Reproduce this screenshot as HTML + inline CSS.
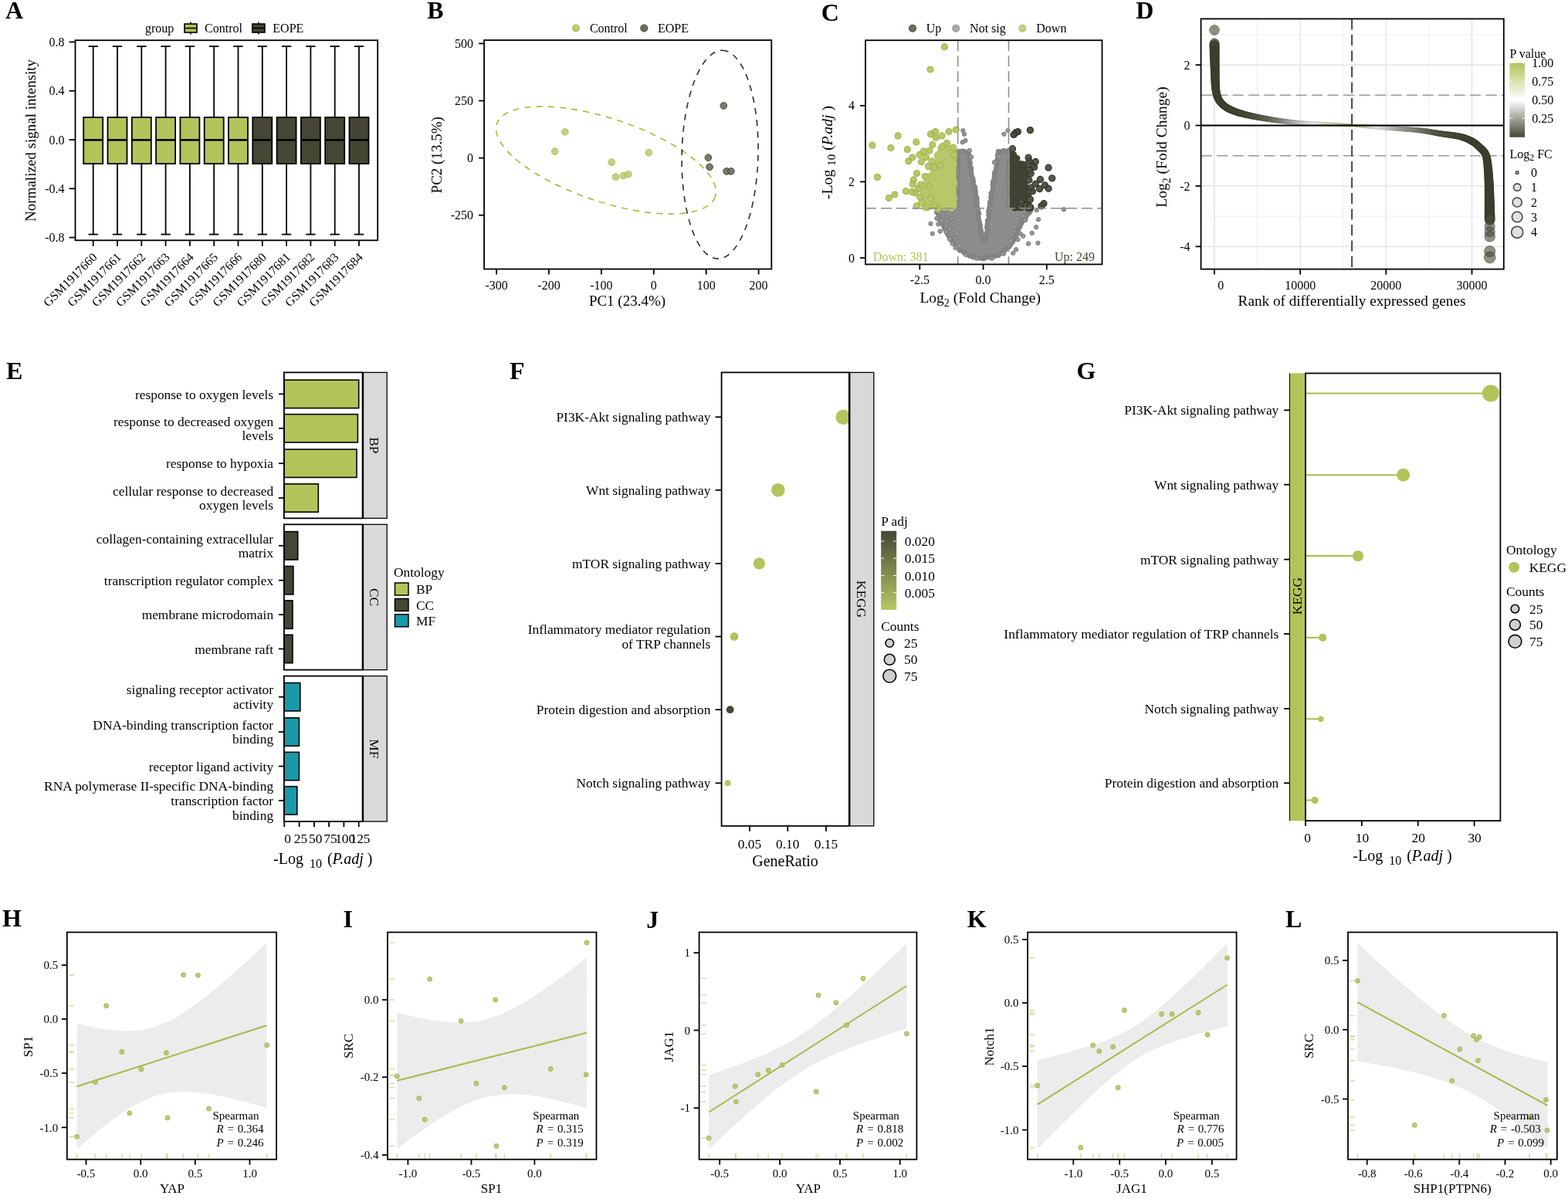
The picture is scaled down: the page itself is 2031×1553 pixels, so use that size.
<!DOCTYPE html><html><head><meta charset="utf-8"><title>Figure</title><style>html,body{margin:0;padding:0;background:#fff;width:2031px;height:1553px;overflow:hidden}svg{display:block}</style></head><body><svg width="2031" height="1553" viewBox="0 0 2031 1553" font-family="'Liberation Serif', serif" fill="#000"><text x="7" y="24.1" font-size="32" font-weight="bold">A</text>
<text x="188" y="41.9" font-size="16">group</text>
<line x1="247" y1="28.5" x2="247" y2="44.5" stroke="#000" stroke-width="1.6"/>
<rect x="239" y="31" width="16" height="11" fill="#b2c459" stroke="#000" stroke-width="1.6"/>
<line x1="239" y1="36.5" x2="255" y2="36.5" stroke="#000" stroke-width="1.6"/>
<text x="265.1" y="41.9" font-size="16">Control</text>
<line x1="334.9" y1="28.5" x2="334.9" y2="44.5" stroke="#000" stroke-width="1.6"/>
<rect x="326.9" y="31" width="16" height="11" fill="#454633" stroke="#000" stroke-width="1.6"/>
<line x1="326.9" y1="36.5" x2="342.9" y2="36.5" stroke="#000" stroke-width="1.6"/>
<text x="353.3" y="41.9" font-size="16">EOPE</text>
<line x1="120.7" y1="60" x2="120.7" y2="152" stroke="#000" stroke-width="1.8"/>
<line x1="120.7" y1="212" x2="120.7" y2="303.6" stroke="#000" stroke-width="1.8"/>
<line x1="114.5" y1="60" x2="126.9" y2="60" stroke="#000" stroke-width="1.8"/>
<line x1="114.5" y1="303.6" x2="126.9" y2="303.6" stroke="#000" stroke-width="1.8"/>
<rect x="108.2" y="152" width="25" height="60" fill="#b2c459" stroke="#000" stroke-width="1.8"/>
<line x1="108.2" y1="181.3" x2="133.2" y2="181.3" stroke="#000" stroke-width="2.6"/>
<line x1="152" y1="60" x2="152" y2="152" stroke="#000" stroke-width="1.8"/>
<line x1="152" y1="212" x2="152" y2="303.6" stroke="#000" stroke-width="1.8"/>
<line x1="145.8" y1="60" x2="158.2" y2="60" stroke="#000" stroke-width="1.8"/>
<line x1="145.8" y1="303.6" x2="158.2" y2="303.6" stroke="#000" stroke-width="1.8"/>
<rect x="139.5" y="152" width="25" height="60" fill="#b2c459" stroke="#000" stroke-width="1.8"/>
<line x1="139.5" y1="181.3" x2="164.5" y2="181.3" stroke="#000" stroke-width="2.6"/>
<line x1="183.3" y1="60" x2="183.3" y2="152" stroke="#000" stroke-width="1.8"/>
<line x1="183.3" y1="212" x2="183.3" y2="303.6" stroke="#000" stroke-width="1.8"/>
<line x1="177.1" y1="60" x2="189.5" y2="60" stroke="#000" stroke-width="1.8"/>
<line x1="177.1" y1="303.6" x2="189.5" y2="303.6" stroke="#000" stroke-width="1.8"/>
<rect x="170.8" y="152" width="25" height="60" fill="#b2c459" stroke="#000" stroke-width="1.8"/>
<line x1="170.8" y1="181.3" x2="195.8" y2="181.3" stroke="#000" stroke-width="2.6"/>
<line x1="214.6" y1="60" x2="214.6" y2="152" stroke="#000" stroke-width="1.8"/>
<line x1="214.6" y1="212" x2="214.6" y2="303.6" stroke="#000" stroke-width="1.8"/>
<line x1="208.4" y1="60" x2="220.8" y2="60" stroke="#000" stroke-width="1.8"/>
<line x1="208.4" y1="303.6" x2="220.8" y2="303.6" stroke="#000" stroke-width="1.8"/>
<rect x="202.1" y="152" width="25" height="60" fill="#b2c459" stroke="#000" stroke-width="1.8"/>
<line x1="202.1" y1="181.3" x2="227.1" y2="181.3" stroke="#000" stroke-width="2.6"/>
<line x1="245.9" y1="60" x2="245.9" y2="152" stroke="#000" stroke-width="1.8"/>
<line x1="245.9" y1="212" x2="245.9" y2="303.6" stroke="#000" stroke-width="1.8"/>
<line x1="239.7" y1="60" x2="252.1" y2="60" stroke="#000" stroke-width="1.8"/>
<line x1="239.7" y1="303.6" x2="252.1" y2="303.6" stroke="#000" stroke-width="1.8"/>
<rect x="233.4" y="152" width="25" height="60" fill="#b2c459" stroke="#000" stroke-width="1.8"/>
<line x1="233.4" y1="181.3" x2="258.4" y2="181.3" stroke="#000" stroke-width="2.6"/>
<line x1="277.2" y1="60" x2="277.2" y2="152" stroke="#000" stroke-width="1.8"/>
<line x1="277.2" y1="212" x2="277.2" y2="303.6" stroke="#000" stroke-width="1.8"/>
<line x1="271" y1="60" x2="283.4" y2="60" stroke="#000" stroke-width="1.8"/>
<line x1="271" y1="303.6" x2="283.4" y2="303.6" stroke="#000" stroke-width="1.8"/>
<rect x="264.7" y="152" width="25" height="60" fill="#b2c459" stroke="#000" stroke-width="1.8"/>
<line x1="264.7" y1="181.3" x2="289.7" y2="181.3" stroke="#000" stroke-width="2.6"/>
<line x1="308.5" y1="60" x2="308.5" y2="152" stroke="#000" stroke-width="1.8"/>
<line x1="308.5" y1="212" x2="308.5" y2="303.6" stroke="#000" stroke-width="1.8"/>
<line x1="302.3" y1="60" x2="314.7" y2="60" stroke="#000" stroke-width="1.8"/>
<line x1="302.3" y1="303.6" x2="314.7" y2="303.6" stroke="#000" stroke-width="1.8"/>
<rect x="296" y="152" width="25" height="60" fill="#b2c459" stroke="#000" stroke-width="1.8"/>
<line x1="296" y1="181.3" x2="321" y2="181.3" stroke="#000" stroke-width="2.6"/>
<line x1="339.8" y1="60" x2="339.8" y2="152" stroke="#000" stroke-width="1.8"/>
<line x1="339.8" y1="212" x2="339.8" y2="303.6" stroke="#000" stroke-width="1.8"/>
<line x1="333.6" y1="60" x2="346" y2="60" stroke="#000" stroke-width="1.8"/>
<line x1="333.6" y1="303.6" x2="346" y2="303.6" stroke="#000" stroke-width="1.8"/>
<rect x="327.3" y="152" width="25" height="60" fill="#454633" stroke="#000" stroke-width="1.8"/>
<line x1="327.3" y1="181.3" x2="352.3" y2="181.3" stroke="#000" stroke-width="2.6"/>
<line x1="371.1" y1="60" x2="371.1" y2="152" stroke="#000" stroke-width="1.8"/>
<line x1="371.1" y1="212" x2="371.1" y2="303.6" stroke="#000" stroke-width="1.8"/>
<line x1="364.9" y1="60" x2="377.3" y2="60" stroke="#000" stroke-width="1.8"/>
<line x1="364.9" y1="303.6" x2="377.3" y2="303.6" stroke="#000" stroke-width="1.8"/>
<rect x="358.6" y="152" width="25" height="60" fill="#454633" stroke="#000" stroke-width="1.8"/>
<line x1="358.6" y1="181.3" x2="383.6" y2="181.3" stroke="#000" stroke-width="2.6"/>
<line x1="402.4" y1="60" x2="402.4" y2="152" stroke="#000" stroke-width="1.8"/>
<line x1="402.4" y1="212" x2="402.4" y2="303.6" stroke="#000" stroke-width="1.8"/>
<line x1="396.2" y1="60" x2="408.6" y2="60" stroke="#000" stroke-width="1.8"/>
<line x1="396.2" y1="303.6" x2="408.6" y2="303.6" stroke="#000" stroke-width="1.8"/>
<rect x="389.9" y="152" width="25" height="60" fill="#454633" stroke="#000" stroke-width="1.8"/>
<line x1="389.9" y1="181.3" x2="414.9" y2="181.3" stroke="#000" stroke-width="2.6"/>
<line x1="433.7" y1="60" x2="433.7" y2="152" stroke="#000" stroke-width="1.8"/>
<line x1="433.7" y1="212" x2="433.7" y2="303.6" stroke="#000" stroke-width="1.8"/>
<line x1="427.5" y1="60" x2="439.9" y2="60" stroke="#000" stroke-width="1.8"/>
<line x1="427.5" y1="303.6" x2="439.9" y2="303.6" stroke="#000" stroke-width="1.8"/>
<rect x="421.2" y="152" width="25" height="60" fill="#454633" stroke="#000" stroke-width="1.8"/>
<line x1="421.2" y1="181.3" x2="446.2" y2="181.3" stroke="#000" stroke-width="2.6"/>
<line x1="465" y1="60" x2="465" y2="152" stroke="#000" stroke-width="1.8"/>
<line x1="465" y1="212" x2="465" y2="303.6" stroke="#000" stroke-width="1.8"/>
<line x1="458.8" y1="60" x2="471.2" y2="60" stroke="#000" stroke-width="1.8"/>
<line x1="458.8" y1="303.6" x2="471.2" y2="303.6" stroke="#000" stroke-width="1.8"/>
<rect x="452.5" y="152" width="25" height="60" fill="#454633" stroke="#000" stroke-width="1.8"/>
<line x1="452.5" y1="181.3" x2="477.5" y2="181.3" stroke="#000" stroke-width="2.6"/>
<rect x="97.5" y="52.2" width="391.7" height="259.1" fill="none" stroke="#000" stroke-width="1.8"/>
<line x1="89.5" y1="54.4" x2="97.5" y2="54.4" stroke="#000" stroke-width="1.8"/>
<text x="83.5" y="60" font-size="16" text-anchor="end">0.8</text>
<line x1="89.5" y1="117.7" x2="97.5" y2="117.7" stroke="#000" stroke-width="1.8"/>
<text x="83.5" y="123.3" font-size="16" text-anchor="end">0.4</text>
<line x1="89.5" y1="181" x2="97.5" y2="181" stroke="#000" stroke-width="1.8"/>
<text x="83.5" y="186.6" font-size="16" text-anchor="end">0.0</text>
<line x1="89.5" y1="244.3" x2="97.5" y2="244.3" stroke="#000" stroke-width="1.8"/>
<text x="83.5" y="249.9" font-size="16" text-anchor="end">-0.4</text>
<line x1="89.5" y1="307.6" x2="97.5" y2="307.6" stroke="#000" stroke-width="1.8"/>
<text x="83.5" y="313.2" font-size="16" text-anchor="end">-0.8</text>
<line x1="120.7" y1="311.3" x2="120.7" y2="318.8" stroke="#000" stroke-width="1.8"/>
<text x="126.7" y="334" font-size="16" text-anchor="end" transform="rotate(-45 126.7 334)">GSM1917660</text>
<line x1="152" y1="311.3" x2="152" y2="318.8" stroke="#000" stroke-width="1.8"/>
<text x="158" y="334" font-size="16" text-anchor="end" transform="rotate(-45 158 334)">GSM1917661</text>
<line x1="183.3" y1="311.3" x2="183.3" y2="318.8" stroke="#000" stroke-width="1.8"/>
<text x="189.3" y="334" font-size="16" text-anchor="end" transform="rotate(-45 189.3 334)">GSM1917662</text>
<line x1="214.6" y1="311.3" x2="214.6" y2="318.8" stroke="#000" stroke-width="1.8"/>
<text x="220.6" y="334" font-size="16" text-anchor="end" transform="rotate(-45 220.6 334)">GSM1917663</text>
<line x1="245.9" y1="311.3" x2="245.9" y2="318.8" stroke="#000" stroke-width="1.8"/>
<text x="251.9" y="334" font-size="16" text-anchor="end" transform="rotate(-45 251.9 334)">GSM1917664</text>
<line x1="277.2" y1="311.3" x2="277.2" y2="318.8" stroke="#000" stroke-width="1.8"/>
<text x="283.2" y="334" font-size="16" text-anchor="end" transform="rotate(-45 283.2 334)">GSM1917665</text>
<line x1="308.5" y1="311.3" x2="308.5" y2="318.8" stroke="#000" stroke-width="1.8"/>
<text x="314.5" y="334" font-size="16" text-anchor="end" transform="rotate(-45 314.5 334)">GSM1917666</text>
<line x1="339.8" y1="311.3" x2="339.8" y2="318.8" stroke="#000" stroke-width="1.8"/>
<text x="345.8" y="334" font-size="16" text-anchor="end" transform="rotate(-45 345.8 334)">GSM1917680</text>
<line x1="371.1" y1="311.3" x2="371.1" y2="318.8" stroke="#000" stroke-width="1.8"/>
<text x="377.1" y="334" font-size="16" text-anchor="end" transform="rotate(-45 377.1 334)">GSM1917681</text>
<line x1="402.4" y1="311.3" x2="402.4" y2="318.8" stroke="#000" stroke-width="1.8"/>
<text x="408.4" y="334" font-size="16" text-anchor="end" transform="rotate(-45 408.4 334)">GSM1917682</text>
<line x1="433.7" y1="311.3" x2="433.7" y2="318.8" stroke="#000" stroke-width="1.8"/>
<text x="439.7" y="334" font-size="16" text-anchor="end" transform="rotate(-45 439.7 334)">GSM1917683</text>
<line x1="465" y1="311.3" x2="465" y2="318.8" stroke="#000" stroke-width="1.8"/>
<text x="471" y="334" font-size="16" text-anchor="end" transform="rotate(-45 471 334)">GSM1917684</text>
<text x="45.9" y="181.9" font-size="19" text-anchor="middle" transform="rotate(-90 45.9 181.9)">Normalized signal intensity</text>
<text x="553.2" y="23.9" font-size="32" font-weight="bold">B</text>
<circle cx="746" cy="36.5" r="4.6" fill="#bccb78" stroke="#a9bb55" stroke-width="1"/>
<text x="763.9" y="42.2" font-size="16">Control</text>
<circle cx="834.3" cy="36.5" r="4.6" fill="#6b6d5c" stroke="#45473a" stroke-width="1"/>
<text x="852" y="42.2" font-size="16">EOPE</text>
<ellipse cx="785" cy="207.5" rx="149.1" ry="53.8" transform="rotate(18.47 785 207.5)" fill="none" stroke="#a6bc42" stroke-width="1.7" stroke-dasharray="8 7.2"/>
<ellipse cx="932.6" cy="200.2" rx="135" ry="49.4" transform="rotate(-88.7 932.6 200.2)" fill="none" stroke="#2e3023" stroke-width="1.6" stroke-dasharray="8 7.2"/>
<circle cx="731.9" cy="170.8" r="4.3" fill="#bccb78" stroke="#adbf5c" stroke-width="1" fill-opacity="0.9"/>
<circle cx="718.7" cy="196.1" r="4.3" fill="#bccb78" stroke="#adbf5c" stroke-width="1" fill-opacity="0.9"/>
<circle cx="792.1" cy="210.1" r="4.3" fill="#bccb78" stroke="#adbf5c" stroke-width="1" fill-opacity="0.9"/>
<circle cx="797.4" cy="229.1" r="4.3" fill="#bccb78" stroke="#adbf5c" stroke-width="1" fill-opacity="0.9"/>
<circle cx="807.4" cy="227.6" r="4.3" fill="#bccb78" stroke="#adbf5c" stroke-width="1" fill-opacity="0.9"/>
<circle cx="813.8" cy="225.7" r="4.3" fill="#bccb78" stroke="#adbf5c" stroke-width="1" fill-opacity="0.9"/>
<circle cx="840.4" cy="197.7" r="4.3" fill="#bccb78" stroke="#adbf5c" stroke-width="1" fill-opacity="0.9"/>
<circle cx="937.3" cy="136.9" r="4.3" fill="#6b6d5c" stroke="#45473a" stroke-width="1" fill-opacity="0.9"/>
<circle cx="917.4" cy="204.1" r="4.3" fill="#6b6d5c" stroke="#45473a" stroke-width="1" fill-opacity="0.9"/>
<circle cx="919.1" cy="216.3" r="4.3" fill="#6b6d5c" stroke="#45473a" stroke-width="1" fill-opacity="0.9"/>
<circle cx="941.1" cy="221.9" r="4.3" fill="#6b6d5c" stroke="#45473a" stroke-width="1" fill-opacity="0.9"/>
<circle cx="946.9" cy="221.9" r="4.3" fill="#6b6d5c" stroke="#45473a" stroke-width="1" fill-opacity="0.9"/>
<rect x="627.1" y="52" width="372.2" height="296.5" fill="none" stroke="#000" stroke-width="1.8"/>
<line x1="620.1" y1="56.4" x2="627.1" y2="56.4" stroke="#000" stroke-width="1.8"/>
<text x="613.1" y="62" font-size="16" text-anchor="end">500</text>
<line x1="620.1" y1="130.5" x2="627.1" y2="130.5" stroke="#000" stroke-width="1.8"/>
<text x="613.1" y="136.1" font-size="16" text-anchor="end">250</text>
<line x1="620.1" y1="204.6" x2="627.1" y2="204.6" stroke="#000" stroke-width="1.8"/>
<text x="613.1" y="210.2" font-size="16" text-anchor="end">0</text>
<line x1="620.1" y1="278.7" x2="627.1" y2="278.7" stroke="#000" stroke-width="1.8"/>
<text x="613.1" y="284.3" font-size="16" text-anchor="end">-250</text>
<line x1="643.1" y1="348.5" x2="643.1" y2="355.5" stroke="#000" stroke-width="1.8"/>
<text x="643.1" y="374.5" font-size="16" text-anchor="middle">-300</text>
<line x1="711" y1="348.5" x2="711" y2="355.5" stroke="#000" stroke-width="1.8"/>
<text x="711" y="374.5" font-size="16" text-anchor="middle">-200</text>
<line x1="778.9" y1="348.5" x2="778.9" y2="355.5" stroke="#000" stroke-width="1.8"/>
<text x="778.9" y="374.5" font-size="16" text-anchor="middle">-100</text>
<line x1="846.8" y1="348.5" x2="846.8" y2="355.5" stroke="#000" stroke-width="1.8"/>
<text x="846.8" y="374.5" font-size="16" text-anchor="middle">0</text>
<line x1="914.7" y1="348.5" x2="914.7" y2="355.5" stroke="#000" stroke-width="1.8"/>
<text x="914.7" y="374.5" font-size="16" text-anchor="middle">100</text>
<line x1="982.6" y1="348.5" x2="982.6" y2="355.5" stroke="#000" stroke-width="1.8"/>
<text x="982.6" y="374.5" font-size="16" text-anchor="middle">200</text>
<text x="812.5" y="396" font-size="19" text-anchor="middle">PC1 (23.4%)</text>
<text x="572" y="200.8" font-size="19" text-anchor="middle" transform="rotate(-90 572 200.8)">PC2 (13.5%)</text>
<text x="1063.8" y="26.9" font-size="32" font-weight="bold">C</text>
<circle cx="1182" cy="36.8" r="4.4" fill="#6e705f" stroke="#4a4c3c" stroke-width="1.2"/>
<text x="1199.7" y="42.3" font-size="16">Up</text>
<circle cx="1238.2" cy="36.8" r="4.4" fill="#a9a9a9" stroke="#969696" stroke-width="1.2"/>
<text x="1256.1" y="42.3" font-size="16">Not sig</text>
<circle cx="1324.3" cy="36.8" r="4.4" fill="#c3d085" stroke="#b0c162" stroke-width="1.2"/>
<text x="1342.3" y="42.3" font-size="16">Down</text>
<path d="M1274.2 337 L1257.4 333.9 L1242.1 325.5 L1233.7 316.4 L1226.8 305.7 L1220.7 295 L1215.4 284.3 L1211.6 274.4 L1213.1 269.8 L1238.3 269.8 L1238.3 194.3 L1240.6 193.8 L1243.6 193.5 L1249.7 194 L1255.8 195.8 L1258.1 211.1 L1261.2 226.3 L1264.2 241.6 L1266.8 256.8 L1269.1 272.1 L1271.4 291.9 L1273.1 307.2 L1274.2 311.8 L1275.4 307.2 L1276.9 291.9 L1279.2 272.1 L1281.5 256.8 L1283.6 241.6 L1286.4 223.3 L1289.4 208 L1292.5 194.3 L1300.1 192.7 L1307 193.5 L1309.3 194.3 L1309.3 269.8 L1332.1 270.6 L1336.7 275.2 L1330.6 281.3 L1325.3 290.4 L1319.9 301.1 L1313.8 313.3 L1307.7 322.5 L1295.5 331.6Z" fill="#8c8c8c"/>
<path d="M1274.4 335.3m-2.6 0a2.6 2.6 0 1 0 5.2 0a2.6 2.6 0 1 0 -5.2 0 M1272 335.2m-2.6 0a2.6 2.6 0 1 0 5.2 0a2.6 2.6 0 1 0 -5.2 0 M1269.8 333.8m-2.6 0a2.6 2.6 0 1 0 5.2 0a2.6 2.6 0 1 0 -5.2 0 M1267.2 334.5m-2.6 0a2.6 2.6 0 1 0 5.2 0a2.6 2.6 0 1 0 -5.2 0 M1264.9 333.2m-2.6 0a2.6 2.6 0 1 0 5.2 0a2.6 2.6 0 1 0 -5.2 0 M1262.5 333.1m-2.6 0a2.6 2.6 0 1 0 5.2 0a2.6 2.6 0 1 0 -5.2 0 M1260 333.3m-2.6 0a2.6 2.6 0 1 0 5.2 0a2.6 2.6 0 1 0 -5.2 0 M1258.3 332.1m-2.6 0a2.6 2.6 0 1 0 5.2 0a2.6 2.6 0 1 0 -5.2 0 M1255.7 331.8m-2.6 0a2.6 2.6 0 1 0 5.2 0a2.6 2.6 0 1 0 -5.2 0 M1253.9 329.9m-2.6 0a2.6 2.6 0 1 0 5.2 0a2.6 2.6 0 1 0 -5.2 0 M1251.4 329.3m-2.6 0a2.6 2.6 0 1 0 5.2 0a2.6 2.6 0 1 0 -5.2 0 M1249.2 328.1m-2.6 0a2.6 2.6 0 1 0 5.2 0a2.6 2.6 0 1 0 -5.2 0 M1247.4 326.3m-2.6 0a2.6 2.6 0 1 0 5.2 0a2.6 2.6 0 1 0 -5.2 0 M1245.6 324.4m-2.6 0a2.6 2.6 0 1 0 5.2 0a2.6 2.6 0 1 0 -5.2 0 M1243 324.7m-2.6 0a2.6 2.6 0 1 0 5.2 0a2.6 2.6 0 1 0 -5.2 0 M1241.5 322.7m-2.6 0a2.6 2.6 0 1 0 5.2 0a2.6 2.6 0 1 0 -5.2 0 M1240.4 320.3m-2.6 0a2.6 2.6 0 1 0 5.2 0a2.6 2.6 0 1 0 -5.2 0 M1239.2 318.1m-2.6 0a2.6 2.6 0 1 0 5.2 0a2.6 2.6 0 1 0 -5.2 0 M1237 316.7m-2.6 0a2.6 2.6 0 1 0 5.2 0a2.6 2.6 0 1 0 -5.2 0 M1235.2 315.4m-2.6 0a2.6 2.6 0 1 0 5.2 0a2.6 2.6 0 1 0 -5.2 0 M1234.8 312.6m-2.6 0a2.6 2.6 0 1 0 5.2 0a2.6 2.6 0 1 0 -5.2 0 M1231.9 311.5m-2.6 0a2.6 2.6 0 1 0 5.2 0a2.6 2.6 0 1 0 -5.2 0 M1231.9 308.5m-2.6 0a2.6 2.6 0 1 0 5.2 0a2.6 2.6 0 1 0 -5.2 0 M1229.5 307m-2.6 0a2.6 2.6 0 1 0 5.2 0a2.6 2.6 0 1 0 -5.2 0 M1228 305m-2.6 0a2.6 2.6 0 1 0 5.2 0a2.6 2.6 0 1 0 -5.2 0 M1226.7 302.9m-2.6 0a2.6 2.6 0 1 0 5.2 0a2.6 2.6 0 1 0 -5.2 0 M1225.8 300.6m-2.6 0a2.6 2.6 0 1 0 5.2 0a2.6 2.6 0 1 0 -5.2 0 M1225.5 298m-2.6 0a2.6 2.6 0 1 0 5.2 0a2.6 2.6 0 1 0 -5.2 0 M1223.1 296.5m-2.6 0a2.6 2.6 0 1 0 5.2 0a2.6 2.6 0 1 0 -5.2 0 M1222.7 294m-2.6 0a2.6 2.6 0 1 0 5.2 0a2.6 2.6 0 1 0 -5.2 0 M1221.7 291.8m-2.6 0a2.6 2.6 0 1 0 5.2 0a2.6 2.6 0 1 0 -5.2 0 M1220.2 289.9m-2.6 0a2.6 2.6 0 1 0 5.2 0a2.6 2.6 0 1 0 -5.2 0 M1219.4 287.6m-2.6 0a2.6 2.6 0 1 0 5.2 0a2.6 2.6 0 1 0 -5.2 0 M1217.5 285.9m-2.6 0a2.6 2.6 0 1 0 5.2 0a2.6 2.6 0 1 0 -5.2 0 M1216.4 283.9m-2.6 0a2.6 2.6 0 1 0 5.2 0a2.6 2.6 0 1 0 -5.2 0 M1215.8 281.3m-2.6 0a2.6 2.6 0 1 0 5.2 0a2.6 2.6 0 1 0 -5.2 0 M1215.7 278.5m-2.6 0a2.6 2.6 0 1 0 5.2 0a2.6 2.6 0 1 0 -5.2 0 M1214.3 276.2m-2.6 0a2.6 2.6 0 1 0 5.2 0a2.6 2.6 0 1 0 -5.2 0 M1213.1 274.9m-2.6 0a2.6 2.6 0 1 0 5.2 0a2.6 2.6 0 1 0 -5.2 0 M1214.4 272.8m-2.6 0a2.6 2.6 0 1 0 5.2 0a2.6 2.6 0 1 0 -5.2 0 M1240.2 267.6m-2.6 0a2.6 2.6 0 1 0 5.2 0a2.6 2.6 0 1 0 -5.2 0 M1239.9 265.4m-2.6 0a2.6 2.6 0 1 0 5.2 0a2.6 2.6 0 1 0 -5.2 0 M1240.9 263.1m-2.6 0a2.6 2.6 0 1 0 5.2 0a2.6 2.6 0 1 0 -5.2 0 M1240.7 260.9m-2.6 0a2.6 2.6 0 1 0 5.2 0a2.6 2.6 0 1 0 -5.2 0 M1239.8 258.7m-2.6 0a2.6 2.6 0 1 0 5.2 0a2.6 2.6 0 1 0 -5.2 0 M1240.4 256.5m-2.6 0a2.6 2.6 0 1 0 5.2 0a2.6 2.6 0 1 0 -5.2 0 M1240.3 254.3m-2.6 0a2.6 2.6 0 1 0 5.2 0a2.6 2.6 0 1 0 -5.2 0 M1241 252m-2.6 0a2.6 2.6 0 1 0 5.2 0a2.6 2.6 0 1 0 -5.2 0 M1240.7 249.8m-2.6 0a2.6 2.6 0 1 0 5.2 0a2.6 2.6 0 1 0 -5.2 0 M1239.9 247.6m-2.6 0a2.6 2.6 0 1 0 5.2 0a2.6 2.6 0 1 0 -5.2 0 M1241.2 245.4m-2.6 0a2.6 2.6 0 1 0 5.2 0a2.6 2.6 0 1 0 -5.2 0 M1239.5 243.1m-2.6 0a2.6 2.6 0 1 0 5.2 0a2.6 2.6 0 1 0 -5.2 0 M1240.1 240.9m-2.6 0a2.6 2.6 0 1 0 5.2 0a2.6 2.6 0 1 0 -5.2 0 M1240.8 238.7m-2.6 0a2.6 2.6 0 1 0 5.2 0a2.6 2.6 0 1 0 -5.2 0 M1239.6 236.5m-2.6 0a2.6 2.6 0 1 0 5.2 0a2.6 2.6 0 1 0 -5.2 0 M1240.3 234.3m-2.6 0a2.6 2.6 0 1 0 5.2 0a2.6 2.6 0 1 0 -5.2 0 M1239.4 232m-2.6 0a2.6 2.6 0 1 0 5.2 0a2.6 2.6 0 1 0 -5.2 0 M1240.6 229.8m-2.6 0a2.6 2.6 0 1 0 5.2 0a2.6 2.6 0 1 0 -5.2 0 M1240.8 227.6m-2.6 0a2.6 2.6 0 1 0 5.2 0a2.6 2.6 0 1 0 -5.2 0 M1240.4 225.4m-2.6 0a2.6 2.6 0 1 0 5.2 0a2.6 2.6 0 1 0 -5.2 0 M1241 223.1m-2.6 0a2.6 2.6 0 1 0 5.2 0a2.6 2.6 0 1 0 -5.2 0 M1239.9 220.9m-2.6 0a2.6 2.6 0 1 0 5.2 0a2.6 2.6 0 1 0 -5.2 0 M1240.7 218.7m-2.6 0a2.6 2.6 0 1 0 5.2 0a2.6 2.6 0 1 0 -5.2 0 M1240.5 216.5m-2.6 0a2.6 2.6 0 1 0 5.2 0a2.6 2.6 0 1 0 -5.2 0 M1240.4 214.3m-2.6 0a2.6 2.6 0 1 0 5.2 0a2.6 2.6 0 1 0 -5.2 0 M1240.2 212m-2.6 0a2.6 2.6 0 1 0 5.2 0a2.6 2.6 0 1 0 -5.2 0 M1241 209.8m-2.6 0a2.6 2.6 0 1 0 5.2 0a2.6 2.6 0 1 0 -5.2 0 M1241.2 207.6m-2.6 0a2.6 2.6 0 1 0 5.2 0a2.6 2.6 0 1 0 -5.2 0 M1240.2 205.4m-2.6 0a2.6 2.6 0 1 0 5.2 0a2.6 2.6 0 1 0 -5.2 0 M1240.6 203.1m-2.6 0a2.6 2.6 0 1 0 5.2 0a2.6 2.6 0 1 0 -5.2 0 M1239.4 200.9m-2.6 0a2.6 2.6 0 1 0 5.2 0a2.6 2.6 0 1 0 -5.2 0 M1240.7 198.7m-2.6 0a2.6 2.6 0 1 0 5.2 0a2.6 2.6 0 1 0 -5.2 0 M1240.6 196.5m-2.6 0a2.6 2.6 0 1 0 5.2 0a2.6 2.6 0 1 0 -5.2 0 M1238.9 197.2m-2.6 0a2.6 2.6 0 1 0 5.2 0a2.6 2.6 0 1 0 -5.2 0 M1243.4 196.1m-2.6 0a2.6 2.6 0 1 0 5.2 0a2.6 2.6 0 1 0 -5.2 0 M1246.6 195.3m-2.6 0a2.6 2.6 0 1 0 5.2 0a2.6 2.6 0 1 0 -5.2 0 M1249.2 195.7m-2.6 0a2.6 2.6 0 1 0 5.2 0a2.6 2.6 0 1 0 -5.2 0 M1252.1 197.1m-2.6 0a2.6 2.6 0 1 0 5.2 0a2.6 2.6 0 1 0 -5.2 0 M1254.8 195.9m-2.6 0a2.6 2.6 0 1 0 5.2 0a2.6 2.6 0 1 0 -5.2 0 M1254.3 198.3m-2.6 0a2.6 2.6 0 1 0 5.2 0a2.6 2.6 0 1 0 -5.2 0 M1255.2 200.3m-2.6 0a2.6 2.6 0 1 0 5.2 0a2.6 2.6 0 1 0 -5.2 0 M1255.6 202.5m-2.6 0a2.6 2.6 0 1 0 5.2 0a2.6 2.6 0 1 0 -5.2 0 M1256 204.7m-2.6 0a2.6 2.6 0 1 0 5.2 0a2.6 2.6 0 1 0 -5.2 0 M1255 207.1m-2.6 0a2.6 2.6 0 1 0 5.2 0a2.6 2.6 0 1 0 -5.2 0 M1256.6 209.1m-2.6 0a2.6 2.6 0 1 0 5.2 0a2.6 2.6 0 1 0 -5.2 0 M1256.7 211.3m-2.6 0a2.6 2.6 0 1 0 5.2 0a2.6 2.6 0 1 0 -5.2 0 M1256.8 213.6m-2.6 0a2.6 2.6 0 1 0 5.2 0a2.6 2.6 0 1 0 -5.2 0 M1256.3 215.9m-2.6 0a2.6 2.6 0 1 0 5.2 0a2.6 2.6 0 1 0 -5.2 0 M1258.3 217.8m-2.6 0a2.6 2.6 0 1 0 5.2 0a2.6 2.6 0 1 0 -5.2 0 M1258 220.1m-2.6 0a2.6 2.6 0 1 0 5.2 0a2.6 2.6 0 1 0 -5.2 0 M1258.2 222.4m-2.6 0a2.6 2.6 0 1 0 5.2 0a2.6 2.6 0 1 0 -5.2 0 M1258 224.7m-2.6 0a2.6 2.6 0 1 0 5.2 0a2.6 2.6 0 1 0 -5.2 0 M1258.6 226.8m-2.6 0a2.6 2.6 0 1 0 5.2 0a2.6 2.6 0 1 0 -5.2 0 M1258.9 229m-2.6 0a2.6 2.6 0 1 0 5.2 0a2.6 2.6 0 1 0 -5.2 0 M1260.5 231m-2.6 0a2.6 2.6 0 1 0 5.2 0a2.6 2.6 0 1 0 -5.2 0 M1260.7 233.2m-2.6 0a2.6 2.6 0 1 0 5.2 0a2.6 2.6 0 1 0 -5.2 0 M1261.2 235.4m-2.6 0a2.6 2.6 0 1 0 5.2 0a2.6 2.6 0 1 0 -5.2 0 M1260.6 237.8m-2.6 0a2.6 2.6 0 1 0 5.2 0a2.6 2.6 0 1 0 -5.2 0 M1260.9 240m-2.6 0a2.6 2.6 0 1 0 5.2 0a2.6 2.6 0 1 0 -5.2 0 M1262.9 241.8m-2.6 0a2.6 2.6 0 1 0 5.2 0a2.6 2.6 0 1 0 -5.2 0 M1263.3 244m-2.6 0a2.6 2.6 0 1 0 5.2 0a2.6 2.6 0 1 0 -5.2 0 M1263.5 246.2m-2.6 0a2.6 2.6 0 1 0 5.2 0a2.6 2.6 0 1 0 -5.2 0 M1263.9 248.4m-2.6 0a2.6 2.6 0 1 0 5.2 0a2.6 2.6 0 1 0 -5.2 0 M1263.8 250.6m-2.6 0a2.6 2.6 0 1 0 5.2 0a2.6 2.6 0 1 0 -5.2 0 M1263.9 252.8m-2.6 0a2.6 2.6 0 1 0 5.2 0a2.6 2.6 0 1 0 -5.2 0 M1265 254.9m-2.6 0a2.6 2.6 0 1 0 5.2 0a2.6 2.6 0 1 0 -5.2 0 M1265.8 257m-2.6 0a2.6 2.6 0 1 0 5.2 0a2.6 2.6 0 1 0 -5.2 0 M1265.3 259.3m-2.6 0a2.6 2.6 0 1 0 5.2 0a2.6 2.6 0 1 0 -5.2 0 M1265.8 261.5m-2.6 0a2.6 2.6 0 1 0 5.2 0a2.6 2.6 0 1 0 -5.2 0 M1265.7 263.7m-2.6 0a2.6 2.6 0 1 0 5.2 0a2.6 2.6 0 1 0 -5.2 0 M1265.3 266m-2.6 0a2.6 2.6 0 1 0 5.2 0a2.6 2.6 0 1 0 -5.2 0 M1266.1 268.1m-2.6 0a2.6 2.6 0 1 0 5.2 0a2.6 2.6 0 1 0 -5.2 0 M1266.8 270.2m-2.6 0a2.6 2.6 0 1 0 5.2 0a2.6 2.6 0 1 0 -5.2 0 M1266.9 272.4m-2.6 0a2.6 2.6 0 1 0 5.2 0a2.6 2.6 0 1 0 -5.2 0 M1267 274.6m-2.6 0a2.6 2.6 0 1 0 5.2 0a2.6 2.6 0 1 0 -5.2 0 M1268.5 276.6m-2.6 0a2.6 2.6 0 1 0 5.2 0a2.6 2.6 0 1 0 -5.2 0 M1267.1 279m-2.6 0a2.6 2.6 0 1 0 5.2 0a2.6 2.6 0 1 0 -5.2 0 M1267.6 281.2m-2.6 0a2.6 2.6 0 1 0 5.2 0a2.6 2.6 0 1 0 -5.2 0 M1267.7 283.4m-2.6 0a2.6 2.6 0 1 0 5.2 0a2.6 2.6 0 1 0 -5.2 0 M1268.1 285.6m-2.6 0a2.6 2.6 0 1 0 5.2 0a2.6 2.6 0 1 0 -5.2 0 M1269.1 287.7m-2.6 0a2.6 2.6 0 1 0 5.2 0a2.6 2.6 0 1 0 -5.2 0 M1269.4 289.9m-2.6 0a2.6 2.6 0 1 0 5.2 0a2.6 2.6 0 1 0 -5.2 0 M1270.2 292.1m-2.6 0a2.6 2.6 0 1 0 5.2 0a2.6 2.6 0 1 0 -5.2 0 M1269.4 294.7m-2.6 0a2.6 2.6 0 1 0 5.2 0a2.6 2.6 0 1 0 -5.2 0 M1270.8 297.2m-2.6 0a2.6 2.6 0 1 0 5.2 0a2.6 2.6 0 1 0 -5.2 0 M1271.1 299.7m-2.6 0a2.6 2.6 0 1 0 5.2 0a2.6 2.6 0 1 0 -5.2 0 M1271.1 302.3m-2.6 0a2.6 2.6 0 1 0 5.2 0a2.6 2.6 0 1 0 -5.2 0 M1271.5 304.8m-2.6 0a2.6 2.6 0 1 0 5.2 0a2.6 2.6 0 1 0 -5.2 0 M1271.4 307.6m-2.6 0a2.6 2.6 0 1 0 5.2 0a2.6 2.6 0 1 0 -5.2 0 M1272.5 309.7m-2.6 0a2.6 2.6 0 1 0 5.2 0a2.6 2.6 0 1 0 -5.2 0 M1275.1 312m-2.6 0a2.6 2.6 0 1 0 5.2 0a2.6 2.6 0 1 0 -5.2 0 M1276 309.8m-2.6 0a2.6 2.6 0 1 0 5.2 0a2.6 2.6 0 1 0 -5.2 0 M1276.6 307.3m-2.6 0a2.6 2.6 0 1 0 5.2 0a2.6 2.6 0 1 0 -5.2 0 M1277.3 304.8m-2.6 0a2.6 2.6 0 1 0 5.2 0a2.6 2.6 0 1 0 -5.2 0 M1276.9 302.2m-2.6 0a2.6 2.6 0 1 0 5.2 0a2.6 2.6 0 1 0 -5.2 0 M1278.9 299.8m-2.6 0a2.6 2.6 0 1 0 5.2 0a2.6 2.6 0 1 0 -5.2 0 M1278.6 297.3m-2.6 0a2.6 2.6 0 1 0 5.2 0a2.6 2.6 0 1 0 -5.2 0 M1277.9 294.6m-2.6 0a2.6 2.6 0 1 0 5.2 0a2.6 2.6 0 1 0 -5.2 0 M1278.4 292.1m-2.6 0a2.6 2.6 0 1 0 5.2 0a2.6 2.6 0 1 0 -5.2 0 M1278.8 289.9m-2.6 0a2.6 2.6 0 1 0 5.2 0a2.6 2.6 0 1 0 -5.2 0 M1279.1 287.7m-2.6 0a2.6 2.6 0 1 0 5.2 0a2.6 2.6 0 1 0 -5.2 0 M1278.9 285.5m-2.6 0a2.6 2.6 0 1 0 5.2 0a2.6 2.6 0 1 0 -5.2 0 M1280.6 283.4m-2.6 0a2.6 2.6 0 1 0 5.2 0a2.6 2.6 0 1 0 -5.2 0 M1281.1 281.3m-2.6 0a2.6 2.6 0 1 0 5.2 0a2.6 2.6 0 1 0 -5.2 0 M1280.3 278.9m-2.6 0a2.6 2.6 0 1 0 5.2 0a2.6 2.6 0 1 0 -5.2 0 M1280.6 276.7m-2.6 0a2.6 2.6 0 1 0 5.2 0a2.6 2.6 0 1 0 -5.2 0 M1280.1 274.4m-2.6 0a2.6 2.6 0 1 0 5.2 0a2.6 2.6 0 1 0 -5.2 0 M1280.4 272.3m-2.6 0a2.6 2.6 0 1 0 5.2 0a2.6 2.6 0 1 0 -5.2 0 M1281.2 270.2m-2.6 0a2.6 2.6 0 1 0 5.2 0a2.6 2.6 0 1 0 -5.2 0 M1281.4 268m-2.6 0a2.6 2.6 0 1 0 5.2 0a2.6 2.6 0 1 0 -5.2 0 M1282.8 266m-2.6 0a2.6 2.6 0 1 0 5.2 0a2.6 2.6 0 1 0 -5.2 0 M1281.8 263.6m-2.6 0a2.6 2.6 0 1 0 5.2 0a2.6 2.6 0 1 0 -5.2 0 M1281.9 261.4m-2.6 0a2.6 2.6 0 1 0 5.2 0a2.6 2.6 0 1 0 -5.2 0 M1284 259.4m-2.6 0a2.6 2.6 0 1 0 5.2 0a2.6 2.6 0 1 0 -5.2 0 M1283.5 257.1m-2.6 0a2.6 2.6 0 1 0 5.2 0a2.6 2.6 0 1 0 -5.2 0 M1283.1 254.8m-2.6 0a2.6 2.6 0 1 0 5.2 0a2.6 2.6 0 1 0 -5.2 0 M1284.2 252.8m-2.6 0a2.6 2.6 0 1 0 5.2 0a2.6 2.6 0 1 0 -5.2 0 M1283.4 250.4m-2.6 0a2.6 2.6 0 1 0 5.2 0a2.6 2.6 0 1 0 -5.2 0 M1284.7 248.4m-2.6 0a2.6 2.6 0 1 0 5.2 0a2.6 2.6 0 1 0 -5.2 0 M1285.9 246.3m-2.6 0a2.6 2.6 0 1 0 5.2 0a2.6 2.6 0 1 0 -5.2 0 M1286 244.1m-2.6 0a2.6 2.6 0 1 0 5.2 0a2.6 2.6 0 1 0 -5.2 0 M1286 241.9m-2.6 0a2.6 2.6 0 1 0 5.2 0a2.6 2.6 0 1 0 -5.2 0 M1285.5 239.5m-2.6 0a2.6 2.6 0 1 0 5.2 0a2.6 2.6 0 1 0 -5.2 0 M1286 237.3m-2.6 0a2.6 2.6 0 1 0 5.2 0a2.6 2.6 0 1 0 -5.2 0 M1286 234.9m-2.6 0a2.6 2.6 0 1 0 5.2 0a2.6 2.6 0 1 0 -5.2 0 M1287.5 232.8m-2.6 0a2.6 2.6 0 1 0 5.2 0a2.6 2.6 0 1 0 -5.2 0 M1287.4 230.4m-2.6 0a2.6 2.6 0 1 0 5.2 0a2.6 2.6 0 1 0 -5.2 0 M1288.2 228.2m-2.6 0a2.6 2.6 0 1 0 5.2 0a2.6 2.6 0 1 0 -5.2 0 M1287.7 225.8m-2.6 0a2.6 2.6 0 1 0 5.2 0a2.6 2.6 0 1 0 -5.2 0 M1287.8 223.5m-2.6 0a2.6 2.6 0 1 0 5.2 0a2.6 2.6 0 1 0 -5.2 0 M1289.4 221.6m-2.6 0a2.6 2.6 0 1 0 5.2 0a2.6 2.6 0 1 0 -5.2 0 M1290.1 219.5m-2.6 0a2.6 2.6 0 1 0 5.2 0a2.6 2.6 0 1 0 -5.2 0 M1290.3 217.2m-2.6 0a2.6 2.6 0 1 0 5.2 0a2.6 2.6 0 1 0 -5.2 0 M1290.7 215.1m-2.6 0a2.6 2.6 0 1 0 5.2 0a2.6 2.6 0 1 0 -5.2 0 M1291.1 212.9m-2.6 0a2.6 2.6 0 1 0 5.2 0a2.6 2.6 0 1 0 -5.2 0 M1291.4 210.7m-2.6 0a2.6 2.6 0 1 0 5.2 0a2.6 2.6 0 1 0 -5.2 0 M1290.8 208.3m-2.6 0a2.6 2.6 0 1 0 5.2 0a2.6 2.6 0 1 0 -5.2 0 M1291.9 206.1m-2.6 0a2.6 2.6 0 1 0 5.2 0a2.6 2.6 0 1 0 -5.2 0 M1292.1 203.8m-2.6 0a2.6 2.6 0 1 0 5.2 0a2.6 2.6 0 1 0 -5.2 0 M1292 201.4m-2.6 0a2.6 2.6 0 1 0 5.2 0a2.6 2.6 0 1 0 -5.2 0 M1292.5 199.1m-2.6 0a2.6 2.6 0 1 0 5.2 0a2.6 2.6 0 1 0 -5.2 0 M1293.5 196.9m-2.6 0a2.6 2.6 0 1 0 5.2 0a2.6 2.6 0 1 0 -5.2 0 M1292.8 195.8m-2.6 0a2.6 2.6 0 1 0 5.2 0a2.6 2.6 0 1 0 -5.2 0 M1295.5 196.1m-2.6 0a2.6 2.6 0 1 0 5.2 0a2.6 2.6 0 1 0 -5.2 0 M1298.1 196.1m-2.6 0a2.6 2.6 0 1 0 5.2 0a2.6 2.6 0 1 0 -5.2 0 M1299.9 194.6m-2.6 0a2.6 2.6 0 1 0 5.2 0a2.6 2.6 0 1 0 -5.2 0 M1302.1 195.8m-2.6 0a2.6 2.6 0 1 0 5.2 0a2.6 2.6 0 1 0 -5.2 0 M1304.3 196.2m-2.6 0a2.6 2.6 0 1 0 5.2 0a2.6 2.6 0 1 0 -5.2 0 M1306.3 194.3m-2.6 0a2.6 2.6 0 1 0 5.2 0a2.6 2.6 0 1 0 -5.2 0 M1307.5 196.5m-2.6 0a2.6 2.6 0 1 0 5.2 0a2.6 2.6 0 1 0 -5.2 0 M1307.8 198.7m-2.6 0a2.6 2.6 0 1 0 5.2 0a2.6 2.6 0 1 0 -5.2 0 M1307.8 200.9m-2.6 0a2.6 2.6 0 1 0 5.2 0a2.6 2.6 0 1 0 -5.2 0 M1307.9 203.1m-2.6 0a2.6 2.6 0 1 0 5.2 0a2.6 2.6 0 1 0 -5.2 0 M1307.8 205.4m-2.6 0a2.6 2.6 0 1 0 5.2 0a2.6 2.6 0 1 0 -5.2 0 M1307 207.6m-2.6 0a2.6 2.6 0 1 0 5.2 0a2.6 2.6 0 1 0 -5.2 0 M1306.5 209.8m-2.6 0a2.6 2.6 0 1 0 5.2 0a2.6 2.6 0 1 0 -5.2 0 M1306.6 212m-2.6 0a2.6 2.6 0 1 0 5.2 0a2.6 2.6 0 1 0 -5.2 0 M1307.3 214.3m-2.6 0a2.6 2.6 0 1 0 5.2 0a2.6 2.6 0 1 0 -5.2 0 M1306.9 216.5m-2.6 0a2.6 2.6 0 1 0 5.2 0a2.6 2.6 0 1 0 -5.2 0 M1306.7 218.7m-2.6 0a2.6 2.6 0 1 0 5.2 0a2.6 2.6 0 1 0 -5.2 0 M1308.1 220.9m-2.6 0a2.6 2.6 0 1 0 5.2 0a2.6 2.6 0 1 0 -5.2 0 M1306.9 223.1m-2.6 0a2.6 2.6 0 1 0 5.2 0a2.6 2.6 0 1 0 -5.2 0 M1306.4 225.4m-2.6 0a2.6 2.6 0 1 0 5.2 0a2.6 2.6 0 1 0 -5.2 0 M1306.7 227.6m-2.6 0a2.6 2.6 0 1 0 5.2 0a2.6 2.6 0 1 0 -5.2 0 M1306.8 229.8m-2.6 0a2.6 2.6 0 1 0 5.2 0a2.6 2.6 0 1 0 -5.2 0 M1307.3 232m-2.6 0a2.6 2.6 0 1 0 5.2 0a2.6 2.6 0 1 0 -5.2 0 M1307.9 234.3m-2.6 0a2.6 2.6 0 1 0 5.2 0a2.6 2.6 0 1 0 -5.2 0 M1306.7 236.5m-2.6 0a2.6 2.6 0 1 0 5.2 0a2.6 2.6 0 1 0 -5.2 0 M1307.6 238.7m-2.6 0a2.6 2.6 0 1 0 5.2 0a2.6 2.6 0 1 0 -5.2 0 M1306.7 240.9m-2.6 0a2.6 2.6 0 1 0 5.2 0a2.6 2.6 0 1 0 -5.2 0 M1306.3 243.1m-2.6 0a2.6 2.6 0 1 0 5.2 0a2.6 2.6 0 1 0 -5.2 0 M1307.5 245.4m-2.6 0a2.6 2.6 0 1 0 5.2 0a2.6 2.6 0 1 0 -5.2 0 M1307.5 247.6m-2.6 0a2.6 2.6 0 1 0 5.2 0a2.6 2.6 0 1 0 -5.2 0 M1306.4 249.8m-2.6 0a2.6 2.6 0 1 0 5.2 0a2.6 2.6 0 1 0 -5.2 0 M1306.8 252m-2.6 0a2.6 2.6 0 1 0 5.2 0a2.6 2.6 0 1 0 -5.2 0 M1307.9 254.3m-2.6 0a2.6 2.6 0 1 0 5.2 0a2.6 2.6 0 1 0 -5.2 0 M1308 256.5m-2.6 0a2.6 2.6 0 1 0 5.2 0a2.6 2.6 0 1 0 -5.2 0 M1308 258.7m-2.6 0a2.6 2.6 0 1 0 5.2 0a2.6 2.6 0 1 0 -5.2 0 M1306.4 260.9m-2.6 0a2.6 2.6 0 1 0 5.2 0a2.6 2.6 0 1 0 -5.2 0 M1306.6 263.1m-2.6 0a2.6 2.6 0 1 0 5.2 0a2.6 2.6 0 1 0 -5.2 0 M1308 265.4m-2.6 0a2.6 2.6 0 1 0 5.2 0a2.6 2.6 0 1 0 -5.2 0 M1306.6 267.6m-2.6 0a2.6 2.6 0 1 0 5.2 0a2.6 2.6 0 1 0 -5.2 0 M1332.3 275m-2.6 0a2.6 2.6 0 1 0 5.2 0a2.6 2.6 0 1 0 -5.2 0 M1335.1 273.5m-2.6 0a2.6 2.6 0 1 0 5.2 0a2.6 2.6 0 1 0 -5.2 0 M1333.5 276m-2.6 0a2.6 2.6 0 1 0 5.2 0a2.6 2.6 0 1 0 -5.2 0 M1331.2 277.7m-2.6 0a2.6 2.6 0 1 0 5.2 0a2.6 2.6 0 1 0 -5.2 0 M1329.5 280.6m-2.6 0a2.6 2.6 0 1 0 5.2 0a2.6 2.6 0 1 0 -5.2 0 M1328.4 283m-2.6 0a2.6 2.6 0 1 0 5.2 0a2.6 2.6 0 1 0 -5.2 0 M1325.4 284.4m-2.6 0a2.6 2.6 0 1 0 5.2 0a2.6 2.6 0 1 0 -5.2 0 M1324.6 287m-2.6 0a2.6 2.6 0 1 0 5.2 0a2.6 2.6 0 1 0 -5.2 0 M1323.4 289.5m-2.6 0a2.6 2.6 0 1 0 5.2 0a2.6 2.6 0 1 0 -5.2 0 M1321.6 291.3m-2.6 0a2.6 2.6 0 1 0 5.2 0a2.6 2.6 0 1 0 -5.2 0 M1321.5 293.9m-2.6 0a2.6 2.6 0 1 0 5.2 0a2.6 2.6 0 1 0 -5.2 0 M1319.6 295.6m-2.6 0a2.6 2.6 0 1 0 5.2 0a2.6 2.6 0 1 0 -5.2 0 M1318.6 297.8m-2.6 0a2.6 2.6 0 1 0 5.2 0a2.6 2.6 0 1 0 -5.2 0 M1318.7 300.5m-2.6 0a2.6 2.6 0 1 0 5.2 0a2.6 2.6 0 1 0 -5.2 0 M1317.6 302.5m-2.6 0a2.6 2.6 0 1 0 5.2 0a2.6 2.6 0 1 0 -5.2 0 M1316.5 304.5m-2.6 0a2.6 2.6 0 1 0 5.2 0a2.6 2.6 0 1 0 -5.2 0 M1315.6 306.5m-2.6 0a2.6 2.6 0 1 0 5.2 0a2.6 2.6 0 1 0 -5.2 0 M1313.9 308.3m-2.6 0a2.6 2.6 0 1 0 5.2 0a2.6 2.6 0 1 0 -5.2 0 M1313.5 310.6m-2.6 0a2.6 2.6 0 1 0 5.2 0a2.6 2.6 0 1 0 -5.2 0 M1312.3 312.3m-2.6 0a2.6 2.6 0 1 0 5.2 0a2.6 2.6 0 1 0 -5.2 0 M1311.6 314.4m-2.6 0a2.6 2.6 0 1 0 5.2 0a2.6 2.6 0 1 0 -5.2 0 M1309 315.4m-2.6 0a2.6 2.6 0 1 0 5.2 0a2.6 2.6 0 1 0 -5.2 0 M1308.8 317.9m-2.6 0a2.6 2.6 0 1 0 5.2 0a2.6 2.6 0 1 0 -5.2 0 M1307.4 319.6m-2.6 0a2.6 2.6 0 1 0 5.2 0a2.6 2.6 0 1 0 -5.2 0 M1306.4 320.7m-2.6 0a2.6 2.6 0 1 0 5.2 0a2.6 2.6 0 1 0 -5.2 0 M1304 321.7m-2.6 0a2.6 2.6 0 1 0 5.2 0a2.6 2.6 0 1 0 -5.2 0 M1302.6 324m-2.6 0a2.6 2.6 0 1 0 5.2 0a2.6 2.6 0 1 0 -5.2 0 M1299.9 324.8m-2.6 0a2.6 2.6 0 1 0 5.2 0a2.6 2.6 0 1 0 -5.2 0 M1298.4 327m-2.6 0a2.6 2.6 0 1 0 5.2 0a2.6 2.6 0 1 0 -5.2 0 M1296.3 328.4m-2.6 0a2.6 2.6 0 1 0 5.2 0a2.6 2.6 0 1 0 -5.2 0 M1295 329.6m-2.6 0a2.6 2.6 0 1 0 5.2 0a2.6 2.6 0 1 0 -5.2 0 M1293.1 331.2m-2.6 0a2.6 2.6 0 1 0 5.2 0a2.6 2.6 0 1 0 -5.2 0 M1290.8 330.9m-2.6 0a2.6 2.6 0 1 0 5.2 0a2.6 2.6 0 1 0 -5.2 0 M1288.8 331.9m-2.6 0a2.6 2.6 0 1 0 5.2 0a2.6 2.6 0 1 0 -5.2 0 M1286.7 332.8m-2.6 0a2.6 2.6 0 1 0 5.2 0a2.6 2.6 0 1 0 -5.2 0 M1284.2 331.8m-2.6 0a2.6 2.6 0 1 0 5.2 0a2.6 2.6 0 1 0 -5.2 0 M1282.4 333.5m-2.6 0a2.6 2.6 0 1 0 5.2 0a2.6 2.6 0 1 0 -5.2 0 M1280.1 333.5m-2.6 0a2.6 2.6 0 1 0 5.2 0a2.6 2.6 0 1 0 -5.2 0 M1277.8 333.5m-2.6 0a2.6 2.6 0 1 0 5.2 0a2.6 2.6 0 1 0 -5.2 0 M1275.8 334.4m-2.6 0a2.6 2.6 0 1 0 5.2 0a2.6 2.6 0 1 0 -5.2 0" fill="#8c8c8c" stroke="#7d7d7d" stroke-width="0.8"/>
<path d="M1205.5 289.7m-2.7 0a2.7 2.7 0 1 0 5.4 0a2.7 2.7 0 1 0 -5.4 0 M1207.8 302.6m-2.7 0a2.7 2.7 0 1 0 5.4 0a2.7 2.7 0 1 0 -5.4 0 M1217.7 299.6m-2.7 0a2.7 2.7 0 1 0 5.4 0a2.7 2.7 0 1 0 -5.4 0 M1215.4 290.4m-2.7 0a2.7 2.7 0 1 0 5.4 0a2.7 2.7 0 1 0 -5.4 0 M1225.3 300.3m-2.7 0a2.7 2.7 0 1 0 5.4 0a2.7 2.7 0 1 0 -5.4 0 M1213.4 282.8m-2.7 0a2.7 2.7 0 1 0 5.4 0a2.7 2.7 0 1 0 -5.4 0 M1216.9 275.2m-2.7 0a2.7 2.7 0 1 0 5.4 0a2.7 2.7 0 1 0 -5.4 0 M1219.2 285.1m-2.7 0a2.7 2.7 0 1 0 5.4 0a2.7 2.7 0 1 0 -5.4 0 M1229.9 309.5m-2.7 0a2.7 2.7 0 1 0 5.4 0a2.7 2.7 0 1 0 -5.4 0 M1233.7 315.6m-2.7 0a2.7 2.7 0 1 0 5.4 0a2.7 2.7 0 1 0 -5.4 0 M1225.3 292.7m-2.7 0a2.7 2.7 0 1 0 5.4 0a2.7 2.7 0 1 0 -5.4 0 M1345.1 284.3m-2.7 0a2.7 2.7 0 1 0 5.4 0a2.7 2.7 0 1 0 -5.4 0 M1342.1 294.2m-2.7 0a2.7 2.7 0 1 0 5.4 0a2.7 2.7 0 1 0 -5.4 0 M1336.7 301.9m-2.7 0a2.7 2.7 0 1 0 5.4 0a2.7 2.7 0 1 0 -5.4 0 M1332.1 315.6m-2.7 0a2.7 2.7 0 1 0 5.4 0a2.7 2.7 0 1 0 -5.4 0 M1344.4 314.8m-2.7 0a2.7 2.7 0 1 0 5.4 0a2.7 2.7 0 1 0 -5.4 0 M1316.1 323.2m-2.7 0a2.7 2.7 0 1 0 5.4 0a2.7 2.7 0 1 0 -5.4 0 M1312.3 327.8m-2.7 0a2.7 2.7 0 1 0 5.4 0a2.7 2.7 0 1 0 -5.4 0 M1325.3 305.7m-2.7 0a2.7 2.7 0 1 0 5.4 0a2.7 2.7 0 1 0 -5.4 0 M1328.3 285.1m-2.7 0a2.7 2.7 0 1 0 5.4 0a2.7 2.7 0 1 0 -5.4 0 M1325.3 279.7m-2.7 0a2.7 2.7 0 1 0 5.4 0a2.7 2.7 0 1 0 -5.4 0 M1377.9 271.3m-2.7 0a2.7 2.7 0 1 0 5.4 0a2.7 2.7 0 1 0 -5.4 0 M1247.4 169.1m-2.7 0a2.7 2.7 0 1 0 5.4 0a2.7 2.7 0 1 0 -5.4 0 M1249 173.7m-2.7 0a2.7 2.7 0 1 0 5.4 0a2.7 2.7 0 1 0 -5.4 0 M1246.7 184.3m-2.7 0a2.7 2.7 0 1 0 5.4 0a2.7 2.7 0 1 0 -5.4 0 M1250.5 182.1m-2.7 0a2.7 2.7 0 1 0 5.4 0a2.7 2.7 0 1 0 -5.4 0 M1305.4 169.1m-2.7 0a2.7 2.7 0 1 0 5.4 0a2.7 2.7 0 1 0 -5.4 0 M1300.4 173.7m-2.7 0a2.7 2.7 0 1 0 5.4 0a2.7 2.7 0 1 0 -5.4 0 M1258.1 203.4m-2.7 0a2.7 2.7 0 1 0 5.4 0a2.7 2.7 0 1 0 -5.4 0 M1255.8 195m-2.7 0a2.7 2.7 0 1 0 5.4 0a2.7 2.7 0 1 0 -5.4 0 M1287.9 210.3m-2.7 0a2.7 2.7 0 1 0 5.4 0a2.7 2.7 0 1 0 -5.4 0 M1294 202.7m-2.7 0a2.7 2.7 0 1 0 5.4 0a2.7 2.7 0 1 0 -5.4 0 M1342.8 272.1m-2.7 0a2.7 2.7 0 1 0 5.4 0a2.7 2.7 0 1 0 -5.4 0 M1333.7 272.9m-2.7 0a2.7 2.7 0 1 0 5.4 0a2.7 2.7 0 1 0 -5.4 0 M1220.7 272.1m-2.7 0a2.7 2.7 0 1 0 5.4 0a2.7 2.7 0 1 0 -5.4 0 M1226.8 276.7m-2.7 0a2.7 2.7 0 1 0 5.4 0a2.7 2.7 0 1 0 -5.4 0 M1232.9 282.8m-2.7 0a2.7 2.7 0 1 0 5.4 0a2.7 2.7 0 1 0 -5.4 0 M1236 291.9m-2.7 0a2.7 2.7 0 1 0 5.4 0a2.7 2.7 0 1 0 -5.4 0 M1239 302.6m-2.7 0a2.7 2.7 0 1 0 5.4 0a2.7 2.7 0 1 0 -5.4 0 M1323 275.2m-2.7 0a2.7 2.7 0 1 0 5.4 0a2.7 2.7 0 1 0 -5.4 0 M1318.4 282.8m-2.7 0a2.7 2.7 0 1 0 5.4 0a2.7 2.7 0 1 0 -5.4 0 M1313.8 293.5m-2.7 0a2.7 2.7 0 1 0 5.4 0a2.7 2.7 0 1 0 -5.4 0 M1310.8 304.2m-2.7 0a2.7 2.7 0 1 0 5.4 0a2.7 2.7 0 1 0 -5.4 0 M1318.4 310.3m-2.7 0a2.7 2.7 0 1 0 5.4 0a2.7 2.7 0 1 0 -5.4 0 M1321.5 302.6m-2.7 0a2.7 2.7 0 1 0 5.4 0a2.7 2.7 0 1 0 -5.4 0 M1309.3 311.8m-2.7 0a2.7 2.7 0 1 0 5.4 0a2.7 2.7 0 1 0 -5.4 0 M1226.8 285.8m-2.7 0a2.7 2.7 0 1 0 5.4 0a2.7 2.7 0 1 0 -5.4 0 M1229.9 296.5m-2.7 0a2.7 2.7 0 1 0 5.4 0a2.7 2.7 0 1 0 -5.4 0 M1237.5 308.7m-2.7 0a2.7 2.7 0 1 0 5.4 0a2.7 2.7 0 1 0 -5.4 0 M1242.1 317.9m-2.7 0a2.7 2.7 0 1 0 5.4 0a2.7 2.7 0 1 0 -5.4 0 M1237.5 320.9m-2.7 0a2.7 2.7 0 1 0 5.4 0a2.7 2.7 0 1 0 -5.4 0 M1251.3 330.1m-2.7 0a2.7 2.7 0 1 0 5.4 0a2.7 2.7 0 1 0 -5.4 0 M1265 334.7m-2.7 0a2.7 2.7 0 1 0 5.4 0a2.7 2.7 0 1 0 -5.4 0 M1284.8 334.7m-2.7 0a2.7 2.7 0 1 0 5.4 0a2.7 2.7 0 1 0 -5.4 0 M1300.1 328.6m-2.7 0a2.7 2.7 0 1 0 5.4 0a2.7 2.7 0 1 0 -5.4 0" fill="#969696" stroke="#7d7d7d" stroke-width="1"/>
<path d="M1196.3 269.8 L1195.5 249.2 L1198.6 235.5 L1204.7 223.3 L1210 215.6 L1211.6 200.4 L1216.2 191.5 L1226.8 190.9 L1238.7 193.5 L1238.7 269.8Z" fill="#b8c76a"/>
<path d="M1208.8 231.8m-4 0a4 4 0 1 0 8 0a4 4 0 1 0 -8 0 M1218.2 252.8m-4 0a4 4 0 1 0 8 0a4 4 0 1 0 -8 0 M1199.9 235.1m-4 0a4 4 0 1 0 8 0a4 4 0 1 0 -8 0 M1227 231m-4 0a4 4 0 1 0 8 0a4 4 0 1 0 -8 0 M1218.4 250.9m-4 0a4 4 0 1 0 8 0a4 4 0 1 0 -8 0 M1232.7 225.9m-4 0a4 4 0 1 0 8 0a4 4 0 1 0 -8 0 M1220.5 230.8m-4 0a4 4 0 1 0 8 0a4 4 0 1 0 -8 0 M1216.4 245.6m-4 0a4 4 0 1 0 8 0a4 4 0 1 0 -8 0 M1214 233m-4 0a4 4 0 1 0 8 0a4 4 0 1 0 -8 0 M1215 265.2m-4 0a4 4 0 1 0 8 0a4 4 0 1 0 -8 0 M1224 260.1m-4 0a4 4 0 1 0 8 0a4 4 0 1 0 -8 0 M1233.9 211.4m-4 0a4 4 0 1 0 8 0a4 4 0 1 0 -8 0 M1218.4 265.3m-4 0a4 4 0 1 0 8 0a4 4 0 1 0 -8 0 M1229.8 201.7m-4 0a4 4 0 1 0 8 0a4 4 0 1 0 -8 0 M1198.5 243.7m-4 0a4 4 0 1 0 8 0a4 4 0 1 0 -8 0 M1227.5 261.7m-4 0a4 4 0 1 0 8 0a4 4 0 1 0 -8 0 M1201.8 247.4m-4 0a4 4 0 1 0 8 0a4 4 0 1 0 -8 0 M1222.5 202.2m-4 0a4 4 0 1 0 8 0a4 4 0 1 0 -8 0 M1231.5 267.2m-4 0a4 4 0 1 0 8 0a4 4 0 1 0 -8 0 M1204.5 266.1m-4 0a4 4 0 1 0 8 0a4 4 0 1 0 -8 0 M1211.8 229.4m-4 0a4 4 0 1 0 8 0a4 4 0 1 0 -8 0 M1235.9 256.6m-4 0a4 4 0 1 0 8 0a4 4 0 1 0 -8 0 M1216.6 217.7m-4 0a4 4 0 1 0 8 0a4 4 0 1 0 -8 0 M1225 192.4m-4 0a4 4 0 1 0 8 0a4 4 0 1 0 -8 0 M1218.1 225.7m-4 0a4 4 0 1 0 8 0a4 4 0 1 0 -8 0 M1221 231.3m-4 0a4 4 0 1 0 8 0a4 4 0 1 0 -8 0 M1198.2 268.6m-4 0a4 4 0 1 0 8 0a4 4 0 1 0 -8 0 M1227.7 267.6m-4 0a4 4 0 1 0 8 0a4 4 0 1 0 -8 0 M1197.2 252.4m-4 0a4 4 0 1 0 8 0a4 4 0 1 0 -8 0 M1212.8 262.8m-4 0a4 4 0 1 0 8 0a4 4 0 1 0 -8 0 M1228.9 211.3m-4 0a4 4 0 1 0 8 0a4 4 0 1 0 -8 0 M1201.6 263.4m-4 0a4 4 0 1 0 8 0a4 4 0 1 0 -8 0 M1218.8 246.2m-4 0a4 4 0 1 0 8 0a4 4 0 1 0 -8 0 M1223.6 224.5m-4 0a4 4 0 1 0 8 0a4 4 0 1 0 -8 0 M1198.5 264.9m-4 0a4 4 0 1 0 8 0a4 4 0 1 0 -8 0 M1221.4 254.2m-4 0a4 4 0 1 0 8 0a4 4 0 1 0 -8 0 M1199 258.5m-4 0a4 4 0 1 0 8 0a4 4 0 1 0 -8 0 M1198.3 259m-4 0a4 4 0 1 0 8 0a4 4 0 1 0 -8 0 M1214 217.7m-4 0a4 4 0 1 0 8 0a4 4 0 1 0 -8 0 M1218.1 264m-4 0a4 4 0 1 0 8 0a4 4 0 1 0 -8 0 M1217 209.7m-4 0a4 4 0 1 0 8 0a4 4 0 1 0 -8 0 M1226.5 213.8m-4 0a4 4 0 1 0 8 0a4 4 0 1 0 -8 0 M1215.9 204.9m-4 0a4 4 0 1 0 8 0a4 4 0 1 0 -8 0 M1225.4 234.4m-4 0a4 4 0 1 0 8 0a4 4 0 1 0 -8 0 M1203.3 228.4m-4 0a4 4 0 1 0 8 0a4 4 0 1 0 -8 0 M1233.6 199.3m-4 0a4 4 0 1 0 8 0a4 4 0 1 0 -8 0 M1228.9 225m-4 0a4 4 0 1 0 8 0a4 4 0 1 0 -8 0 M1215.7 256.8m-4 0a4 4 0 1 0 8 0a4 4 0 1 0 -8 0 M1211.6 230.9m-4 0a4 4 0 1 0 8 0a4 4 0 1 0 -8 0 M1223.6 268.4m-4 0a4 4 0 1 0 8 0a4 4 0 1 0 -8 0 M1209.5 256.6m-4 0a4 4 0 1 0 8 0a4 4 0 1 0 -8 0 M1224.3 241.1m-4 0a4 4 0 1 0 8 0a4 4 0 1 0 -8 0 M1212 218.3m-4 0a4 4 0 1 0 8 0a4 4 0 1 0 -8 0 M1198.4 249.4m-4 0a4 4 0 1 0 8 0a4 4 0 1 0 -8 0 M1199 257.3m-4 0a4 4 0 1 0 8 0a4 4 0 1 0 -8 0 M1231 243.8m-4 0a4 4 0 1 0 8 0a4 4 0 1 0 -8 0 M1207.5 227.2m-4 0a4 4 0 1 0 8 0a4 4 0 1 0 -8 0 M1206.3 266.8m-4 0a4 4 0 1 0 8 0a4 4 0 1 0 -8 0 M1235.2 234.1m-4 0a4 4 0 1 0 8 0a4 4 0 1 0 -8 0 M1205.5 267.1m-4 0a4 4 0 1 0 8 0a4 4 0 1 0 -8 0 M1208.2 219m-4 0a4 4 0 1 0 8 0a4 4 0 1 0 -8 0 M1214.9 230.6m-4 0a4 4 0 1 0 8 0a4 4 0 1 0 -8 0 M1203.7 230.7m-4 0a4 4 0 1 0 8 0a4 4 0 1 0 -8 0 M1219.4 232.7m-4 0a4 4 0 1 0 8 0a4 4 0 1 0 -8 0 M1226.1 242.8m-4 0a4 4 0 1 0 8 0a4 4 0 1 0 -8 0 M1224.7 260.3m-4 0a4 4 0 1 0 8 0a4 4 0 1 0 -8 0 M1211.4 216.6m-4 0a4 4 0 1 0 8 0a4 4 0 1 0 -8 0 M1235.7 202.7m-4 0a4 4 0 1 0 8 0a4 4 0 1 0 -8 0 M1225.1 241.7m-4 0a4 4 0 1 0 8 0a4 4 0 1 0 -8 0 M1197.3 256.8m-4 0a4 4 0 1 0 8 0a4 4 0 1 0 -8 0 M1231.9 240.4m-4 0a4 4 0 1 0 8 0a4 4 0 1 0 -8 0 M1225.5 255m-4 0a4 4 0 1 0 8 0a4 4 0 1 0 -8 0 M1201.2 232.2m-4 0a4 4 0 1 0 8 0a4 4 0 1 0 -8 0 M1216.1 256.8m-4 0a4 4 0 1 0 8 0a4 4 0 1 0 -8 0 M1228.3 256.1m-4 0a4 4 0 1 0 8 0a4 4 0 1 0 -8 0 M1219.4 261.4m-4 0a4 4 0 1 0 8 0a4 4 0 1 0 -8 0 M1223.4 245.6m-4 0a4 4 0 1 0 8 0a4 4 0 1 0 -8 0 M1199.8 256.9m-4 0a4 4 0 1 0 8 0a4 4 0 1 0 -8 0 M1218.3 240.4m-4 0a4 4 0 1 0 8 0a4 4 0 1 0 -8 0 M1221.1 244.6m-4 0a4 4 0 1 0 8 0a4 4 0 1 0 -8 0 M1228.1 249.9m-4 0a4 4 0 1 0 8 0a4 4 0 1 0 -8 0 M1216 233.1m-4 0a4 4 0 1 0 8 0a4 4 0 1 0 -8 0 M1222.4 196.1m-4 0a4 4 0 1 0 8 0a4 4 0 1 0 -8 0 M1225.6 210.8m-4 0a4 4 0 1 0 8 0a4 4 0 1 0 -8 0 M1225.3 207.1m-4 0a4 4 0 1 0 8 0a4 4 0 1 0 -8 0 M1225.7 267.9m-4 0a4 4 0 1 0 8 0a4 4 0 1 0 -8 0 M1215.7 221.1m-4 0a4 4 0 1 0 8 0a4 4 0 1 0 -8 0 M1215.1 244.9m-4 0a4 4 0 1 0 8 0a4 4 0 1 0 -8 0 M1226.8 239.6m-4 0a4 4 0 1 0 8 0a4 4 0 1 0 -8 0 M1221.7 197m-4 0a4 4 0 1 0 8 0a4 4 0 1 0 -8 0 M1225.8 214.9m-4 0a4 4 0 1 0 8 0a4 4 0 1 0 -8 0 M1218.7 191.9m-4 0a4 4 0 1 0 8 0a4 4 0 1 0 -8 0 M1222.9 245.5m-4 0a4 4 0 1 0 8 0a4 4 0 1 0 -8 0 M1223.1 213.9m-4 0a4 4 0 1 0 8 0a4 4 0 1 0 -8 0 M1216.6 227.6m-4 0a4 4 0 1 0 8 0a4 4 0 1 0 -8 0 M1214.6 200.3m-4 0a4 4 0 1 0 8 0a4 4 0 1 0 -8 0 M1232 206.6m-4 0a4 4 0 1 0 8 0a4 4 0 1 0 -8 0 M1235.4 264.8m-4 0a4 4 0 1 0 8 0a4 4 0 1 0 -8 0 M1229 267.3m-4 0a4 4 0 1 0 8 0a4 4 0 1 0 -8 0 M1213.9 212.1m-4 0a4 4 0 1 0 8 0a4 4 0 1 0 -8 0 M1204.1 265.5m-4 0a4 4 0 1 0 8 0a4 4 0 1 0 -8 0 M1204.1 236.8m-4 0a4 4 0 1 0 8 0a4 4 0 1 0 -8 0 M1201.3 232.3m-4 0a4 4 0 1 0 8 0a4 4 0 1 0 -8 0 M1234.4 201.4m-4 0a4 4 0 1 0 8 0a4 4 0 1 0 -8 0 M1229 231m-4 0a4 4 0 1 0 8 0a4 4 0 1 0 -8 0 M1231.7 246.4m-4 0a4 4 0 1 0 8 0a4 4 0 1 0 -8 0 M1205 261.7m-4 0a4 4 0 1 0 8 0a4 4 0 1 0 -8 0 M1213.9 214.7m-4 0a4 4 0 1 0 8 0a4 4 0 1 0 -8 0 M1208.4 257.2m-4 0a4 4 0 1 0 8 0a4 4 0 1 0 -8 0 M1195.6 250.1m-4 0a4 4 0 1 0 8 0a4 4 0 1 0 -8 0 M1229.7 200.4m-4 0a4 4 0 1 0 8 0a4 4 0 1 0 -8 0 M1233.3 247.2m-4 0a4 4 0 1 0 8 0a4 4 0 1 0 -8 0 M1232.3 213.8m-4 0a4 4 0 1 0 8 0a4 4 0 1 0 -8 0 M1210.7 221.9m-4 0a4 4 0 1 0 8 0a4 4 0 1 0 -8 0 M1236.3 237.4m-4 0a4 4 0 1 0 8 0a4 4 0 1 0 -8 0 M1210.2 224.7m-4 0a4 4 0 1 0 8 0a4 4 0 1 0 -8 0 M1199.7 256.8m-4 0a4 4 0 1 0 8 0a4 4 0 1 0 -8 0 M1207.2 264.7m-4 0a4 4 0 1 0 8 0a4 4 0 1 0 -8 0 M1216.4 205.9m-4 0a4 4 0 1 0 8 0a4 4 0 1 0 -8 0 M1210.8 266.4m-4 0a4 4 0 1 0 8 0a4 4 0 1 0 -8 0 M1231.6 255m-4 0a4 4 0 1 0 8 0a4 4 0 1 0 -8 0 M1221.3 263m-4 0a4 4 0 1 0 8 0a4 4 0 1 0 -8 0 M1233.9 234.2m-4 0a4 4 0 1 0 8 0a4 4 0 1 0 -8 0 M1224.9 194.8m-4 0a4 4 0 1 0 8 0a4 4 0 1 0 -8 0 M1225.4 226.5m-4 0a4 4 0 1 0 8 0a4 4 0 1 0 -8 0 M1226.2 241.8m-4 0a4 4 0 1 0 8 0a4 4 0 1 0 -8 0 M1233.3 200.9m-4 0a4 4 0 1 0 8 0a4 4 0 1 0 -8 0 M1214.8 218m-4 0a4 4 0 1 0 8 0a4 4 0 1 0 -8 0 M1207.7 249.2m-4 0a4 4 0 1 0 8 0a4 4 0 1 0 -8 0 M1235.3 211.4m-4 0a4 4 0 1 0 8 0a4 4 0 1 0 -8 0 M1222.3 214.6m-4 0a4 4 0 1 0 8 0a4 4 0 1 0 -8 0 M1218.3 222m-4 0a4 4 0 1 0 8 0a4 4 0 1 0 -8 0 M1204 262.4m-4 0a4 4 0 1 0 8 0a4 4 0 1 0 -8 0 M1215.8 208.3m-4 0a4 4 0 1 0 8 0a4 4 0 1 0 -8 0 M1232.5 269.5m-4 0a4 4 0 1 0 8 0a4 4 0 1 0 -8 0 M1213.9 201.9m-4 0a4 4 0 1 0 8 0a4 4 0 1 0 -8 0 M1218.8 260.9m-4 0a4 4 0 1 0 8 0a4 4 0 1 0 -8 0 M1226.1 223.5m-4 0a4 4 0 1 0 8 0a4 4 0 1 0 -8 0 M1212.4 232.3m-4 0a4 4 0 1 0 8 0a4 4 0 1 0 -8 0 M1210.9 217.6m-4 0a4 4 0 1 0 8 0a4 4 0 1 0 -8 0 M1235 200.8m-4 0a4 4 0 1 0 8 0a4 4 0 1 0 -8 0 M1216.1 240.6m-4 0a4 4 0 1 0 8 0a4 4 0 1 0 -8 0 M1230.7 207.9m-4 0a4 4 0 1 0 8 0a4 4 0 1 0 -8 0 M1211.8 226.1m-4 0a4 4 0 1 0 8 0a4 4 0 1 0 -8 0 M1234.4 257.9m-4 0a4 4 0 1 0 8 0a4 4 0 1 0 -8 0 M1231.1 192.6m-4 0a4 4 0 1 0 8 0a4 4 0 1 0 -8 0 M1196.9 246.9m-4 0a4 4 0 1 0 8 0a4 4 0 1 0 -8 0 M1232 228.2m-4 0a4 4 0 1 0 8 0a4 4 0 1 0 -8 0 M1211.5 264m-4 0a4 4 0 1 0 8 0a4 4 0 1 0 -8 0 M1229.2 258.4m-4 0a4 4 0 1 0 8 0a4 4 0 1 0 -8 0 M1235.2 210.5m-4 0a4 4 0 1 0 8 0a4 4 0 1 0 -8 0 M1216.8 244.7m-4 0a4 4 0 1 0 8 0a4 4 0 1 0 -8 0 M1233.9 247.9m-4 0a4 4 0 1 0 8 0a4 4 0 1 0 -8 0 M1221.9 251.3m-4 0a4 4 0 1 0 8 0a4 4 0 1 0 -8 0 M1214.2 234.4m-4 0a4 4 0 1 0 8 0a4 4 0 1 0 -8 0 M1197.2 252.6m-4 0a4 4 0 1 0 8 0a4 4 0 1 0 -8 0 M1205 263.5m-4 0a4 4 0 1 0 8 0a4 4 0 1 0 -8 0 M1221.9 214.9m-4 0a4 4 0 1 0 8 0a4 4 0 1 0 -8 0 M1221.5 246m-4 0a4 4 0 1 0 8 0a4 4 0 1 0 -8 0 M1216.9 236.9m-4 0a4 4 0 1 0 8 0a4 4 0 1 0 -8 0" fill="#b8c76a" stroke="#b8c76a" stroke-width="0.8"/>
<path d="M1129.9 188.2m-4 0a4 4 0 1 0 8 0a4 4 0 1 0 -8 0 M1136.5 229.4m-4 0a4 4 0 1 0 8 0a4 4 0 1 0 -8 0 M1151.3 256.4m-4 0a4 4 0 1 0 8 0a4 4 0 1 0 -8 0 M1158.9 252m-4 0a4 4 0 1 0 8 0a4 4 0 1 0 -8 0 M1153.9 191.5m-4 0a4 4 0 1 0 8 0a4 4 0 1 0 -8 0 M1163 175.9m-4 0a4 4 0 1 0 8 0a4 4 0 1 0 -8 0 M1175.3 193.5m-4 0a4 4 0 1 0 8 0a4 4 0 1 0 -8 0 M1173.4 247.7m-4 0a4 4 0 1 0 8 0a4 4 0 1 0 -8 0 M1176.8 208.8m-4 0a4 4 0 1 0 8 0a4 4 0 1 0 -8 0 M1181.8 203.9m-4 0a4 4 0 1 0 8 0a4 4 0 1 0 -8 0 M1186.8 183.9m-4 0a4 4 0 1 0 8 0a4 4 0 1 0 -8 0 M1187.5 224.5m-4 0a4 4 0 1 0 8 0a4 4 0 1 0 -8 0 M1183.3 232.9m-4 0a4 4 0 1 0 8 0a4 4 0 1 0 -8 0 M1182.3 238.5m-4 0a4 4 0 1 0 8 0a4 4 0 1 0 -8 0 M1181.1 248.4m-4 0a4 4 0 1 0 8 0a4 4 0 1 0 -8 0 M1185.6 250m-4 0a4 4 0 1 0 8 0a4 4 0 1 0 -8 0 M1192.5 239m-4 0a4 4 0 1 0 8 0a4 4 0 1 0 -8 0 M1198.1 228.6m-4 0a4 4 0 1 0 8 0a4 4 0 1 0 -8 0 M1193.3 209.5m-4 0a4 4 0 1 0 8 0a4 4 0 1 0 -8 0 M1191 200.4m-4 0a4 4 0 1 0 8 0a4 4 0 1 0 -8 0 M1196.3 195.8m-4 0a4 4 0 1 0 8 0a4 4 0 1 0 -8 0 M1203.9 195.3m-4 0a4 4 0 1 0 8 0a4 4 0 1 0 -8 0 M1207.8 187.4m-4 0a4 4 0 1 0 8 0a4 4 0 1 0 -8 0 M1205.5 173.7m-4 0a4 4 0 1 0 8 0a4 4 0 1 0 -8 0 M1211.6 170.6m-4 0a4 4 0 1 0 8 0a4 4 0 1 0 -8 0 M1212.3 178.2m-4 0a4 4 0 1 0 8 0a4 4 0 1 0 -8 0 M1220 175.9m-4 0a4 4 0 1 0 8 0a4 4 0 1 0 -8 0 M1229.1 170.6m-4 0a4 4 0 1 0 8 0a4 4 0 1 0 -8 0 M1238.3 168m-4 0a4 4 0 1 0 8 0a4 4 0 1 0 -8 0 M1226.5 185.4m-4 0a4 4 0 1 0 8 0a4 4 0 1 0 -8 0 M1187.2 266.8m-4 0a4 4 0 1 0 8 0a4 4 0 1 0 -8 0 M1193.3 262.9m-4 0a4 4 0 1 0 8 0a4 4 0 1 0 -8 0 M1200.9 268.7m-4 0a4 4 0 1 0 8 0a4 4 0 1 0 -8 0 M1210 217.2m-4 0a4 4 0 1 0 8 0a4 4 0 1 0 -8 0 M1207 208.8m-4 0a4 4 0 1 0 8 0a4 4 0 1 0 -8 0 M1199.4 203.4m-4 0a4 4 0 1 0 8 0a4 4 0 1 0 -8 0 M1191.7 255.3m-4 0a4 4 0 1 0 8 0a4 4 0 1 0 -8 0 M1189.4 244.6m-4 0a4 4 0 1 0 8 0a4 4 0 1 0 -8 0 M1203.2 241.6m-4 0a4 4 0 1 0 8 0a4 4 0 1 0 -8 0 M1205.5 256.8m-4 0a4 4 0 1 0 8 0a4 4 0 1 0 -8 0 M1211.6 266m-4 0a4 4 0 1 0 8 0a4 4 0 1 0 -8 0 M1214.6 270.6m-4 0a4 4 0 1 0 8 0a4 4 0 1 0 -8 0 M1220.7 189.7m-4 0a4 4 0 1 0 8 0a4 4 0 1 0 -8 0 M1234.5 191.2m-4 0a4 4 0 1 0 8 0a4 4 0 1 0 -8 0 M1236 200.4m-4 0a4 4 0 1 0 8 0a4 4 0 1 0 -8 0 M1217.7 214.1m-4 0a4 4 0 1 0 8 0a4 4 0 1 0 -8 0 M1202.4 215.6m-4 0a4 4 0 1 0 8 0a4 4 0 1 0 -8 0" fill="#b8c76a" stroke="#a4b64c" stroke-width="1.2"/>
<path d="M1223.5 60.7m-4 0a4 4 0 1 0 8 0a4 4 0 1 0 -8 0 M1205 90m-4 0a4 4 0 1 0 8 0a4 4 0 1 0 -8 0" fill="#b8c76a" stroke="#a4b64c" stroke-width="1.2"/>
<path d="M1308 269.8 L1308 194.3 L1313.1 197.3 L1316.9 203.4 L1319.9 211.1 L1331.4 212.6 L1332.9 226.3 L1330.6 235.5 L1332.9 249.2 L1330.6 262.9 L1338.3 269.8Z" fill="#414332"/>
<path d="M1322.2 212.3m-4 0a4 4 0 1 0 8 0a4 4 0 1 0 -8 0 M1319.9 229.9m-4 0a4 4 0 1 0 8 0a4 4 0 1 0 -8 0 M1318.2 214.1m-4 0a4 4 0 1 0 8 0a4 4 0 1 0 -8 0 M1325.1 245.7m-4 0a4 4 0 1 0 8 0a4 4 0 1 0 -8 0 M1323 214.8m-4 0a4 4 0 1 0 8 0a4 4 0 1 0 -8 0 M1329.5 264.3m-4 0a4 4 0 1 0 8 0a4 4 0 1 0 -8 0 M1320.9 226.9m-4 0a4 4 0 1 0 8 0a4 4 0 1 0 -8 0 M1317.8 252.1m-4 0a4 4 0 1 0 8 0a4 4 0 1 0 -8 0 M1319.7 266.3m-4 0a4 4 0 1 0 8 0a4 4 0 1 0 -8 0 M1317.9 226.7m-4 0a4 4 0 1 0 8 0a4 4 0 1 0 -8 0 M1329.5 266m-4 0a4 4 0 1 0 8 0a4 4 0 1 0 -8 0 M1315.8 224.9m-4 0a4 4 0 1 0 8 0a4 4 0 1 0 -8 0 M1317.6 267.9m-4 0a4 4 0 1 0 8 0a4 4 0 1 0 -8 0 M1313.6 224.9m-4 0a4 4 0 1 0 8 0a4 4 0 1 0 -8 0 M1331.2 269.6m-4 0a4 4 0 1 0 8 0a4 4 0 1 0 -8 0 M1316.9 265.1m-4 0a4 4 0 1 0 8 0a4 4 0 1 0 -8 0 M1329.4 223.8m-4 0a4 4 0 1 0 8 0a4 4 0 1 0 -8 0 M1321.8 220.3m-4 0a4 4 0 1 0 8 0a4 4 0 1 0 -8 0 M1319.3 221.8m-4 0a4 4 0 1 0 8 0a4 4 0 1 0 -8 0 M1321.4 256.6m-4 0a4 4 0 1 0 8 0a4 4 0 1 0 -8 0 M1313.3 230.8m-4 0a4 4 0 1 0 8 0a4 4 0 1 0 -8 0 M1321.8 263.9m-4 0a4 4 0 1 0 8 0a4 4 0 1 0 -8 0 M1317.1 222.8m-4 0a4 4 0 1 0 8 0a4 4 0 1 0 -8 0 M1322.8 255.9m-4 0a4 4 0 1 0 8 0a4 4 0 1 0 -8 0 M1312.9 200.4m-4 0a4 4 0 1 0 8 0a4 4 0 1 0 -8 0 M1320.9 215.9m-4 0a4 4 0 1 0 8 0a4 4 0 1 0 -8 0 M1318.9 248.8m-4 0a4 4 0 1 0 8 0a4 4 0 1 0 -8 0 M1320.3 216.2m-4 0a4 4 0 1 0 8 0a4 4 0 1 0 -8 0 M1312.1 251.7m-4 0a4 4 0 1 0 8 0a4 4 0 1 0 -8 0 M1318.1 231m-4 0a4 4 0 1 0 8 0a4 4 0 1 0 -8 0 M1322.1 214.4m-4 0a4 4 0 1 0 8 0a4 4 0 1 0 -8 0 M1323.3 232.3m-4 0a4 4 0 1 0 8 0a4 4 0 1 0 -8 0 M1327.9 220.1m-4 0a4 4 0 1 0 8 0a4 4 0 1 0 -8 0 M1320.4 222.6m-4 0a4 4 0 1 0 8 0a4 4 0 1 0 -8 0 M1317.2 251.5m-4 0a4 4 0 1 0 8 0a4 4 0 1 0 -8 0 M1312.9 236.7m-4 0a4 4 0 1 0 8 0a4 4 0 1 0 -8 0 M1320.6 268.3m-4 0a4 4 0 1 0 8 0a4 4 0 1 0 -8 0 M1335.2 268.9m-4 0a4 4 0 1 0 8 0a4 4 0 1 0 -8 0 M1314.5 232.7m-4 0a4 4 0 1 0 8 0a4 4 0 1 0 -8 0 M1330.6 228.9m-4 0a4 4 0 1 0 8 0a4 4 0 1 0 -8 0 M1318.2 226.6m-4 0a4 4 0 1 0 8 0a4 4 0 1 0 -8 0 M1328.3 245.7m-4 0a4 4 0 1 0 8 0a4 4 0 1 0 -8 0 M1326.9 223.4m-4 0a4 4 0 1 0 8 0a4 4 0 1 0 -8 0 M1318.5 213.9m-4 0a4 4 0 1 0 8 0a4 4 0 1 0 -8 0 M1316 261.2m-4 0a4 4 0 1 0 8 0a4 4 0 1 0 -8 0 M1327.2 219.9m-4 0a4 4 0 1 0 8 0a4 4 0 1 0 -8 0 M1322.4 269.3m-4 0a4 4 0 1 0 8 0a4 4 0 1 0 -8 0 M1325.3 212.9m-4 0a4 4 0 1 0 8 0a4 4 0 1 0 -8 0 M1324.5 256.4m-4 0a4 4 0 1 0 8 0a4 4 0 1 0 -8 0 M1313.1 217.5m-4 0a4 4 0 1 0 8 0a4 4 0 1 0 -8 0 M1315.1 209.8m-4 0a4 4 0 1 0 8 0a4 4 0 1 0 -8 0 M1318.8 253.4m-4 0a4 4 0 1 0 8 0a4 4 0 1 0 -8 0 M1327.7 241.7m-4 0a4 4 0 1 0 8 0a4 4 0 1 0 -8 0 M1317.7 223.1m-4 0a4 4 0 1 0 8 0a4 4 0 1 0 -8 0 M1315.7 210.9m-4 0a4 4 0 1 0 8 0a4 4 0 1 0 -8 0 M1318.7 240.2m-4 0a4 4 0 1 0 8 0a4 4 0 1 0 -8 0 M1312.3 220m-4 0a4 4 0 1 0 8 0a4 4 0 1 0 -8 0 M1313.7 203.3m-4 0a4 4 0 1 0 8 0a4 4 0 1 0 -8 0 M1322.4 236.5m-4 0a4 4 0 1 0 8 0a4 4 0 1 0 -8 0 M1316.3 247.3m-4 0a4 4 0 1 0 8 0a4 4 0 1 0 -8 0 M1322.8 216.8m-4 0a4 4 0 1 0 8 0a4 4 0 1 0 -8 0 M1320.1 266.3m-4 0a4 4 0 1 0 8 0a4 4 0 1 0 -8 0 M1320.2 237.7m-4 0a4 4 0 1 0 8 0a4 4 0 1 0 -8 0 M1321.4 226.6m-4 0a4 4 0 1 0 8 0a4 4 0 1 0 -8 0 M1334.7 269.6m-4 0a4 4 0 1 0 8 0a4 4 0 1 0 -8 0 M1312.2 262.5m-4 0a4 4 0 1 0 8 0a4 4 0 1 0 -8 0 M1323.1 256.5m-4 0a4 4 0 1 0 8 0a4 4 0 1 0 -8 0 M1322.7 261.1m-4 0a4 4 0 1 0 8 0a4 4 0 1 0 -8 0 M1312.4 236.6m-4 0a4 4 0 1 0 8 0a4 4 0 1 0 -8 0 M1328.8 263.1m-4 0a4 4 0 1 0 8 0a4 4 0 1 0 -8 0 M1314.3 241.8m-4 0a4 4 0 1 0 8 0a4 4 0 1 0 -8 0 M1321.7 233.1m-4 0a4 4 0 1 0 8 0a4 4 0 1 0 -8 0 M1315.8 216.8m-4 0a4 4 0 1 0 8 0a4 4 0 1 0 -8 0 M1325.7 264.3m-4 0a4 4 0 1 0 8 0a4 4 0 1 0 -8 0 M1314.9 232.1m-4 0a4 4 0 1 0 8 0a4 4 0 1 0 -8 0 M1333.1 267.4m-4 0a4 4 0 1 0 8 0a4 4 0 1 0 -8 0 M1317.2 205.2m-4 0a4 4 0 1 0 8 0a4 4 0 1 0 -8 0 M1322.6 258.4m-4 0a4 4 0 1 0 8 0a4 4 0 1 0 -8 0 M1317.7 225.4m-4 0a4 4 0 1 0 8 0a4 4 0 1 0 -8 0 M1325.6 224.2m-4 0a4 4 0 1 0 8 0a4 4 0 1 0 -8 0 M1315.2 214.1m-4 0a4 4 0 1 0 8 0a4 4 0 1 0 -8 0 M1313.1 237.4m-4 0a4 4 0 1 0 8 0a4 4 0 1 0 -8 0 M1327.7 236.5m-4 0a4 4 0 1 0 8 0a4 4 0 1 0 -8 0 M1328.5 218.5m-4 0a4 4 0 1 0 8 0a4 4 0 1 0 -8 0 M1323 238.9m-4 0a4 4 0 1 0 8 0a4 4 0 1 0 -8 0 M1323.2 244.6m-4 0a4 4 0 1 0 8 0a4 4 0 1 0 -8 0 M1323.7 228.2m-4 0a4 4 0 1 0 8 0a4 4 0 1 0 -8 0 M1312.6 241.6m-4 0a4 4 0 1 0 8 0a4 4 0 1 0 -8 0 M1324.9 213.2m-4 0a4 4 0 1 0 8 0a4 4 0 1 0 -8 0 M1332 253.5m-4 0a4 4 0 1 0 8 0a4 4 0 1 0 -8 0 M1315.4 227.7m-4 0a4 4 0 1 0 8 0a4 4 0 1 0 -8 0 M1314.4 228.5m-4 0a4 4 0 1 0 8 0a4 4 0 1 0 -8 0 M1331.3 253.4m-4 0a4 4 0 1 0 8 0a4 4 0 1 0 -8 0 M1325.2 223.8m-4 0a4 4 0 1 0 8 0a4 4 0 1 0 -8 0 M1334.5 269.5m-4 0a4 4 0 1 0 8 0a4 4 0 1 0 -8 0 M1331.2 256.1m-4 0a4 4 0 1 0 8 0a4 4 0 1 0 -8 0 M1317.1 268.5m-4 0a4 4 0 1 0 8 0a4 4 0 1 0 -8 0 M1324.9 266.6m-4 0a4 4 0 1 0 8 0a4 4 0 1 0 -8 0 M1313.7 221.8m-4 0a4 4 0 1 0 8 0a4 4 0 1 0 -8 0 M1325.2 263.9m-4 0a4 4 0 1 0 8 0a4 4 0 1 0 -8 0 M1317.5 215.2m-4 0a4 4 0 1 0 8 0a4 4 0 1 0 -8 0 M1325.3 219.4m-4 0a4 4 0 1 0 8 0a4 4 0 1 0 -8 0 M1313 209.3m-4 0a4 4 0 1 0 8 0a4 4 0 1 0 -8 0 M1316.2 265.1m-4 0a4 4 0 1 0 8 0a4 4 0 1 0 -8 0 M1329.8 262.1m-4 0a4 4 0 1 0 8 0a4 4 0 1 0 -8 0 M1316.4 253.9m-4 0a4 4 0 1 0 8 0a4 4 0 1 0 -8 0 M1315 235.1m-4 0a4 4 0 1 0 8 0a4 4 0 1 0 -8 0 M1328.7 222.4m-4 0a4 4 0 1 0 8 0a4 4 0 1 0 -8 0 M1327.2 261.1m-4 0a4 4 0 1 0 8 0a4 4 0 1 0 -8 0 M1314.7 269.3m-4 0a4 4 0 1 0 8 0a4 4 0 1 0 -8 0" fill="#414332" stroke="#414332" stroke-width="0.8"/>
<path d="M1313.8 173.7m-4 0a4 4 0 1 0 8 0a4 4 0 1 0 -8 0 M1318.4 170.6m-4 0a4 4 0 1 0 8 0a4 4 0 1 0 -8 0 M1313.1 174.4m-4 0a4 4 0 1 0 8 0a4 4 0 1 0 -8 0 M1316.1 171.4m-4 0a4 4 0 1 0 8 0a4 4 0 1 0 -8 0 M1334.4 168.6m-4 0a4 4 0 1 0 8 0a4 4 0 1 0 -8 0 M1311.5 192.7m-4 0a4 4 0 1 0 8 0a4 4 0 1 0 -8 0 M1332.1 204.2m-4 0a4 4 0 1 0 8 0a4 4 0 1 0 -8 0 M1332.9 208.8m-4 0a4 4 0 1 0 8 0a4 4 0 1 0 -8 0 M1341.3 209.5m-4 0a4 4 0 1 0 8 0a4 4 0 1 0 -8 0 M1339.8 216.4m-4 0a4 4 0 1 0 8 0a4 4 0 1 0 -8 0 M1358.1 217.2m-4 0a4 4 0 1 0 8 0a4 4 0 1 0 -8 0 M1362.7 230.9m-4 0a4 4 0 1 0 8 0a4 4 0 1 0 -8 0 M1347.4 232.4m-4 0a4 4 0 1 0 8 0a4 4 0 1 0 -8 0 M1341.3 238.2m-4 0a4 4 0 1 0 8 0a4 4 0 1 0 -8 0 M1353.5 240m-4 0a4 4 0 1 0 8 0a4 4 0 1 0 -8 0 M1358.1 244.3m-4 0a4 4 0 1 0 8 0a4 4 0 1 0 -8 0 M1346.6 244.6m-4 0a4 4 0 1 0 8 0a4 4 0 1 0 -8 0 M1335.2 243.1m-4 0a4 4 0 1 0 8 0a4 4 0 1 0 -8 0 M1337.5 247.7m-4 0a4 4 0 1 0 8 0a4 4 0 1 0 -8 0 M1334.4 258.4m-4 0a4 4 0 1 0 8 0a4 4 0 1 0 -8 0 M1352 263.7m-4 0a4 4 0 1 0 8 0a4 4 0 1 0 -8 0 M1348.9 266.8m-4 0a4 4 0 1 0 8 0a4 4 0 1 0 -8 0 M1332.9 233.2m-4 0a4 4 0 1 0 8 0a4 4 0 1 0 -8 0 M1335.2 224.8m-4 0a4 4 0 1 0 8 0a4 4 0 1 0 -8 0 M1336.7 214.1m-4 0a4 4 0 1 0 8 0a4 4 0 1 0 -8 0 M1333.7 220.2m-4 0a4 4 0 1 0 8 0a4 4 0 1 0 -8 0 M1323 262.9m-4 0a4 4 0 1 0 8 0a4 4 0 1 0 -8 0 M1321.5 267.5m-4 0a4 4 0 1 0 8 0a4 4 0 1 0 -8 0 M1327.6 266m-4 0a4 4 0 1 0 8 0a4 4 0 1 0 -8 0 M1333.7 267.5m-4 0a4 4 0 1 0 8 0a4 4 0 1 0 -8 0" fill="#55574a" stroke="#35372a" stroke-width="1.3"/>
<line x1="1240.7" y1="52.2" x2="1240.7" y2="342.4" stroke="#8e8e8e" stroke-width="1.6" stroke-dasharray="14 6"/>
<line x1="1306.5" y1="52.2" x2="1306.5" y2="342.4" stroke="#8e8e8e" stroke-width="1.6" stroke-dasharray="14 6"/>
<line x1="1121" y1="269.8" x2="1427.5" y2="269.8" stroke="#8e8e8e" stroke-width="1.6" stroke-dasharray="14 6"/>
<text x="1131" y="338.4" font-size="16" fill="#b2c459">Down: 381</text>
<text x="1418" y="338.4" font-size="16" text-anchor="end" fill="#454633">Up: 249</text>
<rect x="1121" y="52.2" width="306.5" height="290.2" fill="none" stroke="#000" stroke-width="1.8"/>
<line x1="1114" y1="334" x2="1121" y2="334" stroke="#000" stroke-width="1.8"/>
<text x="1107" y="339.6" font-size="16" text-anchor="end">0</text>
<line x1="1114" y1="235.4" x2="1121" y2="235.4" stroke="#000" stroke-width="1.8"/>
<text x="1107" y="241" font-size="16" text-anchor="end">2</text>
<line x1="1114" y1="136.8" x2="1121" y2="136.8" stroke="#000" stroke-width="1.8"/>
<text x="1107" y="142.4" font-size="16" text-anchor="end">4</text>
<line x1="1191.3" y1="342.4" x2="1191.3" y2="349.4" stroke="#000" stroke-width="1.8"/>
<text x="1191.3" y="368.3" font-size="16" text-anchor="middle">-2.5</text>
<line x1="1273.6" y1="342.4" x2="1273.6" y2="349.4" stroke="#000" stroke-width="1.8"/>
<text x="1273.6" y="368.3" font-size="16" text-anchor="middle">0.0</text>
<line x1="1355.8" y1="342.4" x2="1355.8" y2="349.4" stroke="#000" stroke-width="1.8"/>
<text x="1355.8" y="368.3" font-size="16" text-anchor="middle">2.5</text>
<text x="1269.7" y="392" font-size="19.5" text-anchor="middle">Log<tspan font-size="14" dy="5">2</tspan><tspan dy="-5"> (Fold Change)</tspan></text>
<text x="1078" y="197.5" font-size="19.8" text-anchor="middle" transform="rotate(-90 1078 197.5)">-Log <tspan font-size="15" dy="4">10</tspan><tspan dy="-4"> (</tspan><tspan font-style="italic">P.adj</tspan> )</text>
<text x="1471.2" y="24.4" font-size="32" font-weight="bold">D</text>
<line x1="1628.6" y1="24.4" x2="1628.6" y2="348.6" stroke="#ececec" stroke-width="0.9"/>
<line x1="1739.7" y1="24.4" x2="1739.7" y2="348.6" stroke="#ececec" stroke-width="0.9"/>
<line x1="1850.9" y1="24.4" x2="1850.9" y2="348.6" stroke="#ececec" stroke-width="0.9"/>
<line x1="1555.6" y1="44.9" x2="1947.8" y2="44.9" stroke="#ececec" stroke-width="0.9"/>
<line x1="1555.6" y1="123.3" x2="1947.8" y2="123.3" stroke="#ececec" stroke-width="0.9"/>
<line x1="1555.6" y1="201.7" x2="1947.8" y2="201.7" stroke="#ececec" stroke-width="0.9"/>
<line x1="1555.6" y1="280.1" x2="1947.8" y2="280.1" stroke="#ececec" stroke-width="0.9"/>
<line x1="1573" y1="24.4" x2="1573" y2="348.6" stroke="#e8e8e8" stroke-width="1.8"/>
<line x1="1684.2" y1="24.4" x2="1684.2" y2="348.6" stroke="#e8e8e8" stroke-width="1.8"/>
<line x1="1795.3" y1="24.4" x2="1795.3" y2="348.6" stroke="#e8e8e8" stroke-width="1.8"/>
<line x1="1906.5" y1="24.4" x2="1906.5" y2="348.6" stroke="#e8e8e8" stroke-width="1.8"/>
<line x1="1555.6" y1="84.1" x2="1947.8" y2="84.1" stroke="#e8e8e8" stroke-width="1.8"/>
<line x1="1555.6" y1="162.5" x2="1947.8" y2="162.5" stroke="#e8e8e8" stroke-width="1.8"/>
<line x1="1555.6" y1="240.9" x2="1947.8" y2="240.9" stroke="#e8e8e8" stroke-width="1.8"/>
<line x1="1555.6" y1="319.3" x2="1947.8" y2="319.3" stroke="#e8e8e8" stroke-width="1.8"/>
<line x1="1555.6" y1="123.3" x2="1947.8" y2="123.3" stroke="#999999" stroke-width="1.6" stroke-dasharray="14 6.5"/>
<line x1="1555.6" y1="201.7" x2="1947.8" y2="201.7" stroke="#999999" stroke-width="1.6" stroke-dasharray="14 6.5"/>
<g><circle cx="1573" cy="57.4" r="6.1" fill="#454734" stroke="#343527" stroke-width="0.8" fill-opacity="0.6" stroke-opacity="0.6"/><circle cx="1573" cy="58.4" r="6.1" fill="#454734" stroke="#343527" stroke-width="0.8" fill-opacity="0.6" stroke-opacity="0.6"/><circle cx="1573" cy="59.3" r="6.1" fill="#454734" stroke="#343527" stroke-width="0.8" fill-opacity="0.6" stroke-opacity="0.6"/><circle cx="1573.1" cy="60.2" r="6" fill="#454734" stroke="#343527" stroke-width="0.8" fill-opacity="0.6" stroke-opacity="0.6"/><circle cx="1573.1" cy="61.1" r="6" fill="#454734" stroke="#343527" stroke-width="0.8" fill-opacity="0.6" stroke-opacity="0.6"/><circle cx="1573.1" cy="62" r="6" fill="#454734" stroke="#343527" stroke-width="0.8" fill-opacity="0.6" stroke-opacity="0.6"/><circle cx="1573.1" cy="62.9" r="6" fill="#454734" stroke="#343527" stroke-width="0.8" fill-opacity="0.6" stroke-opacity="0.6"/><circle cx="1573.1" cy="63.8" r="6" fill="#454734" stroke="#343527" stroke-width="0.8" fill-opacity="0.6" stroke-opacity="0.6"/><circle cx="1573.1" cy="64.7" r="6" fill="#454734" stroke="#343527" stroke-width="0.8" fill-opacity="0.6" stroke-opacity="0.6"/><circle cx="1573.2" cy="65.6" r="5.9" fill="#454734" stroke="#343527" stroke-width="0.8" fill-opacity="0.6" stroke-opacity="0.6"/><circle cx="1573.2" cy="66.5" r="5.9" fill="#454734" stroke="#343527" stroke-width="0.8" fill-opacity="0.6" stroke-opacity="0.6"/><circle cx="1573.2" cy="67.4" r="5.9" fill="#454734" stroke="#343527" stroke-width="0.8" fill-opacity="0.6" stroke-opacity="0.6"/><circle cx="1573.2" cy="68.3" r="5.9" fill="#454734" stroke="#343527" stroke-width="0.8" fill-opacity="0.6" stroke-opacity="0.6"/><circle cx="1573.2" cy="69.2" r="5.9" fill="#454734" stroke="#343527" stroke-width="0.8" fill-opacity="0.6" stroke-opacity="0.6"/><circle cx="1573.3" cy="70.1" r="5.9" fill="#454734" stroke="#343527" stroke-width="0.8" fill-opacity="0.6" stroke-opacity="0.6"/><circle cx="1573.3" cy="71" r="5.8" fill="#454734" stroke="#343527" stroke-width="0.8" fill-opacity="0.6" stroke-opacity="0.6"/><circle cx="1573.3" cy="71.9" r="5.8" fill="#454734" stroke="#343527" stroke-width="0.8" fill-opacity="0.6" stroke-opacity="0.6"/><circle cx="1573.3" cy="72.8" r="5.8" fill="#454734" stroke="#343527" stroke-width="0.8" fill-opacity="0.6" stroke-opacity="0.6"/><circle cx="1573.3" cy="73.7" r="5.8" fill="#454734" stroke="#343527" stroke-width="0.8" fill-opacity="0.6" stroke-opacity="0.6"/><circle cx="1573.4" cy="74.6" r="5.8" fill="#454734" stroke="#343527" stroke-width="0.8" fill-opacity="0.6" stroke-opacity="0.6"/><circle cx="1573.4" cy="75.6" r="5.7" fill="#454734" stroke="#343527" stroke-width="0.8" fill-opacity="0.6" stroke-opacity="0.6"/><circle cx="1573.4" cy="76.4" r="5.7" fill="#454734" stroke="#343527" stroke-width="0.8" fill-opacity="0.6" stroke-opacity="0.6"/><circle cx="1573.4" cy="77.3" r="5.7" fill="#454734" stroke="#343527" stroke-width="0.8" fill-opacity="0.6" stroke-opacity="0.6"/><circle cx="1573.4" cy="78.2" r="5.7" fill="#454734" stroke="#343527" stroke-width="0.8" fill-opacity="0.6" stroke-opacity="0.6"/><circle cx="1573.5" cy="79.1" r="5.7" fill="#454734" stroke="#343527" stroke-width="0.8" fill-opacity="0.6" stroke-opacity="0.6"/><circle cx="1573.5" cy="80" r="5.7" fill="#454734" stroke="#343527" stroke-width="0.8" fill-opacity="0.6" stroke-opacity="0.6"/><circle cx="1573.5" cy="81" r="5.6" fill="#454734" stroke="#343527" stroke-width="0.8" fill-opacity="0.6" stroke-opacity="0.6"/><circle cx="1573.5" cy="81.8" r="5.6" fill="#454734" stroke="#343527" stroke-width="0.8" fill-opacity="0.6" stroke-opacity="0.6"/><circle cx="1573.5" cy="82.7" r="5.6" fill="#454734" stroke="#343527" stroke-width="0.8" fill-opacity="0.6" stroke-opacity="0.6"/><circle cx="1573.6" cy="83.7" r="5.6" fill="#454734" stroke="#343527" stroke-width="0.8" fill-opacity="0.6" stroke-opacity="0.6"/><circle cx="1573.6" cy="84.6" r="5.6" fill="#454734" stroke="#343527" stroke-width="0.8" fill-opacity="0.6" stroke-opacity="0.6"/><circle cx="1573.6" cy="85.5" r="5.6" fill="#454734" stroke="#343527" stroke-width="0.8" fill-opacity="0.6" stroke-opacity="0.6"/><circle cx="1573.6" cy="86.4" r="5.5" fill="#454734" stroke="#343527" stroke-width="0.8" fill-opacity="0.6" stroke-opacity="0.6"/><circle cx="1573.6" cy="87.3" r="5.5" fill="#454734" stroke="#343527" stroke-width="0.8" fill-opacity="0.6" stroke-opacity="0.6"/><circle cx="1573.7" cy="88.2" r="5.5" fill="#454734" stroke="#343527" stroke-width="0.8" fill-opacity="0.6" stroke-opacity="0.6"/><circle cx="1573.7" cy="89.1" r="5.5" fill="#454734" stroke="#343527" stroke-width="0.8" fill-opacity="0.6" stroke-opacity="0.6"/><circle cx="1573.7" cy="89.9" r="5.5" fill="#454734" stroke="#343527" stroke-width="0.8" fill-opacity="0.6" stroke-opacity="0.6"/><circle cx="1573.7" cy="90.9" r="5.5" fill="#454734" stroke="#343527" stroke-width="0.8" fill-opacity="0.6" stroke-opacity="0.6"/><circle cx="1573.8" cy="91.8" r="5.4" fill="#454734" stroke="#343527" stroke-width="0.8" fill-opacity="0.6" stroke-opacity="0.6"/><circle cx="1573.8" cy="92.7" r="5.4" fill="#454734" stroke="#343527" stroke-width="0.8" fill-opacity="0.6" stroke-opacity="0.6"/><circle cx="1573.8" cy="93.6" r="5.4" fill="#454734" stroke="#343527" stroke-width="0.8" fill-opacity="0.6" stroke-opacity="0.6"/><circle cx="1573.8" cy="94.5" r="5.4" fill="#454734" stroke="#343527" stroke-width="0.8" fill-opacity="0.6" stroke-opacity="0.6"/><circle cx="1573.8" cy="95.4" r="5.4" fill="#454734" stroke="#343527" stroke-width="0.8" fill-opacity="0.6" stroke-opacity="0.6"/><circle cx="1573.9" cy="96.3" r="5.3" fill="#454734" stroke="#343527" stroke-width="0.8" fill-opacity="0.6" stroke-opacity="0.6"/><circle cx="1573.9" cy="97.2" r="5.3" fill="#454734" stroke="#343527" stroke-width="0.8" fill-opacity="0.6" stroke-opacity="0.6"/><circle cx="1573.9" cy="98.1" r="5.3" fill="#454734" stroke="#343527" stroke-width="0.8" fill-opacity="0.6" stroke-opacity="0.6"/><circle cx="1573.9" cy="99" r="5.3" fill="#454734" stroke="#343527" stroke-width="0.8" fill-opacity="0.6" stroke-opacity="0.6"/><circle cx="1573.9" cy="99.9" r="5.3" fill="#454734" stroke="#343527" stroke-width="0.8" fill-opacity="0.6" stroke-opacity="0.6"/><circle cx="1574" cy="100.8" r="5.3" fill="#454734" stroke="#343527" stroke-width="0.8" fill-opacity="0.6" stroke-opacity="0.6"/><circle cx="1574" cy="101.7" r="5.2" fill="#454734" stroke="#343527" stroke-width="0.8" fill-opacity="0.6" stroke-opacity="0.6"/><circle cx="1574" cy="102.6" r="5.2" fill="#454734" stroke="#343527" stroke-width="0.8" fill-opacity="0.6" stroke-opacity="0.6"/><circle cx="1574" cy="103.5" r="5.2" fill="#454734" stroke="#343527" stroke-width="0.8" fill-opacity="0.6" stroke-opacity="0.6"/><circle cx="1574.1" cy="104.4" r="5.2" fill="#454734" stroke="#343527" stroke-width="0.8" fill-opacity="0.6" stroke-opacity="0.6"/><circle cx="1574.1" cy="105.3" r="5.2" fill="#454734" stroke="#343527" stroke-width="0.8" fill-opacity="0.6" stroke-opacity="0.6"/><circle cx="1574.1" cy="106.2" r="5.2" fill="#454734" stroke="#343527" stroke-width="0.8" fill-opacity="0.6" stroke-opacity="0.6"/><circle cx="1574.2" cy="107.1" r="5.1" fill="#454734" stroke="#343527" stroke-width="0.8" fill-opacity="0.6" stroke-opacity="0.6"/><circle cx="1574.2" cy="108" r="5.1" fill="#454734" stroke="#343527" stroke-width="0.8" fill-opacity="0.6" stroke-opacity="0.6"/><circle cx="1574.3" cy="108.9" r="5.1" fill="#454734" stroke="#343527" stroke-width="0.8" fill-opacity="0.6" stroke-opacity="0.6"/><circle cx="1574.3" cy="109.8" r="5.1" fill="#454734" stroke="#343527" stroke-width="0.8" fill-opacity="0.6" stroke-opacity="0.6"/><circle cx="1574.4" cy="110.7" r="5.1" fill="#454734" stroke="#343527" stroke-width="0.8" fill-opacity="0.6" stroke-opacity="0.6"/><circle cx="1574.4" cy="111.6" r="5.1" fill="#454734" stroke="#343527" stroke-width="0.8" fill-opacity="0.6" stroke-opacity="0.6"/><circle cx="1574.5" cy="112.5" r="5" fill="#454734" stroke="#343527" stroke-width="0.8" fill-opacity="0.6" stroke-opacity="0.6"/><circle cx="1574.6" cy="113.4" r="5" fill="#454734" stroke="#343527" stroke-width="0.8" fill-opacity="0.6" stroke-opacity="0.6"/><circle cx="1574.7" cy="114.3" r="5" fill="#454734" stroke="#343527" stroke-width="0.8" fill-opacity="0.6" stroke-opacity="0.6"/><circle cx="1574.7" cy="115.2" r="5" fill="#454734" stroke="#343527" stroke-width="0.8" fill-opacity="0.6" stroke-opacity="0.6"/><circle cx="1574.8" cy="116.1" r="5" fill="#454734" stroke="#343527" stroke-width="0.8" fill-opacity="0.6" stroke-opacity="0.6"/><circle cx="1574.9" cy="117" r="5" fill="#454734" stroke="#343527" stroke-width="0.8" fill-opacity="0.6" stroke-opacity="0.6"/><circle cx="1575.1" cy="117.9" r="4.9" fill="#454734" stroke="#343527" stroke-width="0.8" fill-opacity="0.6" stroke-opacity="0.6"/><circle cx="1575.2" cy="118.8" r="4.9" fill="#454734" stroke="#343527" stroke-width="0.8" fill-opacity="0.6" stroke-opacity="0.6"/><circle cx="1575.4" cy="119.7" r="4.9" fill="#454734" stroke="#343527" stroke-width="0.8" fill-opacity="0.6" stroke-opacity="0.6"/><circle cx="1575.5" cy="120.5" r="4.9" fill="#454734" stroke="#343527" stroke-width="0.8" fill-opacity="0.6" stroke-opacity="0.6"/><circle cx="1575.7" cy="121.4" r="4.9" fill="#454734" stroke="#343527" stroke-width="0.8" fill-opacity="0.6" stroke-opacity="0.6"/><circle cx="1575.9" cy="122.3" r="4.9" fill="#454734" stroke="#343527" stroke-width="0.8" fill-opacity="0.6" stroke-opacity="0.6"/><circle cx="1576.1" cy="123.2" r="4.8" fill="#454734" stroke="#343527" stroke-width="0.8" fill-opacity="0.6" stroke-opacity="0.6"/><circle cx="1576.4" cy="124" r="4.8" fill="#454734" stroke="#343527" stroke-width="0.8" fill-opacity="0.6" stroke-opacity="0.6"/><circle cx="1576.7" cy="124.9" r="4.8" fill="#454734" stroke="#343527" stroke-width="0.8" fill-opacity="0.6" stroke-opacity="0.6"/><circle cx="1577.1" cy="125.7" r="4.8" fill="#454734" stroke="#343527" stroke-width="0.8" fill-opacity="0.6" stroke-opacity="0.6"/><circle cx="1577.4" cy="126.5" r="4.8" fill="#454734" stroke="#343527" stroke-width="0.8" fill-opacity="0.6" stroke-opacity="0.6"/><circle cx="1577.8" cy="127.4" r="4.8" fill="#454734" stroke="#343527" stroke-width="0.8" fill-opacity="0.6" stroke-opacity="0.6"/><circle cx="1578.2" cy="128.2" r="4.7" fill="#454734" stroke="#343527" stroke-width="0.8" fill-opacity="0.6" stroke-opacity="0.6"/><circle cx="1578.6" cy="129" r="4.7" fill="#454734" stroke="#343527" stroke-width="0.8" fill-opacity="0.6" stroke-opacity="0.6"/><circle cx="1579" cy="129.8" r="4.7" fill="#454734" stroke="#343527" stroke-width="0.8" fill-opacity="0.6" stroke-opacity="0.6"/><circle cx="1579.5" cy="130.5" r="4.7" fill="#454734" stroke="#343527" stroke-width="0.8" fill-opacity="0.6" stroke-opacity="0.6"/><circle cx="1580" cy="131.3" r="4.7" fill="#454734" stroke="#343527" stroke-width="0.8" fill-opacity="0.6" stroke-opacity="0.6"/><circle cx="1580.5" cy="132" r="4.7" fill="#454734" stroke="#343527" stroke-width="0.8" fill-opacity="0.6" stroke-opacity="0.6"/><circle cx="1581.1" cy="132.7" r="4.7" fill="#454734" stroke="#343527" stroke-width="0.8" fill-opacity="0.6" stroke-opacity="0.6"/><circle cx="1581.7" cy="133.4" r="4.6" fill="#454734" stroke="#343527" stroke-width="0.8" fill-opacity="0.6" stroke-opacity="0.6"/><circle cx="1582.3" cy="134.1" r="4.6" fill="#454734" stroke="#343527" stroke-width="0.8" fill-opacity="0.6" stroke-opacity="0.6"/><circle cx="1583" cy="134.7" r="4.6" fill="#454734" stroke="#343527" stroke-width="0.8" fill-opacity="0.6" stroke-opacity="0.6"/><circle cx="1583.6" cy="135.3" r="4.6" fill="#454734" stroke="#343527" stroke-width="0.8" fill-opacity="0.6" stroke-opacity="0.6"/><circle cx="1584.3" cy="135.9" r="4.6" fill="#454734" stroke="#343527" stroke-width="0.8" fill-opacity="0.6" stroke-opacity="0.6"/><circle cx="1585" cy="136.5" r="4.6" fill="#454734" stroke="#343527" stroke-width="0.8" fill-opacity="0.6" stroke-opacity="0.6"/><circle cx="1585.6" cy="137.1" r="4.6" fill="#454734" stroke="#343627" stroke-width="0.8" fill-opacity="0.6" stroke-opacity="0.6"/><circle cx="1586.4" cy="137.6" r="4.6" fill="#454734" stroke="#343627" stroke-width="0.8" fill-opacity="0.6" stroke-opacity="0.6"/><circle cx="1587.1" cy="138.2" r="4.5" fill="#454735" stroke="#343627" stroke-width="0.8" fill-opacity="0.6" stroke-opacity="0.6"/><circle cx="1587.8" cy="138.7" r="4.5" fill="#464835" stroke="#343627" stroke-width="0.8" fill-opacity="0.6" stroke-opacity="0.6"/><circle cx="1588.6" cy="139.2" r="4.5" fill="#464835" stroke="#343628" stroke-width="0.8" fill-opacity="0.6" stroke-opacity="0.6"/><circle cx="1589.4" cy="139.7" r="4.5" fill="#464835" stroke="#343628" stroke-width="0.8" fill-opacity="0.6" stroke-opacity="0.6"/><circle cx="1590.1" cy="140.1" r="4.5" fill="#464835" stroke="#343628" stroke-width="0.8" fill-opacity="0.6" stroke-opacity="0.6"/><circle cx="1590.9" cy="140.6" r="4.5" fill="#464835" stroke="#343628" stroke-width="0.8" fill-opacity="0.6" stroke-opacity="0.6"/><circle cx="1591.7" cy="141" r="4.5" fill="#464835" stroke="#353628" stroke-width="0.8" fill-opacity="0.6" stroke-opacity="0.6"/><circle cx="1592.5" cy="141.4" r="4.5" fill="#464835" stroke="#353628" stroke-width="0.8" fill-opacity="0.6" stroke-opacity="0.6"/><circle cx="1593.3" cy="141.8" r="4.5" fill="#464835" stroke="#353628" stroke-width="0.8" fill-opacity="0.6" stroke-opacity="0.6"/><circle cx="1594.2" cy="142.2" r="4.4" fill="#464836" stroke="#353628" stroke-width="0.8" fill-opacity="0.6" stroke-opacity="0.6"/><circle cx="1595" cy="142.5" r="4.4" fill="#474936" stroke="#353628" stroke-width="0.8" fill-opacity="0.6" stroke-opacity="0.6"/><circle cx="1595.8" cy="142.9" r="4.4" fill="#474936" stroke="#353728" stroke-width="0.8" fill-opacity="0.6" stroke-opacity="0.6"/><circle cx="1596.6" cy="143.2" r="4.4" fill="#474936" stroke="#353729" stroke-width="0.8" fill-opacity="0.6" stroke-opacity="0.6"/><circle cx="1597.5" cy="143.6" r="4.3" fill="#474936" stroke="#353729" stroke-width="0.8" fill-opacity="0.6" stroke-opacity="0.6"/><circle cx="1598.3" cy="143.9" r="4.3" fill="#474937" stroke="#353729" stroke-width="0.8" fill-opacity="0.6" stroke-opacity="0.6"/><circle cx="1599.2" cy="144.2" r="4.3" fill="#484a37" stroke="#363729" stroke-width="0.8" fill-opacity="0.6" stroke-opacity="0.6"/><circle cx="1600" cy="144.5" r="4.3" fill="#484a37" stroke="#363729" stroke-width="0.8" fill-opacity="0.6" stroke-opacity="0.6"/><circle cx="1600.9" cy="144.8" r="4.2" fill="#484a37" stroke="#363729" stroke-width="0.8" fill-opacity="0.6" stroke-opacity="0.6"/><circle cx="1601.7" cy="145.1" r="4.2" fill="#484a38" stroke="#36382a" stroke-width="0.8" fill-opacity="0.6" stroke-opacity="0.6"/><circle cx="1602.6" cy="145.4" r="4.2" fill="#494a38" stroke="#36382a" stroke-width="0.8" fill-opacity="0.6" stroke-opacity="0.6"/><circle cx="1603.4" cy="145.7" r="4.2" fill="#494b38" stroke="#37382a" stroke-width="0.8" fill-opacity="0.6" stroke-opacity="0.6"/><circle cx="1604.3" cy="146" r="4.2" fill="#494b38" stroke="#37382a" stroke-width="0.8" fill-opacity="0.6" stroke-opacity="0.6"/><circle cx="1605.2" cy="146.2" r="4.1" fill="#494b39" stroke="#37392b" stroke-width="0.8" fill-opacity="0.6" stroke-opacity="0.6"/><circle cx="1606" cy="146.5" r="4.1" fill="#4a4c39" stroke="#37392b" stroke-width="0.8" fill-opacity="0.6" stroke-opacity="0.6"/><circle cx="1606.9" cy="146.7" r="4.1" fill="#4a4c3a" stroke="#38392b" stroke-width="0.8" fill-opacity="0.6" stroke-opacity="0.6"/><circle cx="1607.8" cy="147" r="4.1" fill="#4a4c3a" stroke="#38392b" stroke-width="0.8" fill-opacity="0.6" stroke-opacity="0.6"/><circle cx="1608.6" cy="147.2" r="4" fill="#4b4d3a" stroke="#383a2c" stroke-width="0.8" fill-opacity="0.6" stroke-opacity="0.6"/><circle cx="1609.5" cy="147.5" r="4" fill="#4b4d3b" stroke="#383a2c" stroke-width="0.8" fill-opacity="0.6" stroke-opacity="0.6"/><circle cx="1610.4" cy="147.7" r="4" fill="#4c4d3b" stroke="#393a2c" stroke-width="0.8" fill-opacity="0.6" stroke-opacity="0.6"/><circle cx="1611.2" cy="147.9" r="4" fill="#4c4e3c" stroke="#393a2d" stroke-width="0.8" fill-opacity="0.6" stroke-opacity="0.6"/><circle cx="1612.1" cy="148.2" r="4" fill="#4c4e3c" stroke="#393b2d" stroke-width="0.8" fill-opacity="0.6" stroke-opacity="0.6"/><circle cx="1613" cy="148.4" r="3.9" fill="#4d4f3d" stroke="#3a3b2d" stroke-width="0.8" fill-opacity="0.6" stroke-opacity="0.6"/><circle cx="1613.9" cy="148.6" r="3.9" fill="#4d4f3d" stroke="#3a3b2e" stroke-width="0.8" fill-opacity="0.6" stroke-opacity="0.6"/><circle cx="1614.7" cy="148.8" r="3.9" fill="#4e503e" stroke="#3a3c2e" stroke-width="0.8" fill-opacity="0.6" stroke-opacity="0.6"/><circle cx="1615.6" cy="149" r="3.9" fill="#4e503e" stroke="#3b3c2f" stroke-width="0.8" fill-opacity="0.6" stroke-opacity="0.6"/><circle cx="1616.5" cy="149.2" r="3.9" fill="#4f513f" stroke="#3b3d2f" stroke-width="0.8" fill-opacity="0.6" stroke-opacity="0.6"/><circle cx="1617.4" cy="149.4" r="3.8" fill="#50513f" stroke="#3c3d30" stroke-width="0.8" fill-opacity="0.6" stroke-opacity="0.6"/><circle cx="1618.3" cy="149.6" r="3.8" fill="#505240" stroke="#3c3d30" stroke-width="0.8" fill-opacity="0.6" stroke-opacity="0.6"/><circle cx="1619.1" cy="149.8" r="3.8" fill="#515341" stroke="#3d3e31" stroke-width="0.8" fill-opacity="0.6" stroke-opacity="0.6"/><circle cx="1620" cy="150" r="3.8" fill="#515341" stroke="#3d3e31" stroke-width="0.8" fill-opacity="0.6" stroke-opacity="0.6"/><circle cx="1620.9" cy="150.2" r="3.8" fill="#525442" stroke="#3e3f32" stroke-width="0.8" fill-opacity="0.6" stroke-opacity="0.6"/><circle cx="1621.8" cy="150.4" r="3.8" fill="#535543" stroke="#3e3f32" stroke-width="0.8" fill-opacity="0.6" stroke-opacity="0.6"/><circle cx="1622.7" cy="150.6" r="3.7" fill="#535544" stroke="#3f4033" stroke-width="0.8" fill-opacity="0.6" stroke-opacity="0.6"/><circle cx="1623.6" cy="150.8" r="3.7" fill="#545644" stroke="#3f4033" stroke-width="0.8" fill-opacity="0.6" stroke-opacity="0.6"/><circle cx="1624.4" cy="150.9" r="3.7" fill="#555745" stroke="#404134" stroke-width="0.8" fill-opacity="0.6" stroke-opacity="0.6"/><circle cx="1625.3" cy="151.1" r="3.7" fill="#565746" stroke="#404235" stroke-width="0.8" fill-opacity="0.6" stroke-opacity="0.6"/><circle cx="1626.2" cy="151.3" r="3.7" fill="#565847" stroke="#414235" stroke-width="0.8" fill-opacity="0.6" stroke-opacity="0.6"/><circle cx="1627.1" cy="151.5" r="3.6" fill="#575948" stroke="#414336" stroke-width="0.8" fill-opacity="0.6" stroke-opacity="0.6"/><circle cx="1628" cy="151.6" r="3.6" fill="#585a49" stroke="#424337" stroke-width="0.8" fill-opacity="0.6" stroke-opacity="0.6"/><circle cx="1628.9" cy="151.8" r="3.6" fill="#595b4a" stroke="#434437" stroke-width="0.8" fill-opacity="0.6" stroke-opacity="0.6"/><circle cx="1629.8" cy="151.9" r="3.6" fill="#5a5c4b" stroke="#434538" stroke-width="0.8" fill-opacity="0.6" stroke-opacity="0.6"/><circle cx="1630.6" cy="152.1" r="3.6" fill="#5b5d4c" stroke="#444539" stroke-width="0.8" fill-opacity="0.6" stroke-opacity="0.6"/><circle cx="1631.5" cy="152.3" r="3.6" fill="#5c5e4d" stroke="#45463a" stroke-width="0.8" fill-opacity="0.6" stroke-opacity="0.6"/><circle cx="1632.4" cy="152.4" r="3.5" fill="#5d5f4e" stroke="#46473a" stroke-width="0.8" fill-opacity="0.6" stroke-opacity="0.6"/><circle cx="1633.3" cy="152.6" r="3.5" fill="#5e604f" stroke="#46483b" stroke-width="0.8" fill-opacity="0.6" stroke-opacity="0.6"/><circle cx="1634.2" cy="152.7" r="3.5" fill="#5f6150" stroke="#47483c" stroke-width="0.8" fill-opacity="0.6" stroke-opacity="0.6"/><circle cx="1635.1" cy="152.9" r="3.5" fill="#606251" stroke="#48493d" stroke-width="0.8" fill-opacity="0.6" stroke-opacity="0.6"/><circle cx="1636" cy="153" r="3.5" fill="#616353" stroke="#494a3e" stroke-width="0.8" fill-opacity="0.6" stroke-opacity="0.6"/><circle cx="1636.9" cy="153.2" r="3.5" fill="#626454" stroke="#4a4b3f" stroke-width="0.8" fill-opacity="0.6" stroke-opacity="0.6"/><circle cx="1637.8" cy="153.4" r="3.4" fill="#646555" stroke="#4b4c40" stroke-width="0.8" fill-opacity="0.6" stroke-opacity="0.6"/><circle cx="1638.6" cy="153.5" r="3.4" fill="#656757" stroke="#4c4d41" stroke-width="0.8" fill-opacity="0.6" stroke-opacity="0.6"/><circle cx="1639.5" cy="153.7" r="3.4" fill="#666858" stroke="#4d4e42" stroke-width="0.8" fill-opacity="0.6" stroke-opacity="0.6"/><circle cx="1640.4" cy="153.8" r="3.4" fill="#68695a" stroke="#4e4f43" stroke-width="0.8" fill-opacity="0.6" stroke-opacity="0.6"/><circle cx="1641.3" cy="154" r="3.4" fill="#696b5b" stroke="#4f5045" stroke-width="0.8" fill-opacity="0.6" stroke-opacity="0.6"/><circle cx="1642.2" cy="154.1" r="3.3" fill="#6b6c5d" stroke="#505146" stroke-width="0.8" fill-opacity="0.6" stroke-opacity="0.6"/><circle cx="1643.1" cy="154.3" r="3.3" fill="#6c6e5f" stroke="#515247" stroke-width="0.8" fill-opacity="0.6" stroke-opacity="0.6"/><circle cx="1644" cy="154.4" r="3.3" fill="#6e6f60" stroke="#525348" stroke-width="0.8" fill-opacity="0.6" stroke-opacity="0.6"/><circle cx="1644.9" cy="154.5" r="3.3" fill="#6f7162" stroke="#54554a" stroke-width="0.8" fill-opacity="0.6" stroke-opacity="0.6"/><circle cx="1645.8" cy="154.7" r="3.3" fill="#717364" stroke="#55564b" stroke-width="0.8" fill-opacity="0.6" stroke-opacity="0.6"/><circle cx="1646.7" cy="154.8" r="3.3" fill="#737466" stroke="#56574c" stroke-width="0.8" fill-opacity="0.6" stroke-opacity="0.6"/><circle cx="1647.6" cy="155" r="3.2" fill="#757668" stroke="#57584e" stroke-width="0.8" fill-opacity="0.6" stroke-opacity="0.6"/><circle cx="1648.4" cy="155.1" r="3.2" fill="#76786a" stroke="#595a4f" stroke-width="0.8" fill-opacity="0.6" stroke-opacity="0.6"/><circle cx="1649.3" cy="155.2" r="3.2" fill="#787a6c" stroke="#5a5b51" stroke-width="0.8" fill-opacity="0.6" stroke-opacity="0.6"/><circle cx="1650.2" cy="155.4" r="3.2" fill="#7a7c6e" stroke="#5c5d52" stroke-width="0.8" fill-opacity="0.6" stroke-opacity="0.6"/><circle cx="1651.1" cy="155.5" r="3.2" fill="#7c7d70" stroke="#5d5e54" stroke-width="0.8" fill-opacity="0.6" stroke-opacity="0.6"/><circle cx="1652" cy="155.6" r="3.2" fill="#7e7f72" stroke="#5e6056" stroke-width="0.8" fill-opacity="0.6" stroke-opacity="0.6"/><circle cx="1652.9" cy="155.8" r="3.1" fill="#808174" stroke="#606157" stroke-width="0.8" fill-opacity="0.6" stroke-opacity="0.6"/><circle cx="1653.8" cy="155.9" r="3.1" fill="#828377" stroke="#626359" stroke-width="0.8" fill-opacity="0.6" stroke-opacity="0.6"/><circle cx="1654.7" cy="156" r="3.1" fill="#848579" stroke="#63645b" stroke-width="0.8" fill-opacity="0.6" stroke-opacity="0.6"/><circle cx="1655.6" cy="156.1" r="3.1" fill="#86887b" stroke="#65665c" stroke-width="0.8" fill-opacity="0.6" stroke-opacity="0.6"/><circle cx="1656.5" cy="156.2" r="3.1" fill="#888a7e" stroke="#66675e" stroke-width="0.8" fill-opacity="0.6" stroke-opacity="0.6"/><circle cx="1657.4" cy="156.4" r="3.1" fill="#8b8c80" stroke="#686960" stroke-width="0.8" fill-opacity="0.6" stroke-opacity="0.6"/><circle cx="1658.3" cy="156.5" r="3" fill="#8d8e82" stroke="#6a6b62" stroke-width="0.8" fill-opacity="0.6" stroke-opacity="0.6"/><circle cx="1659.2" cy="156.6" r="3" fill="#8f9085" stroke="#6b6c64" stroke-width="0.8" fill-opacity="0.6" stroke-opacity="0.6"/><circle cx="1660.1" cy="156.7" r="3" fill="#919287" stroke="#6d6e65" stroke-width="0.8" fill-opacity="0.6" stroke-opacity="0.6"/><circle cx="1661" cy="156.8" r="3" fill="#94958a" stroke="#6f6f67" stroke-width="0.8" fill-opacity="0.6" stroke-opacity="0.6"/><circle cx="1661.9" cy="156.9" r="3" fill="#96978c" stroke="#707169" stroke-width="0.8" fill-opacity="0.6" stroke-opacity="0.6"/><circle cx="1662.8" cy="157" r="3" fill="#98998f" stroke="#72736b" stroke-width="0.8" fill-opacity="0.6" stroke-opacity="0.6"/><circle cx="1663.7" cy="157.1" r="2.9" fill="#9b9c91" stroke="#74756d" stroke-width="0.8" fill-opacity="0.6" stroke-opacity="0.6"/><circle cx="1664.6" cy="157.2" r="2.9" fill="#9d9e94" stroke="#76776f" stroke-width="0.8" fill-opacity="0.6" stroke-opacity="0.6"/><circle cx="1665.5" cy="157.3" r="2.9" fill="#a0a197" stroke="#787971" stroke-width="0.8" fill-opacity="0.6" stroke-opacity="0.6"/><circle cx="1666.3" cy="157.4" r="2.9" fill="#a2a39a" stroke="#7a7a73" stroke-width="0.8" fill-opacity="0.6" stroke-opacity="0.6"/><circle cx="1667.2" cy="157.5" r="2.9" fill="#a5a69d" stroke="#7c7c75" stroke-width="0.8" fill-opacity="0.6" stroke-opacity="0.6"/><circle cx="1668.1" cy="157.6" r="2.9" fill="#a7a89f" stroke="#7e7e78" stroke-width="0.8" fill-opacity="0.6" stroke-opacity="0.6"/><circle cx="1669" cy="157.7" r="2.8" fill="#aaaba2" stroke="#80807a" stroke-width="0.8" fill-opacity="0.6" stroke-opacity="0.6"/><circle cx="1669.9" cy="157.8" r="2.8" fill="#adaea5" stroke="#82827c" stroke-width="0.8" fill-opacity="0.6" stroke-opacity="0.6"/><circle cx="1670.8" cy="157.9" r="2.8" fill="#b0b0a8" stroke="#84847e" stroke-width="0.8" fill-opacity="0.6" stroke-opacity="0.6"/><circle cx="1671.7" cy="158" r="2.8" fill="#b2b3ab" stroke="#868681" stroke-width="0.8" fill-opacity="0.6" stroke-opacity="0.6"/><circle cx="1672.6" cy="158.1" r="2.8" fill="#b5b6ae" stroke="#888883" stroke-width="0.8" fill-opacity="0.6" stroke-opacity="0.6"/><circle cx="1673.5" cy="158.2" r="2.8" fill="#b8b9b1" stroke="#8a8a85" stroke-width="0.8" fill-opacity="0.6" stroke-opacity="0.6"/><circle cx="1674.4" cy="158.3" r="2.8" fill="#bbbbb4" stroke="#8c8d87" stroke-width="0.8" fill-opacity="0.6" stroke-opacity="0.6"/><circle cx="1675.3" cy="158.4" r="2.7" fill="#bdbeb7" stroke="#8e8f8a" stroke-width="0.8" fill-opacity="0.6" stroke-opacity="0.6"/><circle cx="1676.2" cy="158.5" r="2.7" fill="#c0c1ba" stroke="#90918c" stroke-width="0.8" fill-opacity="0.6" stroke-opacity="0.6"/><circle cx="1677.1" cy="158.5" r="2.7" fill="#c3c4bd" stroke="#92938e" stroke-width="0.8" fill-opacity="0.6" stroke-opacity="0.6"/><circle cx="1678" cy="158.6" r="2.7" fill="#c6c6c0" stroke="#949590" stroke-width="0.8" fill-opacity="0.6" stroke-opacity="0.6"/><circle cx="1678.9" cy="158.7" r="2.7" fill="#c8c9c3" stroke="#969792" stroke-width="0.8" fill-opacity="0.6" stroke-opacity="0.6"/><circle cx="1679.8" cy="158.8" r="2.7" fill="#cbcbc6" stroke="#989995" stroke-width="0.8" fill-opacity="0.6" stroke-opacity="0.6"/><circle cx="1680.7" cy="158.8" r="2.7" fill="#cecec9" stroke="#9a9b97" stroke-width="0.8" fill-opacity="0.6" stroke-opacity="0.6"/><circle cx="1681.6" cy="158.9" r="2.6" fill="#d0d1cc" stroke="#9c9c99" stroke-width="0.8" fill-opacity="0.6" stroke-opacity="0.6"/><circle cx="1682.5" cy="159" r="2.6" fill="#d3d3ce" stroke="#9e9e9b" stroke-width="0.8" fill-opacity="0.6" stroke-opacity="0.6"/><circle cx="1683.4" cy="159" r="2.6" fill="#d5d5d1" stroke="#a0a09d" stroke-width="0.8" fill-opacity="0.6" stroke-opacity="0.6"/><circle cx="1684.3" cy="159.1" r="2.6" fill="#d7d8d4" stroke="#a1a29f" stroke-width="0.8" fill-opacity="0.6" stroke-opacity="0.6"/><circle cx="1685.2" cy="159.1" r="2.6" fill="#dadad6" stroke="#a3a4a1" stroke-width="0.8" fill-opacity="0.6" stroke-opacity="0.6"/><circle cx="1686.1" cy="159.2" r="2.6" fill="#dcdcd9" stroke="#a5a5a3" stroke-width="0.8" fill-opacity="0.6" stroke-opacity="0.6"/><circle cx="1687" cy="159.3" r="2.6" fill="#dedfdb" stroke="#a7a7a4" stroke-width="0.8" fill-opacity="0.6" stroke-opacity="0.6"/><circle cx="1687.9" cy="159.3" r="2.6" fill="#e1e1de" stroke="#a8a9a6" stroke-width="0.8" fill-opacity="0.6" stroke-opacity="0.6"/><circle cx="1688.8" cy="159.4" r="2.5" fill="#e3e3e0" stroke="#aaaaa8" stroke-width="0.8" fill-opacity="0.6" stroke-opacity="0.6"/><circle cx="1689.7" cy="159.4" r="2.5" fill="#e5e5e3" stroke="#acacaa" stroke-width="0.8" fill-opacity="0.6" stroke-opacity="0.6"/><circle cx="1690.6" cy="159.5" r="2.5" fill="#e7e8e5" stroke="#adaeac" stroke-width="0.8" fill-opacity="0.6" stroke-opacity="0.6"/><circle cx="1691.5" cy="159.5" r="2.5" fill="#eaeae8" stroke="#afafae" stroke-width="0.8" fill-opacity="0.6" stroke-opacity="0.6"/><circle cx="1692.4" cy="159.6" r="2.5" fill="#ececea" stroke="#b1b1af" stroke-width="0.8" fill-opacity="0.6" stroke-opacity="0.6"/><circle cx="1693.3" cy="159.6" r="2.5" fill="#eeeeec" stroke="#b2b3b1" stroke-width="0.8" fill-opacity="0.6" stroke-opacity="0.6"/><circle cx="1694.2" cy="159.7" r="2.5" fill="#f0f0ef" stroke="#b4b4b3" stroke-width="0.8" fill-opacity="0.6" stroke-opacity="0.6"/><circle cx="1695.1" cy="159.7" r="2.5" fill="#f2f2f1" stroke="#b6b6b5" stroke-width="0.8" fill-opacity="0.6" stroke-opacity="0.6"/><circle cx="1696" cy="159.7" r="2.5" fill="#f4f4f3" stroke="#b7b7b6" stroke-width="0.8" fill-opacity="0.6" stroke-opacity="0.6"/><circle cx="1696.9" cy="159.8" r="2.5" fill="#f6f6f6" stroke="#b9b9b8" stroke-width="0.8" fill-opacity="0.6" stroke-opacity="0.6"/><circle cx="1697.8" cy="159.8" r="2.4" fill="#f9f9f8" stroke="#bababa" stroke-width="0.8" fill-opacity="0.6" stroke-opacity="0.6"/><circle cx="1698.7" cy="159.9" r="2.4" fill="#fbfbfa" stroke="#bcbcbc" stroke-width="0.8" fill-opacity="0.6" stroke-opacity="0.6"/><circle cx="1699.6" cy="159.9" r="2.4" fill="#fdfdfd" stroke="#bebebd" stroke-width="0.8" fill-opacity="0.6" stroke-opacity="0.6"/><circle cx="1700.5" cy="160" r="2.4" fill="#ffffff" stroke="#bfbfbf" stroke-width="0.8" fill-opacity="0.6" stroke-opacity="0.6"/><circle cx="1701.4" cy="160" r="2.4" fill="#fefefd" stroke="#bfbfbe" stroke-width="0.8" fill-opacity="0.6" stroke-opacity="0.6"/><circle cx="1702.3" cy="160" r="2.4" fill="#fdfefb" stroke="#bebebd" stroke-width="0.8" fill-opacity="0.6" stroke-opacity="0.6"/><circle cx="1703.3" cy="160.1" r="2.4" fill="#fcfdfa" stroke="#bdbebb" stroke-width="0.8" fill-opacity="0.6" stroke-opacity="0.6"/><circle cx="1704.2" cy="160.1" r="2.4" fill="#fcfcf8" stroke="#bdbdba" stroke-width="0.8" fill-opacity="0.6" stroke-opacity="0.6"/><circle cx="1705.1" cy="160.2" r="2.4" fill="#fbfcf6" stroke="#bcbdb8" stroke-width="0.8" fill-opacity="0.6" stroke-opacity="0.6"/><circle cx="1706" cy="160.2" r="2.4" fill="#fafbf4" stroke="#bbbcb7" stroke-width="0.8" fill-opacity="0.6" stroke-opacity="0.6"/><circle cx="1706.9" cy="160.2" r="2.3" fill="#f9faf2" stroke="#bbbcb5" stroke-width="0.8" fill-opacity="0.6" stroke-opacity="0.6"/><circle cx="1707.8" cy="160.3" r="2.3" fill="#f8faf0" stroke="#babbb4" stroke-width="0.8" fill-opacity="0.6" stroke-opacity="0.6"/><circle cx="1708.7" cy="160.3" r="2.3" fill="#f7f9ee" stroke="#b9bbb2" stroke-width="0.8" fill-opacity="0.6" stroke-opacity="0.6"/><circle cx="1709.6" cy="160.4" r="2.3" fill="#f6f8ec" stroke="#b9bab1" stroke-width="0.8" fill-opacity="0.6" stroke-opacity="0.6"/><circle cx="1710.5" cy="160.4" r="2.3" fill="#f5f7ea" stroke="#b8baaf" stroke-width="0.8" fill-opacity="0.6" stroke-opacity="0.6"/><circle cx="1711.4" cy="160.4" r="2.3" fill="#f4f7e8" stroke="#b7b9ae" stroke-width="0.8" fill-opacity="0.6" stroke-opacity="0.6"/><circle cx="1712.3" cy="160.5" r="2.3" fill="#f3f6e5" stroke="#b6b8ac" stroke-width="0.8" fill-opacity="0.6" stroke-opacity="0.6"/><circle cx="1713.2" cy="160.5" r="2.3" fill="#f2f5e3" stroke="#b6b8aa" stroke-width="0.8" fill-opacity="0.6" stroke-opacity="0.6"/><circle cx="1714.1" cy="160.6" r="2.3" fill="#f1f4e1" stroke="#b5b7a9" stroke-width="0.8" fill-opacity="0.6" stroke-opacity="0.6"/><circle cx="1715" cy="160.6" r="2.2" fill="#f0f4df" stroke="#b4b7a7" stroke-width="0.8" fill-opacity="0.6" stroke-opacity="0.6"/><circle cx="1715.9" cy="160.7" r="2.2" fill="#eff3dc" stroke="#b3b6a5" stroke-width="0.8" fill-opacity="0.6" stroke-opacity="0.6"/><circle cx="1716.8" cy="160.7" r="2.2" fill="#eef2da" stroke="#b2b5a3" stroke-width="0.8" fill-opacity="0.6" stroke-opacity="0.6"/><circle cx="1717.7" cy="160.7" r="2.2" fill="#edf1d7" stroke="#b1b5a2" stroke-width="0.8" fill-opacity="0.6" stroke-opacity="0.6"/><circle cx="1718.6" cy="160.8" r="2.2" fill="#ebf0d5" stroke="#b1b4a0" stroke-width="0.8" fill-opacity="0.6" stroke-opacity="0.6"/><circle cx="1719.5" cy="160.8" r="2.2" fill="#eaefd2" stroke="#b0b39e" stroke-width="0.8" fill-opacity="0.6" stroke-opacity="0.6"/><circle cx="1720.4" cy="160.9" r="2.2" fill="#e9eed0" stroke="#afb39c" stroke-width="0.8" fill-opacity="0.6" stroke-opacity="0.6"/><circle cx="1721.3" cy="160.9" r="2.2" fill="#e8edcd" stroke="#aeb29a" stroke-width="0.8" fill-opacity="0.6" stroke-opacity="0.6"/><circle cx="1722.2" cy="161" r="2.1" fill="#e7eccb" stroke="#adb198" stroke-width="0.8" fill-opacity="0.6" stroke-opacity="0.6"/><circle cx="1723.1" cy="161" r="2.1" fill="#e6ebc8" stroke="#acb196" stroke-width="0.8" fill-opacity="0.6" stroke-opacity="0.6"/><circle cx="1724" cy="161.1" r="2.1" fill="#e4ebc6" stroke="#abb094" stroke-width="0.8" fill-opacity="0.6" stroke-opacity="0.6"/><circle cx="1724.9" cy="161.1" r="2.1" fill="#e3eac3" stroke="#aaaf92" stroke-width="0.8" fill-opacity="0.6" stroke-opacity="0.6"/><circle cx="1725.8" cy="161.1" r="2.1" fill="#e2e9c0" stroke="#a9af90" stroke-width="0.8" fill-opacity="0.6" stroke-opacity="0.6"/><circle cx="1726.7" cy="161.2" r="2.1" fill="#e1e8be" stroke="#a9ae8e" stroke-width="0.8" fill-opacity="0.6" stroke-opacity="0.6"/><circle cx="1727.6" cy="161.2" r="2.1" fill="#dfe7bb" stroke="#a8ad8c" stroke-width="0.8" fill-opacity="0.6" stroke-opacity="0.6"/><circle cx="1728.5" cy="161.3" r="2.1" fill="#dee6b8" stroke="#a7ac8a" stroke-width="0.8" fill-opacity="0.6" stroke-opacity="0.6"/><circle cx="1729.4" cy="161.3" r="2" fill="#dde5b6" stroke="#a6ac88" stroke-width="0.8" fill-opacity="0.6" stroke-opacity="0.6"/><circle cx="1730.3" cy="161.3" r="2" fill="#dce4b3" stroke="#a5ab86" stroke-width="0.8" fill-opacity="0.6" stroke-opacity="0.6"/><circle cx="1731.2" cy="161.4" r="2" fill="#dae3b0" stroke="#a4aa84" stroke-width="0.8" fill-opacity="0.6" stroke-opacity="0.6"/><circle cx="1732.1" cy="161.4" r="2" fill="#d9e2ad" stroke="#a3a982" stroke-width="0.8" fill-opacity="0.6" stroke-opacity="0.6"/><circle cx="1733" cy="161.5" r="2" fill="#d8e1ab" stroke="#a2a980" stroke-width="0.8" fill-opacity="0.6" stroke-opacity="0.6"/><circle cx="1733.9" cy="161.5" r="2" fill="#d6e0a8" stroke="#a1a87e" stroke-width="0.8" fill-opacity="0.6" stroke-opacity="0.6"/><circle cx="1734.8" cy="161.6" r="1.9" fill="#d5dfa5" stroke="#a0a77c" stroke-width="0.8" fill-opacity="0.6" stroke-opacity="0.6"/><circle cx="1735.7" cy="161.6" r="1.9" fill="#d4dea2" stroke="#9fa679" stroke-width="0.8" fill-opacity="0.6" stroke-opacity="0.6"/><circle cx="1736.6" cy="161.6" r="1.9" fill="#d2dd9f" stroke="#9ea677" stroke-width="0.8" fill-opacity="0.6" stroke-opacity="0.6"/><circle cx="1737.5" cy="161.7" r="1.9" fill="#d1dc9c" stroke="#9da575" stroke-width="0.8" fill-opacity="0.6" stroke-opacity="0.6"/><circle cx="1738.4" cy="161.7" r="1.9" fill="#cfdb99" stroke="#9ca472" stroke-width="0.8" fill-opacity="0.6" stroke-opacity="0.6"/><circle cx="1739.3" cy="161.8" r="1.9" fill="#ced995" stroke="#9aa370" stroke-width="0.8" fill-opacity="0.6" stroke-opacity="0.6"/><circle cx="1740.2" cy="161.8" r="1.8" fill="#ccd892" stroke="#99a26e" stroke-width="0.8" fill-opacity="0.6" stroke-opacity="0.6"/><circle cx="1741.1" cy="161.9" r="1.8" fill="#cbd78f" stroke="#98a16b" stroke-width="0.8" fill-opacity="0.6" stroke-opacity="0.6"/><circle cx="1742" cy="161.9" r="1.8" fill="#c9d68b" stroke="#97a068" stroke-width="0.8" fill-opacity="0.6" stroke-opacity="0.6"/><circle cx="1742.9" cy="161.9" r="1.8" fill="#c8d588" stroke="#969f66" stroke-width="0.8" fill-opacity="0.6" stroke-opacity="0.6"/><circle cx="1743.8" cy="162" r="1.7" fill="#c6d384" stroke="#959f63" stroke-width="0.8" fill-opacity="0.6" stroke-opacity="0.6"/><circle cx="1744.7" cy="162" r="1.7" fill="#c4d281" stroke="#939e60" stroke-width="0.8" fill-opacity="0.6" stroke-opacity="0.6"/><circle cx="1745.6" cy="162.1" r="1.7" fill="#c3d17d" stroke="#929d5e" stroke-width="0.8" fill-opacity="0.6" stroke-opacity="0.6"/><circle cx="1746.5" cy="162.1" r="1.7" fill="#c1cf79" stroke="#919b5b" stroke-width="0.8" fill-opacity="0.6" stroke-opacity="0.6"/><circle cx="1747.4" cy="162.2" r="1.6" fill="#bfce75" stroke="#8f9a58" stroke-width="0.8" fill-opacity="0.6" stroke-opacity="0.6"/><circle cx="1748.3" cy="162.2" r="1.6" fill="#bdcc71" stroke="#8e9955" stroke-width="0.8" fill-opacity="0.6" stroke-opacity="0.6"/><circle cx="1749.2" cy="162.3" r="1.5" fill="#bbcb6d" stroke="#8c9851" stroke-width="0.8" fill-opacity="0.6" stroke-opacity="0.6"/><circle cx="1750.1" cy="162.3" r="1.5" fill="#b9c968" stroke="#8b974e" stroke-width="0.8" fill-opacity="0.6" stroke-opacity="0.6"/><circle cx="1751" cy="162.4" r="1.4" fill="#b7c864" stroke="#89964b" stroke-width="0.8" fill-opacity="0.6" stroke-opacity="0.6"/><circle cx="1751.9" cy="162.4" r="1.4" fill="#b5c65f" stroke="#889547" stroke-width="0.8" fill-opacity="0.6" stroke-opacity="0.6"/><circle cx="1752.8" cy="162.5" r="1.2" fill="#b3c45a" stroke="#869344" stroke-width="0.8" fill-opacity="0.6" stroke-opacity="0.6"/><circle cx="1753.7" cy="162.5" r="1.3" fill="#b4c55d" stroke="#879446" stroke-width="0.8" fill-opacity="0.6" stroke-opacity="0.6"/><circle cx="1754.6" cy="162.6" r="1.4" fill="#b6c762" stroke="#899549" stroke-width="0.8" fill-opacity="0.6" stroke-opacity="0.6"/><circle cx="1755.5" cy="162.7" r="1.5" fill="#b8c967" stroke="#8a974d" stroke-width="0.8" fill-opacity="0.6" stroke-opacity="0.6"/><circle cx="1756.4" cy="162.7" r="1.5" fill="#bbcb6c" stroke="#8c9851" stroke-width="0.8" fill-opacity="0.6" stroke-opacity="0.6"/><circle cx="1757.3" cy="162.8" r="1.6" fill="#bdcd71" stroke="#8e9955" stroke-width="0.8" fill-opacity="0.6" stroke-opacity="0.6"/><circle cx="1758.2" cy="162.8" r="1.6" fill="#c0ce76" stroke="#909b59" stroke-width="0.8" fill-opacity="0.6" stroke-opacity="0.6"/><circle cx="1759.1" cy="162.9" r="1.7" fill="#c2d07b" stroke="#919c5d" stroke-width="0.8" fill-opacity="0.6" stroke-opacity="0.6"/><circle cx="1760" cy="163" r="1.7" fill="#c4d281" stroke="#939e60" stroke-width="0.8" fill-opacity="0.6" stroke-opacity="0.6"/><circle cx="1760.9" cy="163" r="1.7" fill="#c7d486" stroke="#959f64" stroke-width="0.8" fill-opacity="0.6" stroke-opacity="0.6"/><circle cx="1761.8" cy="163.1" r="1.8" fill="#c9d68b" stroke="#97a068" stroke-width="0.8" fill-opacity="0.6" stroke-opacity="0.6"/><circle cx="1762.7" cy="163.2" r="1.8" fill="#ccd890" stroke="#99a26c" stroke-width="0.8" fill-opacity="0.6" stroke-opacity="0.6"/><circle cx="1763.6" cy="163.2" r="1.9" fill="#ced995" stroke="#9aa370" stroke-width="0.8" fill-opacity="0.6" stroke-opacity="0.6"/><circle cx="1764.5" cy="163.3" r="1.9" fill="#d0db9a" stroke="#9ca474" stroke-width="0.8" fill-opacity="0.6" stroke-opacity="0.6"/><circle cx="1765.4" cy="163.4" r="1.9" fill="#d3dd9f" stroke="#9ea678" stroke-width="0.8" fill-opacity="0.6" stroke-opacity="0.6"/><circle cx="1766.3" cy="163.4" r="1.9" fill="#d5dfa4" stroke="#a0a77b" stroke-width="0.8" fill-opacity="0.6" stroke-opacity="0.6"/><circle cx="1767.2" cy="163.5" r="2" fill="#d7e1a9" stroke="#a1a87f" stroke-width="0.8" fill-opacity="0.6" stroke-opacity="0.6"/><circle cx="1768.1" cy="163.6" r="2" fill="#dae2ae" stroke="#a3aa83" stroke-width="0.8" fill-opacity="0.6" stroke-opacity="0.6"/><circle cx="1769" cy="163.7" r="2" fill="#dce4b3" stroke="#a5ab86" stroke-width="0.8" fill-opacity="0.6" stroke-opacity="0.6"/><circle cx="1769.9" cy="163.7" r="2" fill="#dee6b8" stroke="#a6ac8a" stroke-width="0.8" fill-opacity="0.6" stroke-opacity="0.6"/><circle cx="1770.8" cy="163.8" r="2.1" fill="#e0e7bc" stroke="#a8ae8d" stroke-width="0.8" fill-opacity="0.6" stroke-opacity="0.6"/><circle cx="1771.7" cy="163.9" r="2.1" fill="#e2e9c1" stroke="#aaaf91" stroke-width="0.8" fill-opacity="0.6" stroke-opacity="0.6"/><circle cx="1772.6" cy="164" r="2.1" fill="#e4ebc6" stroke="#abb094" stroke-width="0.8" fill-opacity="0.6" stroke-opacity="0.6"/><circle cx="1773.5" cy="164" r="2.1" fill="#e6ecca" stroke="#adb197" stroke-width="0.8" fill-opacity="0.6" stroke-opacity="0.6"/><circle cx="1774.4" cy="164.1" r="2.2" fill="#e8eece" stroke="#aeb29b" stroke-width="0.8" fill-opacity="0.6" stroke-opacity="0.6"/><circle cx="1775.3" cy="164.2" r="2.2" fill="#eaefd2" stroke="#b0b39e" stroke-width="0.8" fill-opacity="0.6" stroke-opacity="0.6"/><circle cx="1776.2" cy="164.2" r="2.2" fill="#ecf1d7" stroke="#b1b4a1" stroke-width="0.8" fill-opacity="0.6" stroke-opacity="0.6"/><circle cx="1777.1" cy="164.3" r="2.2" fill="#eef2db" stroke="#b3b6a4" stroke-width="0.8" fill-opacity="0.6" stroke-opacity="0.6"/><circle cx="1778" cy="164.4" r="2.2" fill="#f0f3de" stroke="#b4b7a7" stroke-width="0.8" fill-opacity="0.6" stroke-opacity="0.6"/><circle cx="1778.9" cy="164.5" r="2.3" fill="#f2f5e2" stroke="#b5b8aa" stroke-width="0.8" fill-opacity="0.6" stroke-opacity="0.6"/><circle cx="1779.8" cy="164.5" r="2.3" fill="#f3f6e6" stroke="#b7b9ac" stroke-width="0.8" fill-opacity="0.6" stroke-opacity="0.6"/><circle cx="1780.7" cy="164.6" r="2.3" fill="#f5f7ea" stroke="#b8baaf" stroke-width="0.8" fill-opacity="0.6" stroke-opacity="0.6"/><circle cx="1781.6" cy="164.7" r="2.3" fill="#f7f9ed" stroke="#b9bab2" stroke-width="0.8" fill-opacity="0.6" stroke-opacity="0.6"/><circle cx="1782.5" cy="164.7" r="2.3" fill="#f8faf0" stroke="#babbb4" stroke-width="0.8" fill-opacity="0.6" stroke-opacity="0.6"/><circle cx="1783.4" cy="164.8" r="2.4" fill="#fafbf4" stroke="#bbbcb7" stroke-width="0.8" fill-opacity="0.6" stroke-opacity="0.6"/><circle cx="1784.3" cy="164.9" r="2.4" fill="#fbfcf7" stroke="#bcbdb9" stroke-width="0.8" fill-opacity="0.6" stroke-opacity="0.6"/><circle cx="1785.2" cy="164.9" r="2.4" fill="#fdfdfa" stroke="#bdbebb" stroke-width="0.8" fill-opacity="0.6" stroke-opacity="0.6"/><circle cx="1786.1" cy="165" r="2.4" fill="#fefefd" stroke="#bfbfbe" stroke-width="0.8" fill-opacity="0.6" stroke-opacity="0.6"/><circle cx="1787" cy="165.1" r="2.4" fill="#fefefe" stroke="#bfbfbe" stroke-width="0.8" fill-opacity="0.6" stroke-opacity="0.6"/><circle cx="1787.9" cy="165.1" r="2.4" fill="#fbfbfa" stroke="#bcbcbc" stroke-width="0.8" fill-opacity="0.6" stroke-opacity="0.6"/><circle cx="1788.8" cy="165.2" r="2.4" fill="#f8f8f7" stroke="#babab9" stroke-width="0.8" fill-opacity="0.6" stroke-opacity="0.6"/><circle cx="1789.7" cy="165.2" r="2.5" fill="#f5f5f4" stroke="#b7b8b7" stroke-width="0.8" fill-opacity="0.6" stroke-opacity="0.6"/><circle cx="1790.6" cy="165.3" r="2.5" fill="#f2f2f0" stroke="#b5b5b4" stroke-width="0.8" fill-opacity="0.6" stroke-opacity="0.6"/><circle cx="1791.5" cy="165.4" r="2.5" fill="#efefed" stroke="#b3b3b2" stroke-width="0.8" fill-opacity="0.6" stroke-opacity="0.6"/><circle cx="1792.4" cy="165.4" r="2.5" fill="#ececea" stroke="#b1b1b0" stroke-width="0.8" fill-opacity="0.6" stroke-opacity="0.6"/><circle cx="1793.3" cy="165.5" r="2.5" fill="#e9e9e7" stroke="#afafad" stroke-width="0.8" fill-opacity="0.6" stroke-opacity="0.6"/><circle cx="1794.2" cy="165.6" r="2.5" fill="#e6e6e4" stroke="#adadab" stroke-width="0.8" fill-opacity="0.6" stroke-opacity="0.6"/><circle cx="1795.1" cy="165.6" r="2.5" fill="#e3e4e1" stroke="#ababa9" stroke-width="0.8" fill-opacity="0.6" stroke-opacity="0.6"/><circle cx="1796" cy="165.7" r="2.6" fill="#e1e1de" stroke="#a9a9a7" stroke-width="0.8" fill-opacity="0.6" stroke-opacity="0.6"/><circle cx="1796.9" cy="165.8" r="2.6" fill="#dedfdb" stroke="#a7a7a4" stroke-width="0.8" fill-opacity="0.6" stroke-opacity="0.6"/><circle cx="1797.8" cy="165.8" r="2.6" fill="#dcdcd8" stroke="#a5a5a2" stroke-width="0.8" fill-opacity="0.6" stroke-opacity="0.6"/><circle cx="1798.7" cy="165.9" r="2.6" fill="#d9d9d6" stroke="#a3a3a0" stroke-width="0.8" fill-opacity="0.6" stroke-opacity="0.6"/><circle cx="1799.6" cy="165.9" r="2.6" fill="#d7d7d3" stroke="#a1a19e" stroke-width="0.8" fill-opacity="0.6" stroke-opacity="0.6"/><circle cx="1800.5" cy="166" r="2.6" fill="#d4d5d0" stroke="#9f9f9c" stroke-width="0.8" fill-opacity="0.6" stroke-opacity="0.6"/><circle cx="1801.4" cy="166.1" r="2.6" fill="#d2d2ce" stroke="#9d9e9a" stroke-width="0.8" fill-opacity="0.6" stroke-opacity="0.6"/><circle cx="1802.3" cy="166.1" r="2.6" fill="#cfd0cb" stroke="#9b9c98" stroke-width="0.8" fill-opacity="0.6" stroke-opacity="0.6"/><circle cx="1803.2" cy="166.2" r="2.7" fill="#cdcec8" stroke="#9a9a96" stroke-width="0.8" fill-opacity="0.6" stroke-opacity="0.6"/><circle cx="1804.1" cy="166.3" r="2.7" fill="#cbcbc6" stroke="#989894" stroke-width="0.8" fill-opacity="0.6" stroke-opacity="0.6"/><circle cx="1805" cy="166.3" r="2.7" fill="#c8c9c3" stroke="#969793" stroke-width="0.8" fill-opacity="0.6" stroke-opacity="0.6"/><circle cx="1805.9" cy="166.4" r="2.7" fill="#c6c7c1" stroke="#959591" stroke-width="0.8" fill-opacity="0.6" stroke-opacity="0.6"/><circle cx="1806.8" cy="166.4" r="2.7" fill="#c4c5be" stroke="#93938f" stroke-width="0.8" fill-opacity="0.6" stroke-opacity="0.6"/><circle cx="1807.7" cy="166.5" r="2.7" fill="#c2c2bc" stroke="#91928d" stroke-width="0.8" fill-opacity="0.6" stroke-opacity="0.6"/><circle cx="1808.6" cy="166.6" r="2.7" fill="#bfc0ba" stroke="#90908b" stroke-width="0.8" fill-opacity="0.6" stroke-opacity="0.6"/><circle cx="1809.5" cy="166.6" r="2.7" fill="#bdbeb7" stroke="#8e8f8a" stroke-width="0.8" fill-opacity="0.6" stroke-opacity="0.6"/><circle cx="1810.4" cy="166.7" r="2.7" fill="#bbbcb5" stroke="#8c8d88" stroke-width="0.8" fill-opacity="0.6" stroke-opacity="0.6"/><circle cx="1811.3" cy="166.8" r="2.8" fill="#b9bab3" stroke="#8b8b86" stroke-width="0.8" fill-opacity="0.6" stroke-opacity="0.6"/><circle cx="1812.2" cy="166.8" r="2.8" fill="#b7b8b0" stroke="#898a84" stroke-width="0.8" fill-opacity="0.6" stroke-opacity="0.6"/><circle cx="1813.1" cy="166.9" r="2.8" fill="#b5b6ae" stroke="#888883" stroke-width="0.8" fill-opacity="0.6" stroke-opacity="0.6"/><circle cx="1814" cy="167" r="2.8" fill="#b3b4ac" stroke="#868781" stroke-width="0.8" fill-opacity="0.6" stroke-opacity="0.6"/><circle cx="1814.9" cy="167" r="2.8" fill="#b1b2aa" stroke="#858580" stroke-width="0.8" fill-opacity="0.6" stroke-opacity="0.6"/><circle cx="1815.9" cy="167.1" r="2.8" fill="#afb0a8" stroke="#83847e" stroke-width="0.8" fill-opacity="0.6" stroke-opacity="0.6"/><circle cx="1816.8" cy="167.2" r="2.8" fill="#adaea6" stroke="#82837d" stroke-width="0.8" fill-opacity="0.6" stroke-opacity="0.6"/><circle cx="1817.7" cy="167.2" r="2.8" fill="#acada4" stroke="#81817b" stroke-width="0.8" fill-opacity="0.6" stroke-opacity="0.6"/><circle cx="1818.6" cy="167.3" r="2.8" fill="#aaaba2" stroke="#80807a" stroke-width="0.8" fill-opacity="0.6" stroke-opacity="0.6"/><circle cx="1819.5" cy="167.3" r="2.9" fill="#a8a9a0" stroke="#7e7f78" stroke-width="0.8" fill-opacity="0.6" stroke-opacity="0.6"/><circle cx="1820.4" cy="167.4" r="2.9" fill="#a7a89f" stroke="#7d7e77" stroke-width="0.8" fill-opacity="0.6" stroke-opacity="0.6"/><circle cx="1821.3" cy="167.5" r="2.9" fill="#a5a69d" stroke="#7c7c76" stroke-width="0.8" fill-opacity="0.6" stroke-opacity="0.6"/><circle cx="1822.2" cy="167.5" r="2.9" fill="#a3a49b" stroke="#7b7b74" stroke-width="0.8" fill-opacity="0.6" stroke-opacity="0.6"/><circle cx="1823.1" cy="167.6" r="2.9" fill="#a2a399" stroke="#797a73" stroke-width="0.8" fill-opacity="0.6" stroke-opacity="0.6"/><circle cx="1824" cy="167.6" r="2.9" fill="#a0a198" stroke="#787972" stroke-width="0.8" fill-opacity="0.6" stroke-opacity="0.6"/><circle cx="1824.9" cy="167.7" r="2.9" fill="#9fa096" stroke="#777870" stroke-width="0.8" fill-opacity="0.6" stroke-opacity="0.6"/><circle cx="1825.8" cy="167.8" r="2.9" fill="#9d9e94" stroke="#76776f" stroke-width="0.8" fill-opacity="0.6" stroke-opacity="0.6"/><circle cx="1826.7" cy="167.8" r="2.9" fill="#9c9d92" stroke="#75756e" stroke-width="0.8" fill-opacity="0.6" stroke-opacity="0.6"/><circle cx="1827.6" cy="167.9" r="2.9" fill="#9a9b91" stroke="#74746d" stroke-width="0.8" fill-opacity="0.6" stroke-opacity="0.6"/><circle cx="1828.5" cy="168" r="3" fill="#989a8f" stroke="#72736b" stroke-width="0.8" fill-opacity="0.6" stroke-opacity="0.6"/><circle cx="1829.4" cy="168" r="3" fill="#97988d" stroke="#71726a" stroke-width="0.8" fill-opacity="0.6" stroke-opacity="0.6"/><circle cx="1830.3" cy="168.1" r="3" fill="#95978c" stroke="#707169" stroke-width="0.8" fill-opacity="0.6" stroke-opacity="0.6"/><circle cx="1831.2" cy="168.2" r="3" fill="#94958a" stroke="#6f7068" stroke-width="0.8" fill-opacity="0.6" stroke-opacity="0.6"/><circle cx="1832.1" cy="168.3" r="3" fill="#929388" stroke="#6e6f66" stroke-width="0.8" fill-opacity="0.6" stroke-opacity="0.6"/><circle cx="1833" cy="168.3" r="3" fill="#919287" stroke="#6d6d65" stroke-width="0.8" fill-opacity="0.6" stroke-opacity="0.6"/><circle cx="1833.9" cy="168.4" r="3" fill="#8f9085" stroke="#6b6c64" stroke-width="0.8" fill-opacity="0.6" stroke-opacity="0.6"/><circle cx="1834.8" cy="168.5" r="3" fill="#8e8f83" stroke="#6a6b62" stroke-width="0.8" fill-opacity="0.6" stroke-opacity="0.6"/><circle cx="1835.7" cy="168.6" r="3" fill="#8c8d82" stroke="#696a61" stroke-width="0.8" fill-opacity="0.6" stroke-opacity="0.6"/><circle cx="1836.6" cy="168.7" r="3.1" fill="#8a8c80" stroke="#686960" stroke-width="0.8" fill-opacity="0.6" stroke-opacity="0.6"/><circle cx="1837.4" cy="168.7" r="3.1" fill="#898a7e" stroke="#67685f" stroke-width="0.8" fill-opacity="0.6" stroke-opacity="0.6"/><circle cx="1838.3" cy="168.8" r="3.1" fill="#87887c" stroke="#65665d" stroke-width="0.8" fill-opacity="0.6" stroke-opacity="0.6"/><circle cx="1839.2" cy="168.9" r="3.1" fill="#86877a" stroke="#64655c" stroke-width="0.8" fill-opacity="0.6" stroke-opacity="0.6"/><circle cx="1840.1" cy="169" r="3.1" fill="#848579" stroke="#63645b" stroke-width="0.8" fill-opacity="0.6" stroke-opacity="0.6"/><circle cx="1841" cy="169.1" r="3.1" fill="#828477" stroke="#626359" stroke-width="0.8" fill-opacity="0.6" stroke-opacity="0.6"/><circle cx="1841.9" cy="169.2" r="3.1" fill="#818275" stroke="#606158" stroke-width="0.8" fill-opacity="0.6" stroke-opacity="0.6"/><circle cx="1842.8" cy="169.3" r="3.1" fill="#7f8073" stroke="#5f6056" stroke-width="0.8" fill-opacity="0.6" stroke-opacity="0.6"/><circle cx="1843.7" cy="169.4" r="3.2" fill="#7d7e71" stroke="#5e5f55" stroke-width="0.8" fill-opacity="0.6" stroke-opacity="0.6"/><circle cx="1844.6" cy="169.6" r="3.2" fill="#7b7c6f" stroke="#5c5d53" stroke-width="0.8" fill-opacity="0.6" stroke-opacity="0.6"/><circle cx="1845.5" cy="169.7" r="3.2" fill="#797b6d" stroke="#5b5c52" stroke-width="0.8" fill-opacity="0.6" stroke-opacity="0.6"/><circle cx="1846.4" cy="169.8" r="3.2" fill="#77796b" stroke="#5a5b50" stroke-width="0.8" fill-opacity="0.6" stroke-opacity="0.6"/><circle cx="1847.3" cy="170" r="3.2" fill="#767769" stroke="#58594f" stroke-width="0.8" fill-opacity="0.6" stroke-opacity="0.6"/><circle cx="1848.2" cy="170.1" r="3.3" fill="#747567" stroke="#57584d" stroke-width="0.8" fill-opacity="0.6" stroke-opacity="0.6"/><circle cx="1849.1" cy="170.2" r="3.3" fill="#727365" stroke="#55574c" stroke-width="0.8" fill-opacity="0.6" stroke-opacity="0.6"/><circle cx="1850" cy="170.4" r="3.3" fill="#707263" stroke="#54554a" stroke-width="0.8" fill-opacity="0.6" stroke-opacity="0.6"/><circle cx="1850.9" cy="170.5" r="3.3" fill="#6e7061" stroke="#535449" stroke-width="0.8" fill-opacity="0.6" stroke-opacity="0.6"/><circle cx="1851.8" cy="170.7" r="3.3" fill="#6d6e5f" stroke="#525348" stroke-width="0.8" fill-opacity="0.6" stroke-opacity="0.6"/><circle cx="1852.6" cy="170.8" r="3.3" fill="#6b6d5e" stroke="#505246" stroke-width="0.8" fill-opacity="0.6" stroke-opacity="0.6"/><circle cx="1853.5" cy="171" r="3.4" fill="#6a6b5c" stroke="#4f5045" stroke-width="0.8" fill-opacity="0.6" stroke-opacity="0.6"/><circle cx="1854.4" cy="171.1" r="3.4" fill="#686a5a" stroke="#4e4f44" stroke-width="0.8" fill-opacity="0.6" stroke-opacity="0.6"/><circle cx="1855.3" cy="171.3" r="3.4" fill="#676859" stroke="#4d4e43" stroke-width="0.8" fill-opacity="0.6" stroke-opacity="0.6"/><circle cx="1856.2" cy="171.5" r="3.4" fill="#656757" stroke="#4c4d41" stroke-width="0.8" fill-opacity="0.6" stroke-opacity="0.6"/><circle cx="1857.1" cy="171.6" r="3.4" fill="#646656" stroke="#4b4c40" stroke-width="0.8" fill-opacity="0.6" stroke-opacity="0.6"/><circle cx="1858" cy="171.8" r="3.5" fill="#636454" stroke="#4a4b3f" stroke-width="0.8" fill-opacity="0.6" stroke-opacity="0.6"/><circle cx="1858.9" cy="171.9" r="3.5" fill="#616353" stroke="#494a3e" stroke-width="0.8" fill-opacity="0.6" stroke-opacity="0.6"/><circle cx="1859.8" cy="172.1" r="3.5" fill="#606252" stroke="#48493d" stroke-width="0.8" fill-opacity="0.6" stroke-opacity="0.6"/><circle cx="1860.6" cy="172.2" r="3.5" fill="#5f6150" stroke="#47493c" stroke-width="0.8" fill-opacity="0.6" stroke-opacity="0.6"/><circle cx="1861.5" cy="172.4" r="3.5" fill="#5e604f" stroke="#47483b" stroke-width="0.8" fill-opacity="0.6" stroke-opacity="0.6"/><circle cx="1862.4" cy="172.5" r="3.5" fill="#5d5f4e" stroke="#46473b" stroke-width="0.8" fill-opacity="0.6" stroke-opacity="0.6"/><circle cx="1863.3" cy="172.7" r="3.6" fill="#5c5e4d" stroke="#45463a" stroke-width="0.8" fill-opacity="0.6" stroke-opacity="0.6"/><circle cx="1864.2" cy="172.8" r="3.6" fill="#5b5d4c" stroke="#444639" stroke-width="0.8" fill-opacity="0.6" stroke-opacity="0.6"/><circle cx="1865.1" cy="173" r="3.6" fill="#5a5c4b" stroke="#444538" stroke-width="0.8" fill-opacity="0.6" stroke-opacity="0.6"/><circle cx="1866" cy="173.1" r="3.6" fill="#5a5b4a" stroke="#434438" stroke-width="0.8" fill-opacity="0.6" stroke-opacity="0.6"/><circle cx="1866.9" cy="173.3" r="3.6" fill="#595b4a" stroke="#434437" stroke-width="0.8" fill-opacity="0.6" stroke-opacity="0.6"/><circle cx="1867.8" cy="173.4" r="3.6" fill="#585a49" stroke="#424337" stroke-width="0.8" fill-opacity="0.6" stroke-opacity="0.6"/><circle cx="1868.7" cy="173.5" r="3.6" fill="#575948" stroke="#424336" stroke-width="0.8" fill-opacity="0.6" stroke-opacity="0.6"/><circle cx="1869.6" cy="173.6" r="3.7" fill="#575947" stroke="#414236" stroke-width="0.8" fill-opacity="0.6" stroke-opacity="0.6"/><circle cx="1870.5" cy="173.8" r="3.7" fill="#565847" stroke="#414235" stroke-width="0.8" fill-opacity="0.6" stroke-opacity="0.6"/><circle cx="1871.4" cy="173.9" r="3.7" fill="#565846" stroke="#404235" stroke-width="0.8" fill-opacity="0.6" stroke-opacity="0.6"/><circle cx="1872.2" cy="174" r="3.7" fill="#555746" stroke="#404134" stroke-width="0.8" fill-opacity="0.6" stroke-opacity="0.6"/><circle cx="1873.1" cy="174.1" r="3.7" fill="#555645" stroke="#3f4134" stroke-width="0.8" fill-opacity="0.6" stroke-opacity="0.6"/><circle cx="1874" cy="174.2" r="3.7" fill="#545645" stroke="#3f4133" stroke-width="0.8" fill-opacity="0.6" stroke-opacity="0.6"/><circle cx="1874.9" cy="174.3" r="3.7" fill="#545644" stroke="#3f4033" stroke-width="0.8" fill-opacity="0.6" stroke-opacity="0.6"/><circle cx="1875.8" cy="174.4" r="3.7" fill="#535544" stroke="#3e4033" stroke-width="0.8" fill-opacity="0.6" stroke-opacity="0.6"/><circle cx="1876.7" cy="174.6" r="3.7" fill="#535543" stroke="#3e4032" stroke-width="0.8" fill-opacity="0.6" stroke-opacity="0.6"/><circle cx="1877.6" cy="174.7" r="3.8" fill="#525443" stroke="#3e3f32" stroke-width="0.8" fill-opacity="0.6" stroke-opacity="0.6"/><circle cx="1878.5" cy="174.8" r="3.8" fill="#525442" stroke="#3d3f32" stroke-width="0.8" fill-opacity="0.6" stroke-opacity="0.6"/><circle cx="1879.4" cy="174.9" r="3.8" fill="#525342" stroke="#3d3f31" stroke-width="0.8" fill-opacity="0.6" stroke-opacity="0.6"/><circle cx="1880.3" cy="175" r="3.8" fill="#515341" stroke="#3d3e31" stroke-width="0.8" fill-opacity="0.6" stroke-opacity="0.6"/><circle cx="1881.2" cy="175.2" r="3.8" fill="#515341" stroke="#3d3e31" stroke-width="0.8" fill-opacity="0.6" stroke-opacity="0.6"/><circle cx="1882.1" cy="175.3" r="3.8" fill="#505240" stroke="#3c3e30" stroke-width="0.8" fill-opacity="0.6" stroke-opacity="0.6"/><circle cx="1883" cy="175.4" r="3.8" fill="#505240" stroke="#3c3d30" stroke-width="0.8" fill-opacity="0.6" stroke-opacity="0.6"/><circle cx="1883.9" cy="175.6" r="3.8" fill="#50513f" stroke="#3c3d30" stroke-width="0.8" fill-opacity="0.6" stroke-opacity="0.6"/><circle cx="1884.8" cy="175.7" r="3.9" fill="#4f513f" stroke="#3b3d2f" stroke-width="0.8" fill-opacity="0.6" stroke-opacity="0.6"/><circle cx="1885.7" cy="175.9" r="3.9" fill="#4f513f" stroke="#3b3c2f" stroke-width="0.8" fill-opacity="0.6" stroke-opacity="0.6"/><circle cx="1886.5" cy="176" r="3.9" fill="#4e503e" stroke="#3b3c2f" stroke-width="0.8" fill-opacity="0.6" stroke-opacity="0.6"/><circle cx="1887.4" cy="176.2" r="3.9" fill="#4e503e" stroke="#3a3c2e" stroke-width="0.8" fill-opacity="0.6" stroke-opacity="0.6"/><circle cx="1888.3" cy="176.3" r="3.9" fill="#4d4f3d" stroke="#3a3c2e" stroke-width="0.8" fill-opacity="0.6" stroke-opacity="0.6"/><circle cx="1889.2" cy="176.5" r="3.9" fill="#4d4f3d" stroke="#3a3b2e" stroke-width="0.8" fill-opacity="0.6" stroke-opacity="0.6"/><circle cx="1890.1" cy="176.7" r="3.9" fill="#4d4f3c" stroke="#3a3b2d" stroke-width="0.8" fill-opacity="0.6" stroke-opacity="0.6"/><circle cx="1891" cy="176.9" r="4" fill="#4c4e3c" stroke="#393b2d" stroke-width="0.8" fill-opacity="0.6" stroke-opacity="0.6"/><circle cx="1891.9" cy="177.1" r="4" fill="#4c4e3c" stroke="#393a2d" stroke-width="0.8" fill-opacity="0.6" stroke-opacity="0.6"/><circle cx="1892.7" cy="177.3" r="4" fill="#4c4d3b" stroke="#393a2c" stroke-width="0.8" fill-opacity="0.6" stroke-opacity="0.6"/><circle cx="1893.6" cy="177.6" r="4" fill="#4b4d3b" stroke="#383a2c" stroke-width="0.8" fill-opacity="0.6" stroke-opacity="0.6"/><circle cx="1894.5" cy="177.8" r="4" fill="#4b4d3a" stroke="#38392c" stroke-width="0.8" fill-opacity="0.6" stroke-opacity="0.6"/><circle cx="1895.3" cy="178.1" r="4.1" fill="#4a4c3a" stroke="#38392b" stroke-width="0.8" fill-opacity="0.6" stroke-opacity="0.6"/><circle cx="1896.2" cy="178.4" r="4.1" fill="#4a4c39" stroke="#37392b" stroke-width="0.8" fill-opacity="0.6" stroke-opacity="0.6"/><circle cx="1897" cy="178.7" r="4.1" fill="#4a4b39" stroke="#37392b" stroke-width="0.8" fill-opacity="0.6" stroke-opacity="0.6"/><circle cx="1897.9" cy="179" r="4.1" fill="#494b39" stroke="#37382a" stroke-width="0.8" fill-opacity="0.6" stroke-opacity="0.6"/><circle cx="1898.7" cy="179.3" r="4.2" fill="#494b38" stroke="#37382a" stroke-width="0.8" fill-opacity="0.6" stroke-opacity="0.6"/><circle cx="1899.6" cy="179.6" r="4.2" fill="#484a38" stroke="#36382a" stroke-width="0.8" fill-opacity="0.6" stroke-opacity="0.6"/><circle cx="1900.4" cy="180" r="4.2" fill="#484a37" stroke="#36382a" stroke-width="0.8" fill-opacity="0.6" stroke-opacity="0.6"/><circle cx="1901.2" cy="180.3" r="4.3" fill="#484a37" stroke="#363729" stroke-width="0.8" fill-opacity="0.6" stroke-opacity="0.6"/><circle cx="1902" cy="180.7" r="4.3" fill="#484a37" stroke="#363729" stroke-width="0.8" fill-opacity="0.6" stroke-opacity="0.6"/><circle cx="1902.9" cy="181.1" r="4.3" fill="#474937" stroke="#363729" stroke-width="0.8" fill-opacity="0.6" stroke-opacity="0.6"/><circle cx="1903.7" cy="181.5" r="4.3" fill="#474936" stroke="#353729" stroke-width="0.8" fill-opacity="0.6" stroke-opacity="0.6"/><circle cx="1904.5" cy="181.9" r="4.4" fill="#474936" stroke="#353729" stroke-width="0.8" fill-opacity="0.6" stroke-opacity="0.6"/><circle cx="1905.3" cy="182.3" r="4.4" fill="#474936" stroke="#353628" stroke-width="0.8" fill-opacity="0.6" stroke-opacity="0.6"/><circle cx="1906.1" cy="182.7" r="4.4" fill="#474836" stroke="#353628" stroke-width="0.8" fill-opacity="0.6" stroke-opacity="0.6"/><circle cx="1906.9" cy="183.1" r="4.5" fill="#464835" stroke="#353628" stroke-width="0.8" fill-opacity="0.6" stroke-opacity="0.6"/><circle cx="1907.7" cy="183.6" r="4.5" fill="#464835" stroke="#353628" stroke-width="0.8" fill-opacity="0.6" stroke-opacity="0.6"/><circle cx="1908.4" cy="184.1" r="4.5" fill="#464835" stroke="#353628" stroke-width="0.8" fill-opacity="0.6" stroke-opacity="0.6"/><circle cx="1909.2" cy="184.5" r="4.5" fill="#464835" stroke="#343628" stroke-width="0.8" fill-opacity="0.6" stroke-opacity="0.6"/><circle cx="1909.9" cy="185.1" r="4.5" fill="#464835" stroke="#343628" stroke-width="0.8" fill-opacity="0.6" stroke-opacity="0.6"/><circle cx="1910.7" cy="185.6" r="4.5" fill="#464835" stroke="#343628" stroke-width="0.8" fill-opacity="0.6" stroke-opacity="0.6"/><circle cx="1911.4" cy="186.1" r="4.5" fill="#464835" stroke="#343627" stroke-width="0.8" fill-opacity="0.6" stroke-opacity="0.6"/><circle cx="1912.1" cy="186.7" r="4.5" fill="#464735" stroke="#343627" stroke-width="0.8" fill-opacity="0.6" stroke-opacity="0.6"/><circle cx="1912.8" cy="187.3" r="4.6" fill="#454734" stroke="#343627" stroke-width="0.8" fill-opacity="0.6" stroke-opacity="0.6"/><circle cx="1913.5" cy="187.9" r="4.6" fill="#454734" stroke="#343627" stroke-width="0.8" fill-opacity="0.6" stroke-opacity="0.6"/><circle cx="1914.1" cy="188.5" r="4.6" fill="#454734" stroke="#343527" stroke-width="0.8" fill-opacity="0.6" stroke-opacity="0.6"/><circle cx="1914.8" cy="189.1" r="4.6" fill="#454734" stroke="#343527" stroke-width="0.8" fill-opacity="0.6" stroke-opacity="0.6"/><circle cx="1915.5" cy="189.7" r="4.6" fill="#454734" stroke="#343527" stroke-width="0.8" fill-opacity="0.6" stroke-opacity="0.6"/><circle cx="1916.1" cy="190.3" r="4.6" fill="#454734" stroke="#343527" stroke-width="0.8" fill-opacity="0.6" stroke-opacity="0.6"/><circle cx="1916.8" cy="190.9" r="4.6" fill="#454734" stroke="#343527" stroke-width="0.8" fill-opacity="0.6" stroke-opacity="0.6"/><circle cx="1917.4" cy="191.6" r="4.6" fill="#454734" stroke="#343527" stroke-width="0.8" fill-opacity="0.6" stroke-opacity="0.6"/><circle cx="1918.1" cy="192.2" r="4.7" fill="#454734" stroke="#343527" stroke-width="0.8" fill-opacity="0.6" stroke-opacity="0.6"/><circle cx="1918.7" cy="192.8" r="4.7" fill="#454734" stroke="#343527" stroke-width="0.8" fill-opacity="0.6" stroke-opacity="0.6"/><circle cx="1919.4" cy="193.4" r="4.7" fill="#454734" stroke="#343527" stroke-width="0.8" fill-opacity="0.6" stroke-opacity="0.6"/><circle cx="1920.1" cy="194" r="4.7" fill="#454734" stroke="#343527" stroke-width="0.8" fill-opacity="0.6" stroke-opacity="0.6"/><circle cx="1920.7" cy="194.7" r="4.7" fill="#454734" stroke="#343527" stroke-width="0.8" fill-opacity="0.6" stroke-opacity="0.6"/><circle cx="1921.3" cy="195.3" r="4.7" fill="#454734" stroke="#343527" stroke-width="0.8" fill-opacity="0.6" stroke-opacity="0.6"/><circle cx="1921.9" cy="196" r="4.7" fill="#454734" stroke="#343527" stroke-width="0.8" fill-opacity="0.6" stroke-opacity="0.6"/><circle cx="1922.4" cy="196.7" r="4.7" fill="#454734" stroke="#343527" stroke-width="0.8" fill-opacity="0.6" stroke-opacity="0.6"/><circle cx="1922.9" cy="197.5" r="4.8" fill="#454734" stroke="#343527" stroke-width="0.8" fill-opacity="0.6" stroke-opacity="0.6"/><circle cx="1923.4" cy="198.3" r="4.8" fill="#454734" stroke="#343527" stroke-width="0.8" fill-opacity="0.6" stroke-opacity="0.6"/><circle cx="1923.8" cy="199.1" r="4.8" fill="#454734" stroke="#343527" stroke-width="0.8" fill-opacity="0.6" stroke-opacity="0.6"/><circle cx="1924.2" cy="199.9" r="4.8" fill="#454734" stroke="#343527" stroke-width="0.8" fill-opacity="0.6" stroke-opacity="0.6"/><circle cx="1924.6" cy="200.7" r="4.8" fill="#454734" stroke="#343527" stroke-width="0.8" fill-opacity="0.6" stroke-opacity="0.6"/><circle cx="1924.9" cy="201.5" r="4.8" fill="#454734" stroke="#343527" stroke-width="0.8" fill-opacity="0.6" stroke-opacity="0.6"/><circle cx="1925.2" cy="202.4" r="4.8" fill="#454734" stroke="#343527" stroke-width="0.8" fill-opacity="0.6" stroke-opacity="0.6"/><circle cx="1925.5" cy="203.3" r="4.9" fill="#454734" stroke="#343527" stroke-width="0.8" fill-opacity="0.6" stroke-opacity="0.6"/><circle cx="1925.7" cy="204.1" r="4.9" fill="#454734" stroke="#343527" stroke-width="0.8" fill-opacity="0.6" stroke-opacity="0.6"/><circle cx="1925.8" cy="205" r="4.9" fill="#454734" stroke="#343527" stroke-width="0.8" fill-opacity="0.6" stroke-opacity="0.6"/><circle cx="1926" cy="205.9" r="4.9" fill="#454734" stroke="#343527" stroke-width="0.8" fill-opacity="0.6" stroke-opacity="0.6"/><circle cx="1926.1" cy="206.8" r="4.9" fill="#454734" stroke="#343527" stroke-width="0.8" fill-opacity="0.6" stroke-opacity="0.6"/><circle cx="1926.2" cy="207.7" r="4.9" fill="#454734" stroke="#343527" stroke-width="0.8" fill-opacity="0.6" stroke-opacity="0.6"/><circle cx="1926.4" cy="208.6" r="5" fill="#454734" stroke="#343527" stroke-width="0.8" fill-opacity="0.6" stroke-opacity="0.6"/><circle cx="1926.5" cy="209.5" r="5" fill="#454734" stroke="#343527" stroke-width="0.8" fill-opacity="0.6" stroke-opacity="0.6"/><circle cx="1926.6" cy="210.4" r="5" fill="#454734" stroke="#343527" stroke-width="0.8" fill-opacity="0.6" stroke-opacity="0.6"/><circle cx="1926.7" cy="211.3" r="5" fill="#454734" stroke="#343527" stroke-width="0.8" fill-opacity="0.6" stroke-opacity="0.6"/><circle cx="1926.8" cy="212.2" r="5" fill="#454734" stroke="#343527" stroke-width="0.8" fill-opacity="0.6" stroke-opacity="0.6"/><circle cx="1926.9" cy="213.1" r="5.1" fill="#454734" stroke="#343527" stroke-width="0.8" fill-opacity="0.6" stroke-opacity="0.6"/><circle cx="1927" cy="214" r="5.1" fill="#454734" stroke="#343527" stroke-width="0.8" fill-opacity="0.6" stroke-opacity="0.6"/><circle cx="1927.1" cy="214.9" r="5.1" fill="#454734" stroke="#343527" stroke-width="0.8" fill-opacity="0.6" stroke-opacity="0.6"/><circle cx="1927.2" cy="215.8" r="5.1" fill="#454734" stroke="#343527" stroke-width="0.8" fill-opacity="0.6" stroke-opacity="0.6"/><circle cx="1927.3" cy="216.7" r="5.1" fill="#454734" stroke="#343527" stroke-width="0.8" fill-opacity="0.6" stroke-opacity="0.6"/><circle cx="1927.4" cy="217.6" r="5.1" fill="#454734" stroke="#343527" stroke-width="0.8" fill-opacity="0.6" stroke-opacity="0.6"/><circle cx="1927.5" cy="218.5" r="5.2" fill="#454734" stroke="#343527" stroke-width="0.8" fill-opacity="0.6" stroke-opacity="0.6"/><circle cx="1927.6" cy="219.4" r="5.2" fill="#454734" stroke="#343527" stroke-width="0.8" fill-opacity="0.6" stroke-opacity="0.6"/><circle cx="1927.7" cy="220.3" r="5.2" fill="#454734" stroke="#343527" stroke-width="0.8" fill-opacity="0.6" stroke-opacity="0.6"/><circle cx="1927.7" cy="221.2" r="5.2" fill="#454734" stroke="#343527" stroke-width="0.8" fill-opacity="0.6" stroke-opacity="0.6"/><circle cx="1927.8" cy="222.1" r="5.2" fill="#454734" stroke="#343527" stroke-width="0.8" fill-opacity="0.6" stroke-opacity="0.6"/><circle cx="1927.9" cy="223" r="5.2" fill="#454734" stroke="#343527" stroke-width="0.8" fill-opacity="0.6" stroke-opacity="0.6"/><circle cx="1927.9" cy="223.9" r="5.3" fill="#454734" stroke="#343527" stroke-width="0.8" fill-opacity="0.6" stroke-opacity="0.6"/><circle cx="1928" cy="224.8" r="5.3" fill="#454734" stroke="#343527" stroke-width="0.8" fill-opacity="0.6" stroke-opacity="0.6"/><circle cx="1928.1" cy="225.7" r="5.3" fill="#454734" stroke="#343527" stroke-width="0.8" fill-opacity="0.6" stroke-opacity="0.6"/><circle cx="1928.1" cy="226.6" r="5.3" fill="#454734" stroke="#343527" stroke-width="0.8" fill-opacity="0.6" stroke-opacity="0.6"/><circle cx="1928.2" cy="227.5" r="5.3" fill="#454734" stroke="#343527" stroke-width="0.8" fill-opacity="0.6" stroke-opacity="0.6"/><circle cx="1928.2" cy="228.4" r="5.3" fill="#454734" stroke="#343527" stroke-width="0.8" fill-opacity="0.6" stroke-opacity="0.6"/><circle cx="1928.3" cy="229.3" r="5.4" fill="#454734" stroke="#343527" stroke-width="0.8" fill-opacity="0.6" stroke-opacity="0.6"/><circle cx="1928.3" cy="230.2" r="5.4" fill="#454734" stroke="#343527" stroke-width="0.8" fill-opacity="0.6" stroke-opacity="0.6"/><circle cx="1928.4" cy="231.1" r="5.4" fill="#454734" stroke="#343527" stroke-width="0.8" fill-opacity="0.6" stroke-opacity="0.6"/><circle cx="1928.4" cy="232" r="5.4" fill="#454734" stroke="#343527" stroke-width="0.8" fill-opacity="0.6" stroke-opacity="0.6"/><circle cx="1928.5" cy="232.9" r="5.4" fill="#454734" stroke="#343527" stroke-width="0.8" fill-opacity="0.6" stroke-opacity="0.6"/><circle cx="1928.5" cy="233.8" r="5.4" fill="#454734" stroke="#343527" stroke-width="0.8" fill-opacity="0.6" stroke-opacity="0.6"/><circle cx="1928.6" cy="234.7" r="5.5" fill="#454734" stroke="#343527" stroke-width="0.8" fill-opacity="0.6" stroke-opacity="0.6"/><circle cx="1928.6" cy="235.6" r="5.5" fill="#454734" stroke="#343527" stroke-width="0.8" fill-opacity="0.6" stroke-opacity="0.6"/><circle cx="1928.6" cy="236.5" r="5.5" fill="#454734" stroke="#343527" stroke-width="0.8" fill-opacity="0.6" stroke-opacity="0.6"/><circle cx="1928.7" cy="237.4" r="5.5" fill="#454734" stroke="#343527" stroke-width="0.8" fill-opacity="0.6" stroke-opacity="0.6"/><circle cx="1928.7" cy="238.3" r="5.5" fill="#454734" stroke="#343527" stroke-width="0.8" fill-opacity="0.6" stroke-opacity="0.6"/><circle cx="1928.8" cy="239.2" r="5.5" fill="#454734" stroke="#343527" stroke-width="0.8" fill-opacity="0.6" stroke-opacity="0.6"/><circle cx="1928.8" cy="240.1" r="5.6" fill="#454734" stroke="#343527" stroke-width="0.8" fill-opacity="0.6" stroke-opacity="0.6"/><circle cx="1928.8" cy="241" r="5.6" fill="#454734" stroke="#343527" stroke-width="0.8" fill-opacity="0.6" stroke-opacity="0.6"/><circle cx="1928.9" cy="241.9" r="5.6" fill="#454734" stroke="#343527" stroke-width="0.8" fill-opacity="0.6" stroke-opacity="0.6"/><circle cx="1928.9" cy="242.8" r="5.6" fill="#454734" stroke="#343527" stroke-width="0.8" fill-opacity="0.6" stroke-opacity="0.6"/><circle cx="1928.9" cy="243.7" r="5.6" fill="#454734" stroke="#343527" stroke-width="0.8" fill-opacity="0.6" stroke-opacity="0.6"/><circle cx="1928.9" cy="244.6" r="5.7" fill="#454734" stroke="#343527" stroke-width="0.8" fill-opacity="0.6" stroke-opacity="0.6"/><circle cx="1929" cy="245.5" r="5.7" fill="#454734" stroke="#343527" stroke-width="0.8" fill-opacity="0.6" stroke-opacity="0.6"/><circle cx="1929" cy="246.5" r="5.7" fill="#454734" stroke="#343527" stroke-width="0.8" fill-opacity="0.6" stroke-opacity="0.6"/><circle cx="1929" cy="247.3" r="5.7" fill="#454734" stroke="#343527" stroke-width="0.8" fill-opacity="0.6" stroke-opacity="0.6"/><circle cx="1929" cy="248.3" r="5.7" fill="#454734" stroke="#343527" stroke-width="0.8" fill-opacity="0.6" stroke-opacity="0.6"/><circle cx="1929" cy="249.1" r="5.7" fill="#454734" stroke="#343527" stroke-width="0.8" fill-opacity="0.6" stroke-opacity="0.6"/><circle cx="1929.1" cy="250" r="5.8" fill="#454734" stroke="#343527" stroke-width="0.8" fill-opacity="0.6" stroke-opacity="0.6"/><circle cx="1929.1" cy="250.9" r="5.8" fill="#454734" stroke="#343527" stroke-width="0.8" fill-opacity="0.6" stroke-opacity="0.6"/><circle cx="1929.1" cy="251.8" r="5.8" fill="#454734" stroke="#343527" stroke-width="0.8" fill-opacity="0.6" stroke-opacity="0.6"/><circle cx="1929.1" cy="252.8" r="5.8" fill="#454734" stroke="#343527" stroke-width="0.8" fill-opacity="0.6" stroke-opacity="0.6"/><circle cx="1929.1" cy="253.6" r="5.8" fill="#454734" stroke="#343527" stroke-width="0.8" fill-opacity="0.6" stroke-opacity="0.6"/><circle cx="1929.2" cy="254.5" r="5.8" fill="#454734" stroke="#343527" stroke-width="0.8" fill-opacity="0.6" stroke-opacity="0.6"/><circle cx="1929.2" cy="255.5" r="5.9" fill="#454734" stroke="#343527" stroke-width="0.8" fill-opacity="0.6" stroke-opacity="0.6"/><circle cx="1929.2" cy="256.4" r="5.9" fill="#454734" stroke="#343527" stroke-width="0.8" fill-opacity="0.6" stroke-opacity="0.6"/><circle cx="1929.2" cy="257.3" r="5.9" fill="#454734" stroke="#343527" stroke-width="0.8" fill-opacity="0.6" stroke-opacity="0.6"/><circle cx="1929.2" cy="258.2" r="5.9" fill="#454734" stroke="#343527" stroke-width="0.8" fill-opacity="0.6" stroke-opacity="0.6"/><circle cx="1929.2" cy="259" r="5.9" fill="#454734" stroke="#343527" stroke-width="0.8" fill-opacity="0.6" stroke-opacity="0.6"/><circle cx="1929.3" cy="260" r="5.9" fill="#454734" stroke="#343527" stroke-width="0.8" fill-opacity="0.6" stroke-opacity="0.6"/><circle cx="1929.3" cy="260.9" r="6" fill="#454734" stroke="#343527" stroke-width="0.8" fill-opacity="0.6" stroke-opacity="0.6"/><circle cx="1929.3" cy="261.8" r="6" fill="#454734" stroke="#343527" stroke-width="0.8" fill-opacity="0.6" stroke-opacity="0.6"/><circle cx="1929.3" cy="262.6" r="6" fill="#454734" stroke="#343527" stroke-width="0.8" fill-opacity="0.6" stroke-opacity="0.6"/><circle cx="1929.3" cy="263.6" r="6" fill="#454734" stroke="#343527" stroke-width="0.8" fill-opacity="0.6" stroke-opacity="0.6"/><circle cx="1929.3" cy="264.5" r="6" fill="#454734" stroke="#343527" stroke-width="0.8" fill-opacity="0.6" stroke-opacity="0.6"/><circle cx="1929.4" cy="265.4" r="6.1" fill="#454734" stroke="#343527" stroke-width="0.8" fill-opacity="0.6" stroke-opacity="0.6"/><circle cx="1929.4" cy="266.3" r="6.1" fill="#454734" stroke="#343527" stroke-width="0.8" fill-opacity="0.6" stroke-opacity="0.6"/><circle cx="1929.4" cy="267.2" r="6.1" fill="#454734" stroke="#343527" stroke-width="0.8" fill-opacity="0.6" stroke-opacity="0.6"/><circle cx="1929.4" cy="268.1" r="6.1" fill="#454734" stroke="#343527" stroke-width="0.8" fill-opacity="0.6" stroke-opacity="0.6"/><circle cx="1929.4" cy="269.1" r="6.1" fill="#454734" stroke="#343527" stroke-width="0.8" fill-opacity="0.6" stroke-opacity="0.6"/><circle cx="1929.4" cy="269.9" r="6.1" fill="#454734" stroke="#343527" stroke-width="0.8" fill-opacity="0.6" stroke-opacity="0.6"/><circle cx="1929.5" cy="270.8" r="6.2" fill="#454734" stroke="#343527" stroke-width="0.8" fill-opacity="0.6" stroke-opacity="0.6"/><circle cx="1929.5" cy="271.7" r="6.2" fill="#454734" stroke="#343527" stroke-width="0.8" fill-opacity="0.6" stroke-opacity="0.6"/><circle cx="1929.5" cy="272.6" r="6.2" fill="#454734" stroke="#343527" stroke-width="0.8" fill-opacity="0.6" stroke-opacity="0.6"/><circle cx="1929.5" cy="273.5" r="6.2" fill="#454734" stroke="#343527" stroke-width="0.8" fill-opacity="0.6" stroke-opacity="0.6"/><circle cx="1929.5" cy="274.4" r="6.2" fill="#454734" stroke="#343527" stroke-width="0.8" fill-opacity="0.6" stroke-opacity="0.6"/><circle cx="1929.5" cy="275.3" r="6.2" fill="#454734" stroke="#343527" stroke-width="0.8" fill-opacity="0.6" stroke-opacity="0.6"/><circle cx="1929.5" cy="276.2" r="6.3" fill="#454734" stroke="#343527" stroke-width="0.8" fill-opacity="0.6" stroke-opacity="0.6"/><circle cx="1929.6" cy="277.1" r="6.3" fill="#454734" stroke="#343527" stroke-width="0.8" fill-opacity="0.6" stroke-opacity="0.6"/><circle cx="1929.6" cy="278.1" r="6.3" fill="#454734" stroke="#343527" stroke-width="0.8" fill-opacity="0.6" stroke-opacity="0.6"/><circle cx="1929.6" cy="278.9" r="6.3" fill="#454734" stroke="#343527" stroke-width="0.8" fill-opacity="0.6" stroke-opacity="0.6"/><circle cx="1929.6" cy="279.8" r="6.3" fill="#454734" stroke="#343527" stroke-width="0.8" fill-opacity="0.6" stroke-opacity="0.6"/><circle cx="1929.6" cy="280.8" r="6.3" fill="#454734" stroke="#343527" stroke-width="0.8" fill-opacity="0.6" stroke-opacity="0.6"/><circle cx="1929.6" cy="281.6" r="6.4" fill="#454734" stroke="#343527" stroke-width="0.8" fill-opacity="0.6" stroke-opacity="0.6"/><circle cx="1929.6" cy="282.5" r="6.4" fill="#454734" stroke="#343527" stroke-width="0.8" fill-opacity="0.6" stroke-opacity="0.6"/><circle cx="1929.7" cy="283.5" r="6.4" fill="#454734" stroke="#343527" stroke-width="0.8" fill-opacity="0.6" stroke-opacity="0.6"/><circle cx="1929.7" cy="284.3" r="6.4" fill="#454734" stroke="#343527" stroke-width="0.8" fill-opacity="0.6" stroke-opacity="0.6"/><circle cx="1929.7" cy="285.2" r="6.4" fill="#454734" stroke="#343527" stroke-width="0.8" fill-opacity="0.6" stroke-opacity="0.6"/><circle cx="1573" cy="39" r="6.4" fill="#454734" stroke="#343527" stroke-width="0.8" fill-opacity="0.6" stroke-opacity="0.6"/><circle cx="1573.1" cy="55.9" r="6.1" fill="#454734" stroke="#343527" stroke-width="0.8" fill-opacity="0.6" stroke-opacity="0.6"/><circle cx="1929.7" cy="293" r="6.6" fill="#454734" stroke="#343527" stroke-width="0.8" fill-opacity="0.6" stroke-opacity="0.6"/><circle cx="1929.7" cy="300.1" r="6.7" fill="#454734" stroke="#343527" stroke-width="0.8" fill-opacity="0.6" stroke-opacity="0.6"/><circle cx="1929.7" cy="306.4" r="6.8" fill="#454734" stroke="#343527" stroke-width="0.8" fill-opacity="0.6" stroke-opacity="0.6"/><circle cx="1929.7" cy="325.6" r="7.2" fill="#454734" stroke="#343527" stroke-width="0.8" fill-opacity="0.6" stroke-opacity="0.6"/><circle cx="1929.7" cy="333.4" r="7.4" fill="#454734" stroke="#343527" stroke-width="0.8" fill-opacity="0.6" stroke-opacity="0.6"/></g>
<line x1="1555.6" y1="162.5" x2="1947.8" y2="162.5" stroke="#000" stroke-width="1.8"/>
<line x1="1751.1" y1="24.4" x2="1751.1" y2="348.6" stroke="#3b3b3b" stroke-width="1.8" stroke-dasharray="14 6.5"/>
<rect x="1555.6" y="24.4" width="392.2" height="324.2" fill="none" stroke="#000" stroke-width="1.8"/>
<line x1="1548.6" y1="84.1" x2="1555.6" y2="84.1" stroke="#000" stroke-width="1.8"/>
<text x="1541.6" y="89.7" font-size="16" text-anchor="end">2</text>
<line x1="1548.6" y1="162.5" x2="1555.6" y2="162.5" stroke="#000" stroke-width="1.8"/>
<text x="1541.6" y="168.1" font-size="16" text-anchor="end">0</text>
<line x1="1548.6" y1="240.9" x2="1555.6" y2="240.9" stroke="#000" stroke-width="1.8"/>
<text x="1541.6" y="246.5" font-size="16" text-anchor="end">-2</text>
<line x1="1548.6" y1="319.3" x2="1555.6" y2="319.3" stroke="#000" stroke-width="1.8"/>
<text x="1541.6" y="324.9" font-size="16" text-anchor="end">-4</text>
<line x1="1573" y1="348.6" x2="1573" y2="355.6" stroke="#000" stroke-width="1.8"/>
<line x1="1684.2" y1="348.6" x2="1684.2" y2="355.6" stroke="#000" stroke-width="1.8"/>
<text x="1684.2" y="375.3" font-size="16" text-anchor="middle">10000</text>
<line x1="1795.3" y1="348.6" x2="1795.3" y2="355.6" stroke="#000" stroke-width="1.8"/>
<text x="1795.3" y="375.3" font-size="16" text-anchor="middle">20000</text>
<line x1="1906.5" y1="348.6" x2="1906.5" y2="355.6" stroke="#000" stroke-width="1.8"/>
<text x="1906.5" y="375.3" font-size="16" text-anchor="middle">30000</text>
<text x="1581.2" y="375.3" font-size="16" text-anchor="middle">0</text>
<text x="1751" y="396.4" font-size="19.2" text-anchor="middle">Rank of differentially expressed genes</text>
<text x="1511" y="190.5" font-size="19.5" text-anchor="middle" transform="rotate(-90 1511 190.5)">Log<tspan font-size="14" dy="5">2</tspan><tspan dy="-5"> (Fold Change)</tspan></text>
<text x="1955.4" y="74.5" font-size="16">P value</text>
<defs><linearGradient id="pv" x1="0" y1="1" x2="0" y2="0"><stop offset="0" stop-color="#454734"/><stop offset="0.5" stop-color="#ffffff"/><stop offset="1" stop-color="#b2c459"/></linearGradient><linearGradient id="pa" x1="0" y1="0" x2="0" y2="1"><stop offset="0" stop-color="#454734"/><stop offset="1" stop-color="#b7c866"/></linearGradient></defs>
<rect x="1955.4" y="81.5" width="19.6" height="96.2" fill="url(#pv)"/>
<line x1="1955.4" y1="81.5" x2="1959.4" y2="81.5" stroke="#fff" stroke-width="1"/>
<line x1="1971" y1="81.5" x2="1975" y2="81.5" stroke="#fff" stroke-width="1"/>
<text x="1984.3" y="87.1" font-size="16">1.00</text>
<line x1="1955.4" y1="105.4" x2="1959.4" y2="105.4" stroke="#fff" stroke-width="1"/>
<line x1="1971" y1="105.4" x2="1975" y2="105.4" stroke="#fff" stroke-width="1"/>
<text x="1984.3" y="111" font-size="16">0.75</text>
<line x1="1955.4" y1="129.3" x2="1959.4" y2="129.3" stroke="#fff" stroke-width="1"/>
<line x1="1971" y1="129.3" x2="1975" y2="129.3" stroke="#fff" stroke-width="1"/>
<text x="1984.3" y="134.9" font-size="16">0.50</text>
<line x1="1955.4" y1="153.2" x2="1959.4" y2="153.2" stroke="#fff" stroke-width="1"/>
<line x1="1971" y1="153.2" x2="1975" y2="153.2" stroke="#fff" stroke-width="1"/>
<text x="1984.3" y="158.8" font-size="16">0.25</text>
<text x="1955.4" y="205" font-size="16">Log<tspan font-size="12" dy="3">2</tspan><tspan dy="-3"> FC</tspan></text>
<circle cx="1965.2" cy="223.5" r="1.8" fill="#e0e0e0" stroke="#444" stroke-width="1.6"/>
<text x="1983" y="229.1" font-size="16">0</text>
<circle cx="1965.2" cy="242.6" r="4.7" fill="#e0e0e0" stroke="#444" stroke-width="1.6"/>
<text x="1983" y="248.2" font-size="16">1</text>
<circle cx="1965.2" cy="262" r="6" fill="#e0e0e0" stroke="#444" stroke-width="1.6"/>
<text x="1983" y="267.6" font-size="16">2</text>
<circle cx="1965.2" cy="281" r="6.8" fill="#e0e0e0" stroke="#444" stroke-width="1.6"/>
<text x="1983" y="286.6" font-size="16">3</text>
<circle cx="1965.2" cy="300.8" r="7.6" fill="#e0e0e0" stroke="#444" stroke-width="1.6"/>
<text x="1983" y="306.4" font-size="16">4</text>
<text x="8" y="490.5" font-size="32" font-weight="bold">E</text>
<rect x="367.9" y="492.2" width="96.8" height="36.4" fill="#b2c459" stroke="#000" stroke-width="1.6"/>
<line x1="360.9" y1="510.4" x2="367.9" y2="510.4" stroke="#000" stroke-width="1.8"/>
<text x="354.1" y="516.5" font-size="17.4" text-anchor="end">response to oxygen levels</text>
<rect x="367.9" y="536.6" width="95.5" height="36.4" fill="#b2c459" stroke="#000" stroke-width="1.6"/>
<line x1="360.9" y1="554.8" x2="367.9" y2="554.8" stroke="#000" stroke-width="1.8"/>
<text x="354.1" y="551.5" font-size="17.4" text-anchor="end">response to decreased oxygen</text>
<text x="354.1" y="570.2" font-size="17.4" text-anchor="end">levels</text>
<rect x="367.9" y="582" width="94.1" height="36.4" fill="#b2c459" stroke="#000" stroke-width="1.6"/>
<line x1="360.9" y1="600.2" x2="367.9" y2="600.2" stroke="#000" stroke-width="1.8"/>
<text x="354.1" y="606.3" font-size="17.4" text-anchor="end">response to hypoxia</text>
<rect x="367.9" y="626.8" width="44.4" height="36.4" fill="#b2c459" stroke="#000" stroke-width="1.6"/>
<line x1="360.9" y1="645" x2="367.9" y2="645" stroke="#000" stroke-width="1.8"/>
<text x="354.1" y="641.7" font-size="17.4" text-anchor="end">cellular response to decreased</text>
<text x="354.1" y="660.4" font-size="17.4" text-anchor="end">oxygen levels</text>
<rect x="367.9" y="688.6" width="17.8" height="36.4" fill="#454633" stroke="#000" stroke-width="1.6"/>
<line x1="360.9" y1="706.8" x2="367.9" y2="706.8" stroke="#000" stroke-width="1.8"/>
<text x="354.1" y="703.5" font-size="17.4" text-anchor="end">collagen-containing extracellular</text>
<text x="354.1" y="722.2" font-size="17.4" text-anchor="end">matrix</text>
<rect x="367.9" y="733.5" width="12" height="36.4" fill="#454633" stroke="#000" stroke-width="1.6"/>
<line x1="360.9" y1="751.7" x2="367.9" y2="751.7" stroke="#000" stroke-width="1.8"/>
<text x="354.1" y="757.8" font-size="17.4" text-anchor="end">transcription regulator complex</text>
<rect x="367.9" y="777.9" width="11.1" height="36.4" fill="#454633" stroke="#000" stroke-width="1.6"/>
<line x1="360.9" y1="796.1" x2="367.9" y2="796.1" stroke="#000" stroke-width="1.8"/>
<text x="354.1" y="802.2" font-size="17.4" text-anchor="end">membrane microdomain</text>
<rect x="367.9" y="822.3" width="11.1" height="36.4" fill="#454633" stroke="#000" stroke-width="1.6"/>
<line x1="360.9" y1="840.5" x2="367.9" y2="840.5" stroke="#000" stroke-width="1.8"/>
<text x="354.1" y="846.6" font-size="17.4" text-anchor="end">membrane raft</text>
<rect x="367.9" y="884.5" width="20.9" height="36.4" fill="#1a99a8" stroke="#000" stroke-width="1.6"/>
<line x1="360.9" y1="902.7" x2="367.9" y2="902.7" stroke="#000" stroke-width="1.8"/>
<text x="354.1" y="899.4" font-size="17.4" text-anchor="end">signaling receptor activator</text>
<text x="354.1" y="918.1" font-size="17.4" text-anchor="end">activity</text>
<rect x="367.9" y="929.8" width="19.5" height="36.4" fill="#1a99a8" stroke="#000" stroke-width="1.6"/>
<line x1="360.9" y1="948" x2="367.9" y2="948" stroke="#000" stroke-width="1.8"/>
<text x="354.1" y="944.7" font-size="17.4" text-anchor="end">DNA-binding transcription factor</text>
<text x="354.1" y="963.4" font-size="17.4" text-anchor="end">binding</text>
<rect x="367.9" y="974.3" width="19.5" height="36.4" fill="#1a99a8" stroke="#000" stroke-width="1.6"/>
<line x1="360.9" y1="992.5" x2="367.9" y2="992.5" stroke="#000" stroke-width="1.8"/>
<text x="354.1" y="998.6" font-size="17.4" text-anchor="end">receptor ligand activity</text>
<rect x="367.9" y="1018.7" width="16.9" height="36.4" fill="#1a99a8" stroke="#000" stroke-width="1.6"/>
<line x1="360.9" y1="1036.9" x2="367.9" y2="1036.9" stroke="#000" stroke-width="1.8"/>
<text x="354.1" y="1024.3" font-size="17.4" text-anchor="end">RNA polymerase II-specific DNA-binding</text>
<text x="354.1" y="1043" font-size="17.4" text-anchor="end">transcription factor</text>
<text x="354.1" y="1061.7" font-size="17.4" text-anchor="end">binding</text>
<rect x="367.9" y="482.4" width="101.7" height="188.9" fill="none" stroke="#000" stroke-width="1.8"/>
<rect x="470.5" y="482.4" width="30.7" height="188.9" fill="#d9d9d9" stroke="#000" stroke-width="1.3"/>
<text x="479.4" y="576.8" font-size="17.4" text-anchor="middle" transform="rotate(90 479.4 576.8)">BP</text>
<rect x="367.9" y="679.3" width="101.7" height="188.3" fill="none" stroke="#000" stroke-width="1.8"/>
<rect x="470.5" y="679.3" width="30.7" height="188.3" fill="#d9d9d9" stroke="#000" stroke-width="1.3"/>
<text x="479.4" y="773.5" font-size="17.4" text-anchor="middle" transform="rotate(90 479.4 773.5)">CC</text>
<rect x="367.9" y="875.6" width="101.7" height="188.4" fill="none" stroke="#000" stroke-width="1.8"/>
<rect x="470.5" y="875.6" width="30.7" height="188.4" fill="#d9d9d9" stroke="#000" stroke-width="1.3"/>
<text x="479.4" y="969.8" font-size="17.4" text-anchor="middle" transform="rotate(90 479.4 969.8)">MF</text>
<line x1="368.3" y1="1064" x2="368.3" y2="1071" stroke="#000" stroke-width="1.8"/>
<text x="372.7" y="1092" font-size="17.4" text-anchor="middle">0</text>
<line x1="387.6" y1="1064" x2="387.6" y2="1071" stroke="#000" stroke-width="1.8"/>
<text x="389.4" y="1092" font-size="17.4" text-anchor="middle">25</text>
<line x1="406.9" y1="1064" x2="406.9" y2="1071" stroke="#000" stroke-width="1.8"/>
<text x="408.7" y="1092" font-size="17.4" text-anchor="middle">50</text>
<line x1="426.1" y1="1064" x2="426.1" y2="1071" stroke="#000" stroke-width="1.8"/>
<text x="427.9" y="1092" font-size="17.4" text-anchor="middle">75</text>
<line x1="445.4" y1="1064" x2="445.4" y2="1071" stroke="#000" stroke-width="1.8"/>
<text x="447.2" y="1092" font-size="17.4" text-anchor="middle">100</text>
<line x1="464.7" y1="1064" x2="464.7" y2="1071" stroke="#000" stroke-width="1.8"/>
<text x="466.5" y="1092" font-size="17.4" text-anchor="middle">125</text>
<text x="354" y="1118.7" font-size="20">-Log <tspan font-size="16" dy="5" dx="3">10</tspan><tspan dy="-5" dx="2"> (</tspan><tspan font-style="italic">P.adj</tspan> )</text>
<text x="510" y="746.8" font-size="17.4">Ontology</text>
<rect x="511.5" y="755" width="17.5" height="16" fill="#b2c459" stroke="#000" stroke-width="1.5"/>
<text x="539" y="769.1" font-size="17.4">BP</text>
<rect x="511.5" y="775.4" width="17.5" height="16" fill="#454633" stroke="#000" stroke-width="1.5"/>
<text x="539" y="789.5" font-size="17.4">CC</text>
<rect x="511.5" y="795.8" width="17.5" height="16" fill="#1a99a8" stroke="#000" stroke-width="1.5"/>
<text x="539" y="809.9" font-size="17.4">MF</text>
<text x="660" y="490.5" font-size="32" font-weight="bold">F</text>
<circle cx="1092.3" cy="540.2" r="9.8" fill="#b3c45d"/>
<line x1="926.6" y1="540.2" x2="934.6" y2="540.2" stroke="#000" stroke-width="1.8"/>
<text x="920.4" y="546.3" font-size="17.4" text-anchor="end">PI3K-Akt signaling pathway</text>
<circle cx="1007.9" cy="634.8" r="8.8" fill="#b3c45d"/>
<line x1="926.6" y1="634.8" x2="934.6" y2="634.8" stroke="#000" stroke-width="1.8"/>
<text x="920.4" y="640.9" font-size="17.4" text-anchor="end">Wnt signaling pathway</text>
<circle cx="983.4" cy="729.9" r="7.6" fill="#b3c45d"/>
<line x1="926.6" y1="729.9" x2="934.6" y2="729.9" stroke="#000" stroke-width="1.8"/>
<text x="920.4" y="736" font-size="17.4" text-anchor="end">mTOR signaling pathway</text>
<circle cx="951" cy="824.5" r="5.4" fill="#b0c15a"/>
<line x1="926.6" y1="824.5" x2="934.6" y2="824.5" stroke="#000" stroke-width="1.8"/>
<text x="920.4" y="821.2" font-size="17.4" text-anchor="end">Inflammatory mediator regulation</text>
<text x="920.4" y="839.9" font-size="17.4" text-anchor="end">of TRP channels</text>
<circle cx="945.7" cy="919.2" r="4.9" fill="#454734"/>
<line x1="926.6" y1="919.2" x2="934.6" y2="919.2" stroke="#000" stroke-width="1.8"/>
<text x="920.4" y="925.3" font-size="17.4" text-anchor="end">Protein digestion and absorption</text>
<circle cx="942.6" cy="1014.3" r="4" fill="#b5c660"/>
<line x1="926.6" y1="1014.3" x2="934.6" y2="1014.3" stroke="#000" stroke-width="1.8"/>
<text x="920.4" y="1020.4" font-size="17.4" text-anchor="end">Notch signaling pathway</text>
<rect x="934.6" y="482.4" width="165.3" height="587.4" fill="none" stroke="#000" stroke-width="1.8"/>
<rect x="1100.8" y="482.4" width="31" height="587.4" fill="#d9d9d9" stroke="#000" stroke-width="1.3"/>
<text x="1110.3" y="776" font-size="17.4" text-anchor="middle" transform="rotate(90 1110.3 776)">KEGG</text>
<line x1="971" y1="1069.8" x2="971" y2="1076.8" stroke="#000" stroke-width="1.8"/>
<text x="971" y="1098.7" font-size="17.4" text-anchor="middle">0.05</text>
<line x1="1020.3" y1="1069.8" x2="1020.3" y2="1076.8" stroke="#000" stroke-width="1.8"/>
<text x="1020.3" y="1098.7" font-size="17.4" text-anchor="middle">0.10</text>
<line x1="1070" y1="1069.8" x2="1070" y2="1076.8" stroke="#000" stroke-width="1.8"/>
<text x="1070" y="1098.7" font-size="17.4" text-anchor="middle">0.15</text>
<text x="1017" y="1121.8" font-size="20" text-anchor="middle">GeneRatio</text>
<text x="1141.2" y="681" font-size="17.4">P adj</text>
<rect x="1141.2" y="687.7" width="20" height="102.2" fill="url(#pa)"/>
<line x1="1141.2" y1="701" x2="1145.2" y2="701" stroke="#fff" stroke-width="1"/>
<line x1="1157.2" y1="701" x2="1161.2" y2="701" stroke="#fff" stroke-width="1"/>
<text x="1171.8" y="707.1" font-size="17.4">0.020</text>
<line x1="1141.2" y1="723.2" x2="1145.2" y2="723.2" stroke="#fff" stroke-width="1"/>
<line x1="1157.2" y1="723.2" x2="1161.2" y2="723.2" stroke="#fff" stroke-width="1"/>
<text x="1171.8" y="729.3" font-size="17.4">0.015</text>
<line x1="1141.2" y1="745.5" x2="1145.2" y2="745.5" stroke="#fff" stroke-width="1"/>
<line x1="1157.2" y1="745.5" x2="1161.2" y2="745.5" stroke="#fff" stroke-width="1"/>
<text x="1171.8" y="751.6" font-size="17.4">0.010</text>
<line x1="1141.2" y1="767.7" x2="1145.2" y2="767.7" stroke="#fff" stroke-width="1"/>
<line x1="1157.2" y1="767.7" x2="1161.2" y2="767.7" stroke="#fff" stroke-width="1"/>
<text x="1171.8" y="773.8" font-size="17.4">0.005</text>
<text x="1141.2" y="816.5" font-size="17.4">Counts</text>
<circle cx="1152.3" cy="833" r="5.3" fill="#d0d0d0" stroke="#000" stroke-width="1.6"/>
<text x="1171" y="839.1" font-size="17.4">25</text>
<circle cx="1152.3" cy="854.3" r="7" fill="#d0d0d0" stroke="#000" stroke-width="1.6"/>
<text x="1171" y="860.4" font-size="17.4">50</text>
<circle cx="1152.3" cy="875.6" r="8.4" fill="#d0d0d0" stroke="#000" stroke-width="1.6"/>
<text x="1171" y="881.7" font-size="17.4">75</text>
<text x="1394.6" y="490.5" font-size="32" font-weight="bold">G</text>
<rect x="1670.4" y="483.5" width="20.6" height="579.6" fill="#b2c459" stroke="#000" stroke-width="0"/>
<line x1="1670.4" y1="483.5" x2="1670.4" y2="1063.1" stroke="#000" stroke-width="1.1"/>
<text x="1686" y="772" font-size="17.4" text-anchor="middle" transform="rotate(-90 1686 772)">KEGG</text>
<line x1="1663" y1="531.3" x2="1670.4" y2="531.3" stroke="#000" stroke-width="1.8"/>
<text x="1656.3" y="537.4" font-size="17.4" text-anchor="end">PI3K-Akt signaling pathway</text>
<line x1="1663" y1="627.7" x2="1670.4" y2="627.7" stroke="#000" stroke-width="1.8"/>
<text x="1656.3" y="633.8" font-size="17.4" text-anchor="end">Wnt signaling pathway</text>
<line x1="1663" y1="724.6" x2="1670.4" y2="724.6" stroke="#000" stroke-width="1.8"/>
<text x="1656.3" y="730.7" font-size="17.4" text-anchor="end">mTOR signaling pathway</text>
<line x1="1663" y1="821" x2="1670.4" y2="821" stroke="#000" stroke-width="1.8"/>
<text x="1656.3" y="827.1" font-size="17.4" text-anchor="end">Inflammatory mediator regulation of TRP channels</text>
<line x1="1663" y1="917.9" x2="1670.4" y2="917.9" stroke="#000" stroke-width="1.8"/>
<text x="1656.3" y="924" font-size="17.4" text-anchor="end">Notch signaling pathway</text>
<line x1="1663" y1="1014.3" x2="1670.4" y2="1014.3" stroke="#000" stroke-width="1.8"/>
<text x="1656.3" y="1020.4" font-size="17.4" text-anchor="end">Protein digestion and absorption</text>
<line x1="1691" y1="509.4" x2="1930.9" y2="509.4" stroke="#a9bc4c" stroke-width="2"/>
<circle cx="1930.9" cy="509.4" r="11" fill="#b2c459"/>
<line x1="1691" y1="615.3" x2="1817.6" y2="615.3" stroke="#a9bc4c" stroke-width="2"/>
<circle cx="1817.6" cy="615.3" r="8.5" fill="#b2c459"/>
<line x1="1691" y1="720.1" x2="1759" y2="720.1" stroke="#a9bc4c" stroke-width="2"/>
<circle cx="1759" cy="720.1" r="7.2" fill="#b2c459"/>
<line x1="1691" y1="825.9" x2="1713.2" y2="825.9" stroke="#a9bc4c" stroke-width="2"/>
<circle cx="1713.2" cy="825.9" r="5.1" fill="#b2c459"/>
<line x1="1691" y1="931.2" x2="1711" y2="931.2" stroke="#a9bc4c" stroke-width="2"/>
<circle cx="1711" cy="931.2" r="3.7" fill="#b2c459"/>
<line x1="1691" y1="1036.5" x2="1703" y2="1036.5" stroke="#a9bc4c" stroke-width="2"/>
<circle cx="1703" cy="1036.5" r="4.6" fill="#b2c459"/>
<rect x="1691" y="483.5" width="252.4" height="579.6" fill="none" stroke="#000" stroke-width="1.8"/>
<line x1="1691" y1="1063.1" x2="1691" y2="1070.1" stroke="#000" stroke-width="1.8"/>
<text x="1693.5" y="1091.1" font-size="17.4" text-anchor="middle">0</text>
<line x1="1763.9" y1="1063.1" x2="1763.9" y2="1070.1" stroke="#000" stroke-width="1.8"/>
<text x="1764.4" y="1091.1" font-size="17.4" text-anchor="middle">10</text>
<line x1="1836.7" y1="1063.1" x2="1836.7" y2="1070.1" stroke="#000" stroke-width="1.8"/>
<text x="1837.2" y="1091.1" font-size="17.4" text-anchor="middle">20</text>
<line x1="1909.6" y1="1063.1" x2="1909.6" y2="1070.1" stroke="#000" stroke-width="1.8"/>
<text x="1910.1" y="1091.1" font-size="17.4" text-anchor="middle">30</text>
<text x="1752.3" y="1115.3" font-size="20">-Log <tspan font-size="16" dy="5" dx="3">10</tspan><tspan dy="-5" dx="2"> (</tspan><tspan font-style="italic">P.adj</tspan> )</text>
<text x="1951" y="718" font-size="17.4">Ontology</text>
<circle cx="1961.1" cy="734.8" r="7" fill="#b2c459"/>
<text x="1980.7" y="740.9" font-size="17.4">KEGG</text>
<text x="1951" y="772" font-size="17.4">Counts</text>
<circle cx="1962.4" cy="788.6" r="5.3" fill="#d0d0d0" stroke="#000" stroke-width="1.6"/>
<text x="1981" y="794.7" font-size="17.4">25</text>
<circle cx="1962.4" cy="809.2" r="7" fill="#d0d0d0" stroke="#000" stroke-width="1.6"/>
<text x="1981" y="815.3" font-size="17.4">50</text>
<circle cx="1962.4" cy="830.8" r="8.4" fill="#d0d0d0" stroke="#000" stroke-width="1.6"/>
<text x="1981" y="836.9" font-size="17.4">75</text>
<text x="3" y="1200.4" font-size="32" font-weight="bold">H</text>
<path d="M99.6 1325.9 L103.8 1326.8 L107.9 1327.8 L112.1 1328.7 L116.3 1329.6 L120.4 1330.4 L124.6 1331.2 L128.8 1331.9 L132.9 1332.6 L137.1 1333.2 L141.2 1333.8 L145.4 1334.2 L149.6 1334.6 L153.7 1335 L157.9 1335.2 L162.1 1335.3 L166.2 1335.3 L170.4 1335.2 L174.6 1334.9 L178.7 1334.5 L182.9 1334 L187.1 1333.3 L191.2 1332.5 L195.4 1331.4 L199.5 1330.2 L203.7 1328.9 L207.9 1327.3 L212 1325.6 L216.2 1323.7 L220.4 1321.7 L224.5 1319.5 L228.7 1317.2 L232.9 1314.7 L237 1312.1 L241.2 1309.4 L245.4 1306.5 L249.5 1303.6 L253.7 1300.6 L257.8 1297.5 L262 1294.3 L266.2 1291 L270.3 1287.7 L274.5 1284.3 L278.7 1280.9 L282.8 1277.4 L287 1273.9 L291.2 1270.4 L295.3 1266.8 L299.5 1263.1 L303.7 1259.5 L307.8 1255.8 L312 1252.1 L316.1 1248.3 L320.3 1244.6 L324.5 1240.8 L328.6 1237 L332.8 1233.2 L337 1229.3 L341.1 1225.5 L345.3 1221.6 L345.3 1435 L341.1 1433.8 L337 1432.6 L332.8 1431.4 L328.6 1430.3 L324.5 1429.2 L320.3 1428.1 L316.1 1427 L312 1425.9 L307.8 1424.9 L303.7 1423.9 L299.5 1422.9 L295.3 1421.9 L291.2 1421 L287 1420.1 L282.8 1419.3 L278.7 1418.5 L274.5 1417.7 L270.3 1417 L266.2 1416.4 L262 1415.8 L257.8 1415.3 L253.7 1414.9 L249.5 1414.5 L245.4 1414.3 L241.2 1414.1 L237 1414.1 L232.9 1414.1 L228.7 1414.3 L224.5 1414.7 L220.4 1415.1 L216.2 1415.8 L212 1416.6 L207.9 1417.5 L203.7 1418.7 L199.5 1420 L195.4 1421.5 L191.2 1423.1 L187.1 1424.9 L182.9 1426.9 L178.7 1429 L174.6 1431.3 L170.4 1433.7 L166.2 1436.3 L162.1 1439 L157.9 1441.8 L153.7 1444.7 L149.6 1447.7 L145.4 1450.7 L141.2 1453.9 L137.1 1457.1 L132.9 1460.4 L128.8 1463.8 L124.6 1467.2 L120.4 1470.6 L116.3 1474.1 L112.1 1477.7 L107.9 1481.3 L103.8 1484.9 L99.6 1488.5Z" fill="#ececec"/>
<line x1="99.6" y1="1407.2" x2="345.3" y2="1328.3" stroke="#a6b94a" stroke-width="2"/>
<line x1="89.3" y1="1472.3" x2="95.8" y2="1472.3" stroke="#d3dca4" stroke-width="1.4"/>
<line x1="99.6" y1="1493.7" x2="99.6" y2="1500.5" stroke="#d3dca4" stroke-width="1.4"/>
<line x1="89.3" y1="1401.8" x2="95.8" y2="1401.8" stroke="#d3dca4" stroke-width="1.4"/>
<line x1="123.3" y1="1493.7" x2="123.3" y2="1500.5" stroke="#d3dca4" stroke-width="1.4"/>
<line x1="89.3" y1="1302.7" x2="95.8" y2="1302.7" stroke="#d3dca4" stroke-width="1.4"/>
<line x1="137.6" y1="1493.7" x2="137.6" y2="1500.5" stroke="#d3dca4" stroke-width="1.4"/>
<line x1="89.3" y1="1362.4" x2="95.8" y2="1362.4" stroke="#d3dca4" stroke-width="1.4"/>
<line x1="157.8" y1="1493.7" x2="157.8" y2="1500.5" stroke="#d3dca4" stroke-width="1.4"/>
<line x1="89.3" y1="1441.8" x2="95.8" y2="1441.8" stroke="#d3dca4" stroke-width="1.4"/>
<line x1="167.9" y1="1493.7" x2="167.9" y2="1500.5" stroke="#d3dca4" stroke-width="1.4"/>
<line x1="89.3" y1="1385" x2="95.8" y2="1385" stroke="#d3dca4" stroke-width="1.4"/>
<line x1="183" y1="1493.7" x2="183" y2="1500.5" stroke="#d3dca4" stroke-width="1.4"/>
<line x1="89.3" y1="1363.6" x2="95.8" y2="1363.6" stroke="#d3dca4" stroke-width="1.4"/>
<line x1="215.5" y1="1493.7" x2="215.5" y2="1500.5" stroke="#d3dca4" stroke-width="1.4"/>
<line x1="89.3" y1="1447.9" x2="95.8" y2="1447.9" stroke="#d3dca4" stroke-width="1.4"/>
<line x1="217" y1="1493.7" x2="217" y2="1500.5" stroke="#d3dca4" stroke-width="1.4"/>
<line x1="89.3" y1="1262.7" x2="95.8" y2="1262.7" stroke="#d3dca4" stroke-width="1.4"/>
<line x1="237.5" y1="1493.7" x2="237.5" y2="1500.5" stroke="#d3dca4" stroke-width="1.4"/>
<line x1="89.3" y1="1263.2" x2="95.8" y2="1263.2" stroke="#d3dca4" stroke-width="1.4"/>
<line x1="256.5" y1="1493.7" x2="256.5" y2="1500.5" stroke="#d3dca4" stroke-width="1.4"/>
<line x1="89.3" y1="1436.1" x2="95.8" y2="1436.1" stroke="#d3dca4" stroke-width="1.4"/>
<line x1="270.5" y1="1493.7" x2="270.5" y2="1500.5" stroke="#d3dca4" stroke-width="1.4"/>
<line x1="89.3" y1="1353.7" x2="95.8" y2="1353.7" stroke="#d3dca4" stroke-width="1.4"/>
<line x1="345.7" y1="1493.7" x2="345.7" y2="1500.5" stroke="#d3dca4" stroke-width="1.4"/>
<circle cx="99.6" cy="1472.3" r="3" fill="#b5c46a" stroke="#a3b452" stroke-width="0.9" fill-opacity="0.9"/>
<circle cx="123.3" cy="1401.8" r="3" fill="#b5c46a" stroke="#a3b452" stroke-width="0.9" fill-opacity="0.9"/>
<circle cx="137.6" cy="1302.7" r="3" fill="#b5c46a" stroke="#a3b452" stroke-width="0.9" fill-opacity="0.9"/>
<circle cx="157.8" cy="1362.4" r="3" fill="#b5c46a" stroke="#a3b452" stroke-width="0.9" fill-opacity="0.9"/>
<circle cx="167.9" cy="1441.8" r="3" fill="#b5c46a" stroke="#a3b452" stroke-width="0.9" fill-opacity="0.9"/>
<circle cx="183" cy="1385" r="3" fill="#b5c46a" stroke="#a3b452" stroke-width="0.9" fill-opacity="0.9"/>
<circle cx="215.5" cy="1363.6" r="3" fill="#b5c46a" stroke="#a3b452" stroke-width="0.9" fill-opacity="0.9"/>
<circle cx="217" cy="1447.9" r="3" fill="#b5c46a" stroke="#a3b452" stroke-width="0.9" fill-opacity="0.9"/>
<circle cx="237.5" cy="1262.7" r="3" fill="#b5c46a" stroke="#a3b452" stroke-width="0.9" fill-opacity="0.9"/>
<circle cx="256.5" cy="1263.2" r="3" fill="#b5c46a" stroke="#a3b452" stroke-width="0.9" fill-opacity="0.9"/>
<circle cx="270.5" cy="1436.1" r="3" fill="#b5c46a" stroke="#a3b452" stroke-width="0.9" fill-opacity="0.9"/>
<circle cx="345.7" cy="1353.7" r="3" fill="#b5c46a" stroke="#a3b452" stroke-width="0.9" fill-opacity="0.9"/>
<text x="335.4" y="1449.9" font-size="15" text-anchor="end">Spearman</text>
<text x="341.5" y="1467.2" font-size="15" text-anchor="end"><tspan font-style="italic">R</tspan><tspan dx="1.2"> = </tspan><tspan dx="1">0.364</tspan></text>
<text x="341.5" y="1485.2" font-size="15" text-anchor="end"><tspan font-style="italic">P</tspan><tspan dx="1.2"> = </tspan><tspan dx="1">0.246</tspan></text>
<rect x="86.8" y="1207.5" width="271.3" height="294.2" fill="none" stroke="#000" stroke-width="1.8"/>
<line x1="79.8" y1="1250.1" x2="86.8" y2="1250.1" stroke="#000" stroke-width="1.8"/>
<text x="75.3" y="1255.3" font-size="15" text-anchor="end">0.5</text>
<line x1="79.8" y1="1319.9" x2="86.8" y2="1319.9" stroke="#000" stroke-width="1.8"/>
<text x="75.3" y="1325.1" font-size="15" text-anchor="end">0.0</text>
<line x1="79.8" y1="1390" x2="86.8" y2="1390" stroke="#000" stroke-width="1.8"/>
<text x="75.3" y="1395.2" font-size="15" text-anchor="end">-0.5</text>
<line x1="79.8" y1="1460.3" x2="86.8" y2="1460.3" stroke="#000" stroke-width="1.8"/>
<text x="75.3" y="1465.5" font-size="15" text-anchor="end">-1.0</text>
<line x1="111.5" y1="1501.7" x2="111.5" y2="1508.7" stroke="#000" stroke-width="1.8"/>
<text x="111.5" y="1525.1" font-size="15" text-anchor="middle">-0.5</text>
<line x1="182.2" y1="1501.7" x2="182.2" y2="1508.7" stroke="#000" stroke-width="1.8"/>
<text x="182.2" y="1525.1" font-size="15" text-anchor="middle">0.0</text>
<line x1="252.8" y1="1501.7" x2="252.8" y2="1508.7" stroke="#000" stroke-width="1.8"/>
<text x="252.8" y="1525.1" font-size="15" text-anchor="middle">0.5</text>
<line x1="323.5" y1="1501.7" x2="323.5" y2="1508.7" stroke="#000" stroke-width="1.8"/>
<text x="323.5" y="1525.1" font-size="15" text-anchor="middle">1.0</text>
<text x="223" y="1545.3" font-size="17" text-anchor="middle">YAP</text>
<text x="42" y="1355.5" font-size="17" text-anchor="middle" transform="rotate(-90 42 1355.5)">SP1</text>
<text x="444.5" y="1201.2" font-size="32" font-weight="bold">I</text>
<path d="M514.3 1311.2 L518.5 1312.3 L522.6 1313.4 L526.8 1314.5 L531 1315.5 L535.1 1316.5 L539.3 1317.4 L543.4 1318.3 L547.6 1319.2 L551.8 1320 L555.9 1320.8 L560.1 1321.5 L564.3 1322.1 L568.4 1322.7 L572.6 1323.2 L576.7 1323.6 L580.9 1324 L585.1 1324.3 L589.2 1324.4 L593.4 1324.5 L597.6 1324.5 L601.7 1324.3 L605.9 1324.1 L610 1323.7 L614.2 1323.2 L618.4 1322.5 L622.5 1321.8 L626.7 1320.8 L630.9 1319.8 L635 1318.6 L639.2 1317.3 L643.3 1315.8 L647.5 1314.2 L651.7 1312.5 L655.8 1310.6 L660 1308.7 L664.2 1306.6 L668.3 1304.4 L672.5 1302.1 L676.6 1299.7 L680.8 1297.3 L685 1294.7 L689.1 1292.1 L693.3 1289.4 L697.5 1286.7 L701.6 1283.9 L705.8 1281 L709.9 1278.1 L714.1 1275.1 L718.3 1272.1 L722.4 1269 L726.6 1265.9 L730.8 1262.8 L734.9 1259.7 L739.1 1256.5 L743.2 1253.3 L747.4 1250 L751.6 1246.8 L755.7 1243.5 L759.9 1240.2 L759.9 1435.2 L755.7 1434 L751.6 1432.8 L747.4 1431.7 L743.2 1430.6 L739.1 1429.4 L734.9 1428.4 L730.8 1427.3 L726.6 1426.3 L722.4 1425.3 L718.3 1424.4 L714.1 1423.5 L709.9 1422.6 L705.8 1421.8 L701.6 1421 L697.5 1420.3 L693.3 1419.7 L689.1 1419.1 L685 1418.6 L680.8 1418.1 L676.6 1417.8 L672.5 1417.5 L668.3 1417.3 L664.2 1417.2 L660 1417.3 L655.8 1417.4 L651.7 1417.7 L647.5 1418 L643.3 1418.5 L639.2 1419.2 L635 1420 L630.9 1420.9 L626.7 1421.9 L622.5 1423.1 L618.4 1424.4 L614.2 1425.9 L610 1427.5 L605.9 1429.2 L601.7 1431.1 L597.6 1433 L593.4 1435.1 L589.2 1437.3 L585.1 1439.5 L580.9 1441.9 L576.7 1444.4 L572.6 1446.9 L568.4 1449.5 L564.3 1452.2 L560.1 1455 L555.9 1457.8 L551.8 1460.7 L547.6 1463.6 L543.4 1466.5 L539.3 1469.6 L535.1 1472.6 L531 1475.7 L526.8 1478.8 L522.6 1482 L518.5 1485.2 L514.3 1488.4Z" fill="#ececec"/>
<line x1="514.3" y1="1399.8" x2="759.9" y2="1337.7" stroke="#a6b94a" stroke-width="2"/>
<line x1="504.5" y1="1393.9" x2="511" y2="1393.9" stroke="#d3dca4" stroke-width="1.4"/>
<line x1="514.3" y1="1493.7" x2="514.3" y2="1500.5" stroke="#d3dca4" stroke-width="1.4"/>
<line x1="504.5" y1="1422.5" x2="511" y2="1422.5" stroke="#d3dca4" stroke-width="1.4"/>
<line x1="542.9" y1="1493.7" x2="542.9" y2="1500.5" stroke="#d3dca4" stroke-width="1.4"/>
<line x1="504.5" y1="1450.1" x2="511" y2="1450.1" stroke="#d3dca4" stroke-width="1.4"/>
<line x1="550.1" y1="1493.7" x2="550.1" y2="1500.5" stroke="#d3dca4" stroke-width="1.4"/>
<line x1="504.5" y1="1268.2" x2="511" y2="1268.2" stroke="#d3dca4" stroke-width="1.4"/>
<line x1="556.7" y1="1493.7" x2="556.7" y2="1500.5" stroke="#d3dca4" stroke-width="1.4"/>
<line x1="504.5" y1="1322.4" x2="511" y2="1322.4" stroke="#d3dca4" stroke-width="1.4"/>
<line x1="597.2" y1="1493.7" x2="597.2" y2="1500.5" stroke="#d3dca4" stroke-width="1.4"/>
<line x1="504.5" y1="1403.3" x2="511" y2="1403.3" stroke="#d3dca4" stroke-width="1.4"/>
<line x1="616.9" y1="1493.7" x2="616.9" y2="1500.5" stroke="#d3dca4" stroke-width="1.4"/>
<line x1="504.5" y1="1295" x2="511" y2="1295" stroke="#d3dca4" stroke-width="1.4"/>
<line x1="641.6" y1="1493.7" x2="641.6" y2="1500.5" stroke="#d3dca4" stroke-width="1.4"/>
<line x1="504.5" y1="1484.4" x2="511" y2="1484.4" stroke="#d3dca4" stroke-width="1.4"/>
<line x1="643" y1="1493.7" x2="643" y2="1500.5" stroke="#d3dca4" stroke-width="1.4"/>
<line x1="504.5" y1="1408.7" x2="511" y2="1408.7" stroke="#d3dca4" stroke-width="1.4"/>
<line x1="653.4" y1="1493.7" x2="653.4" y2="1500.5" stroke="#d3dca4" stroke-width="1.4"/>
<line x1="504.5" y1="1384.5" x2="511" y2="1384.5" stroke="#d3dca4" stroke-width="1.4"/>
<line x1="713.3" y1="1493.7" x2="713.3" y2="1500.5" stroke="#d3dca4" stroke-width="1.4"/>
<line x1="504.5" y1="1391.9" x2="511" y2="1391.9" stroke="#d3dca4" stroke-width="1.4"/>
<line x1="759.2" y1="1493.7" x2="759.2" y2="1500.5" stroke="#d3dca4" stroke-width="1.4"/>
<line x1="504.5" y1="1221" x2="511" y2="1221" stroke="#d3dca4" stroke-width="1.4"/>
<line x1="759.9" y1="1493.7" x2="759.9" y2="1500.5" stroke="#d3dca4" stroke-width="1.4"/>
<circle cx="514.3" cy="1393.9" r="3" fill="#b5c46a" stroke="#a3b452" stroke-width="0.9" fill-opacity="0.9"/>
<circle cx="542.9" cy="1422.5" r="3" fill="#b5c46a" stroke="#a3b452" stroke-width="0.9" fill-opacity="0.9"/>
<circle cx="550.1" cy="1450.1" r="3" fill="#b5c46a" stroke="#a3b452" stroke-width="0.9" fill-opacity="0.9"/>
<circle cx="556.7" cy="1268.2" r="3" fill="#b5c46a" stroke="#a3b452" stroke-width="0.9" fill-opacity="0.9"/>
<circle cx="597.2" cy="1322.4" r="3" fill="#b5c46a" stroke="#a3b452" stroke-width="0.9" fill-opacity="0.9"/>
<circle cx="616.9" cy="1403.3" r="3" fill="#b5c46a" stroke="#a3b452" stroke-width="0.9" fill-opacity="0.9"/>
<circle cx="641.6" cy="1295" r="3" fill="#b5c46a" stroke="#a3b452" stroke-width="0.9" fill-opacity="0.9"/>
<circle cx="643" cy="1484.4" r="3" fill="#b5c46a" stroke="#a3b452" stroke-width="0.9" fill-opacity="0.9"/>
<circle cx="653.4" cy="1408.7" r="3" fill="#b5c46a" stroke="#a3b452" stroke-width="0.9" fill-opacity="0.9"/>
<circle cx="713.3" cy="1384.5" r="3" fill="#b5c46a" stroke="#a3b452" stroke-width="0.9" fill-opacity="0.9"/>
<circle cx="759.2" cy="1391.9" r="3" fill="#b5c46a" stroke="#a3b452" stroke-width="0.9" fill-opacity="0.9"/>
<circle cx="759.9" cy="1221" r="3" fill="#b5c46a" stroke="#a3b452" stroke-width="0.9" fill-opacity="0.9"/>
<text x="750.3" y="1449.9" font-size="15" text-anchor="end">Spearman</text>
<text x="755.7" y="1467.2" font-size="15" text-anchor="end"><tspan font-style="italic">R</tspan><tspan dx="1.2"> = </tspan><tspan dx="1">0.315</tspan></text>
<text x="755.7" y="1485.2" font-size="15" text-anchor="end"><tspan font-style="italic">P</tspan><tspan dx="1.2"> = </tspan><tspan dx="1">0.319</tspan></text>
<rect x="502" y="1207.5" width="270.5" height="294.2" fill="none" stroke="#000" stroke-width="1.8"/>
<line x1="495" y1="1295" x2="502" y2="1295" stroke="#000" stroke-width="1.8"/>
<text x="490.5" y="1300.2" font-size="15" text-anchor="end">0.0</text>
<line x1="495" y1="1395.2" x2="502" y2="1395.2" stroke="#000" stroke-width="1.8"/>
<text x="490.5" y="1400.4" font-size="15" text-anchor="end">-0.2</text>
<line x1="495" y1="1496" x2="502" y2="1496" stroke="#000" stroke-width="1.8"/>
<text x="490.5" y="1501.2" font-size="15" text-anchor="end">-0.4</text>
<line x1="528.4" y1="1501.7" x2="528.4" y2="1508.7" stroke="#000" stroke-width="1.8"/>
<text x="528.4" y="1525.1" font-size="15" text-anchor="middle">-1.0</text>
<line x1="610.5" y1="1501.7" x2="610.5" y2="1508.7" stroke="#000" stroke-width="1.8"/>
<text x="610.5" y="1525.1" font-size="15" text-anchor="middle">-0.5</text>
<line x1="692.4" y1="1501.7" x2="692.4" y2="1508.7" stroke="#000" stroke-width="1.8"/>
<text x="692.4" y="1525.1" font-size="15" text-anchor="middle">0.0</text>
<text x="636.5" y="1545.3" font-size="17" text-anchor="middle">SP1</text>
<text x="456.9" y="1355" font-size="17" text-anchor="middle" transform="rotate(-90 456.9 1355)">SRC</text>
<text x="837.3" y="1201.6" font-size="32" font-weight="bold">J</text>
<path d="M918.2 1392.5 L922.5 1391.1 L926.9 1389.6 L931.2 1388.1 L935.6 1386.7 L939.9 1385.1 L944.3 1383.6 L948.6 1382.1 L952.9 1380.5 L957.3 1378.9 L961.6 1377.3 L966 1375.7 L970.3 1374 L974.7 1372.3 L979 1370.5 L983.3 1368.7 L987.7 1366.8 L992 1364.9 L996.4 1363 L1000.7 1360.9 L1005 1358.8 L1009.4 1356.6 L1013.7 1354.4 L1018.1 1352 L1022.4 1349.6 L1026.8 1347.1 L1031.1 1344.4 L1035.4 1341.7 L1039.8 1338.9 L1044.1 1336 L1048.5 1333 L1052.8 1329.8 L1057.2 1326.6 L1061.5 1323.4 L1065.8 1320 L1070.2 1316.5 L1074.5 1313 L1078.9 1309.5 L1083.2 1305.8 L1087.6 1302.1 L1091.9 1298.4 L1096.2 1294.6 L1100.6 1290.8 L1104.9 1286.9 L1109.3 1283 L1113.6 1279.1 L1117.9 1275.1 L1122.3 1271.2 L1126.6 1267.2 L1131 1263.1 L1135.3 1259.1 L1139.7 1255 L1144 1251 L1148.3 1246.9 L1152.7 1242.8 L1157 1238.7 L1161.4 1234.5 L1165.7 1230.4 L1170.1 1226.3 L1174.4 1222.1 L1174.4 1331.9 L1170.1 1333.3 L1165.7 1334.7 L1161.4 1336.1 L1157 1337.5 L1152.7 1338.9 L1148.3 1340.4 L1144 1341.8 L1139.7 1343.3 L1135.3 1344.8 L1131 1346.3 L1126.6 1347.8 L1122.3 1349.3 L1117.9 1350.9 L1113.6 1352.5 L1109.3 1354.1 L1104.9 1355.8 L1100.6 1357.4 L1096.2 1359.2 L1091.9 1360.9 L1087.6 1362.7 L1083.2 1364.6 L1078.9 1366.5 L1074.5 1368.4 L1070.2 1370.5 L1065.8 1372.6 L1061.5 1374.7 L1057.2 1377 L1052.8 1379.3 L1048.5 1381.8 L1044.1 1384.3 L1039.8 1386.9 L1035.4 1389.6 L1031.1 1392.5 L1026.8 1395.4 L1022.4 1398.4 L1018.1 1401.5 L1013.7 1404.7 L1009.4 1408 L1005 1411.3 L1000.7 1414.8 L996.4 1418.3 L992 1421.9 L987.7 1425.5 L983.3 1429.2 L979 1432.9 L974.7 1436.7 L970.3 1440.5 L966 1444.4 L961.6 1448.3 L957.3 1452.2 L952.9 1456.1 L948.6 1460.1 L944.3 1464.1 L939.9 1468.1 L935.6 1472.2 L931.2 1476.2 L926.9 1480.3 L922.5 1484.4 L918.2 1488.5Z" fill="#ececec"/>
<line x1="918.2" y1="1440.5" x2="1174.4" y2="1277" stroke="#a6b94a" stroke-width="2"/>
<line x1="908.1" y1="1474.1" x2="914.6" y2="1474.1" stroke="#d3dca4" stroke-width="1.4"/>
<line x1="918.2" y1="1493.7" x2="918.2" y2="1500.5" stroke="#d3dca4" stroke-width="1.4"/>
<line x1="908.1" y1="1407" x2="914.6" y2="1407" stroke="#d3dca4" stroke-width="1.4"/>
<line x1="952.2" y1="1493.7" x2="952.2" y2="1500.5" stroke="#d3dca4" stroke-width="1.4"/>
<line x1="908.1" y1="1427" x2="914.6" y2="1427" stroke="#d3dca4" stroke-width="1.4"/>
<line x1="953.4" y1="1493.7" x2="953.4" y2="1500.5" stroke="#d3dca4" stroke-width="1.4"/>
<line x1="908.1" y1="1391.7" x2="914.6" y2="1391.7" stroke="#d3dca4" stroke-width="1.4"/>
<line x1="981.8" y1="1493.7" x2="981.8" y2="1500.5" stroke="#d3dca4" stroke-width="1.4"/>
<line x1="908.1" y1="1386.3" x2="914.6" y2="1386.3" stroke="#d3dca4" stroke-width="1.4"/>
<line x1="995.1" y1="1493.7" x2="995.1" y2="1500.5" stroke="#d3dca4" stroke-width="1.4"/>
<line x1="908.1" y1="1379.6" x2="914.6" y2="1379.6" stroke="#d3dca4" stroke-width="1.4"/>
<line x1="1013.1" y1="1493.7" x2="1013.1" y2="1500.5" stroke="#d3dca4" stroke-width="1.4"/>
<line x1="908.1" y1="1413.9" x2="914.6" y2="1413.9" stroke="#d3dca4" stroke-width="1.4"/>
<line x1="1057.2" y1="1493.7" x2="1057.2" y2="1500.5" stroke="#d3dca4" stroke-width="1.4"/>
<line x1="908.1" y1="1289.1" x2="914.6" y2="1289.1" stroke="#d3dca4" stroke-width="1.4"/>
<line x1="1060" y1="1493.7" x2="1060" y2="1500.5" stroke="#d3dca4" stroke-width="1.4"/>
<line x1="908.1" y1="1298.7" x2="914.6" y2="1298.7" stroke="#d3dca4" stroke-width="1.4"/>
<line x1="1082.9" y1="1493.7" x2="1082.9" y2="1500.5" stroke="#d3dca4" stroke-width="1.4"/>
<line x1="908.1" y1="1327.8" x2="914.6" y2="1327.8" stroke="#d3dca4" stroke-width="1.4"/>
<line x1="1096.7" y1="1493.7" x2="1096.7" y2="1500.5" stroke="#d3dca4" stroke-width="1.4"/>
<line x1="908.1" y1="1267.4" x2="914.6" y2="1267.4" stroke="#d3dca4" stroke-width="1.4"/>
<line x1="1117.9" y1="1493.7" x2="1117.9" y2="1500.5" stroke="#d3dca4" stroke-width="1.4"/>
<line x1="908.1" y1="1338.9" x2="914.6" y2="1338.9" stroke="#d3dca4" stroke-width="1.4"/>
<line x1="1174.4" y1="1493.7" x2="1174.4" y2="1500.5" stroke="#d3dca4" stroke-width="1.4"/>
<circle cx="918.2" cy="1474.1" r="3" fill="#b5c46a" stroke="#a3b452" stroke-width="0.9" fill-opacity="0.9"/>
<circle cx="952.2" cy="1407" r="3" fill="#b5c46a" stroke="#a3b452" stroke-width="0.9" fill-opacity="0.9"/>
<circle cx="953.4" cy="1427" r="3" fill="#b5c46a" stroke="#a3b452" stroke-width="0.9" fill-opacity="0.9"/>
<circle cx="981.8" cy="1391.7" r="3" fill="#b5c46a" stroke="#a3b452" stroke-width="0.9" fill-opacity="0.9"/>
<circle cx="995.1" cy="1386.3" r="3" fill="#b5c46a" stroke="#a3b452" stroke-width="0.9" fill-opacity="0.9"/>
<circle cx="1013.1" cy="1379.6" r="3" fill="#b5c46a" stroke="#a3b452" stroke-width="0.9" fill-opacity="0.9"/>
<circle cx="1057.2" cy="1413.9" r="3" fill="#b5c46a" stroke="#a3b452" stroke-width="0.9" fill-opacity="0.9"/>
<circle cx="1060" cy="1289.1" r="3" fill="#b5c46a" stroke="#a3b452" stroke-width="0.9" fill-opacity="0.9"/>
<circle cx="1082.9" cy="1298.7" r="3" fill="#b5c46a" stroke="#a3b452" stroke-width="0.9" fill-opacity="0.9"/>
<circle cx="1096.7" cy="1327.8" r="3" fill="#b5c46a" stroke="#a3b452" stroke-width="0.9" fill-opacity="0.9"/>
<circle cx="1117.9" cy="1267.4" r="3" fill="#b5c46a" stroke="#a3b452" stroke-width="0.9" fill-opacity="0.9"/>
<circle cx="1174.4" cy="1338.9" r="3" fill="#b5c46a" stroke="#a3b452" stroke-width="0.9" fill-opacity="0.9"/>
<text x="1164.8" y="1449.9" font-size="15" text-anchor="end">Spearman</text>
<text x="1170.2" y="1467.2" font-size="15" text-anchor="end"><tspan font-style="italic">R</tspan><tspan dx="1.2"> = </tspan><tspan dx="1">0.818</tspan></text>
<text x="1170.2" y="1485.2" font-size="15" text-anchor="end"><tspan font-style="italic">P</tspan><tspan dx="1.2"> = </tspan><tspan dx="1">0.002</tspan></text>
<rect x="905.6" y="1207.5" width="281.8" height="294.2" fill="none" stroke="#000" stroke-width="1.8"/>
<line x1="898.6" y1="1234.1" x2="905.6" y2="1234.1" stroke="#000" stroke-width="1.8"/>
<text x="894.1" y="1239.3" font-size="15" text-anchor="end">1</text>
<line x1="898.6" y1="1334.5" x2="905.6" y2="1334.5" stroke="#000" stroke-width="1.8"/>
<text x="894.1" y="1339.7" font-size="15" text-anchor="end">0</text>
<line x1="898.6" y1="1435.1" x2="905.6" y2="1435.1" stroke="#000" stroke-width="1.8"/>
<text x="894.1" y="1440.3" font-size="15" text-anchor="end">-1</text>
<line x1="932.2" y1="1501.7" x2="932.2" y2="1508.7" stroke="#000" stroke-width="1.8"/>
<text x="932.2" y="1525.1" font-size="15" text-anchor="middle">-0.5</text>
<line x1="1010.1" y1="1501.7" x2="1010.1" y2="1508.7" stroke="#000" stroke-width="1.8"/>
<text x="1010.1" y="1525.1" font-size="15" text-anchor="middle">0.0</text>
<line x1="1088" y1="1501.7" x2="1088" y2="1508.7" stroke="#000" stroke-width="1.8"/>
<text x="1088" y="1525.1" font-size="15" text-anchor="middle">0.5</text>
<line x1="1165.7" y1="1501.7" x2="1165.7" y2="1508.7" stroke="#000" stroke-width="1.8"/>
<text x="1165.7" y="1525.1" font-size="15" text-anchor="middle">1.0</text>
<text x="1046.9" y="1545.3" font-size="17" text-anchor="middle">YAP</text>
<text x="871.8" y="1355.6" font-size="17" text-anchor="middle" transform="rotate(-90 871.8 1355.6)">JAG1</text>
<text x="1252.7" y="1201.2" font-size="32" font-weight="bold">K</text>
<path d="M1343.7 1373.2 L1347.9 1372.1 L1352 1371.1 L1356.2 1370 L1360.4 1369 L1364.5 1367.9 L1368.7 1366.8 L1372.9 1365.7 L1377 1364.6 L1381.2 1363.5 L1385.4 1362.4 L1389.5 1361.2 L1393.7 1360 L1397.9 1358.8 L1402 1357.6 L1406.2 1356.3 L1410.4 1355 L1414.6 1353.7 L1418.7 1352.3 L1422.9 1350.9 L1427.1 1349.4 L1431.2 1347.9 L1435.4 1346.2 L1439.6 1344.5 L1443.7 1342.8 L1447.9 1340.9 L1452.1 1338.9 L1456.2 1336.8 L1460.4 1334.6 L1464.6 1332.3 L1468.7 1329.8 L1472.9 1327.2 L1477.1 1324.4 L1481.2 1321.5 L1485.4 1318.5 L1489.6 1315.4 L1493.7 1312.1 L1497.9 1308.8 L1502.1 1305.3 L1506.2 1301.7 L1510.4 1298.1 L1514.6 1294.4 L1518.7 1290.6 L1522.9 1286.8 L1527.1 1283 L1531.3 1279 L1535.4 1275.1 L1539.6 1271.1 L1543.8 1267.1 L1547.9 1263 L1552.1 1259 L1556.3 1254.9 L1560.4 1250.7 L1564.6 1246.6 L1568.8 1242.5 L1572.9 1238.3 L1577.1 1234.1 L1581.3 1229.9 L1585.4 1225.7 L1589.6 1221.5 L1589.6 1329.5 L1585.4 1330.5 L1581.3 1331.6 L1577.1 1332.7 L1572.9 1333.8 L1568.8 1334.9 L1564.6 1336 L1560.4 1337.1 L1556.3 1338.2 L1552.1 1339.4 L1547.9 1340.6 L1543.8 1341.8 L1539.6 1343 L1535.4 1344.3 L1531.3 1345.6 L1527.1 1347 L1522.9 1348.3 L1518.7 1349.8 L1514.6 1351.3 L1510.4 1352.8 L1506.2 1354.5 L1502.1 1356.2 L1497.9 1358 L1493.7 1359.9 L1489.6 1361.9 L1485.4 1364 L1481.2 1366.3 L1477.1 1368.6 L1472.9 1371.1 L1468.7 1373.8 L1464.6 1376.6 L1460.4 1379.5 L1456.2 1382.5 L1452.1 1385.7 L1447.9 1389 L1443.7 1392.4 L1439.6 1395.8 L1435.4 1399.4 L1431.2 1403.1 L1427.1 1406.8 L1422.9 1410.6 L1418.7 1414.4 L1414.6 1418.3 L1410.4 1422.2 L1406.2 1426.2 L1402 1430.1 L1397.9 1434.2 L1393.7 1438.2 L1389.5 1442.3 L1385.4 1446.4 L1381.2 1450.5 L1377 1454.7 L1372.9 1458.8 L1368.7 1463 L1364.5 1467.2 L1360.4 1471.4 L1356.2 1475.6 L1352 1479.8 L1347.9 1484 L1343.7 1488.2Z" fill="#ececec"/>
<line x1="1343.7" y1="1430.7" x2="1589.6" y2="1275.5" stroke="#a6b94a" stroke-width="2"/>
<line x1="1333.6" y1="1406" x2="1340.1" y2="1406" stroke="#d3dca4" stroke-width="1.4"/>
<line x1="1343.7" y1="1493.7" x2="1343.7" y2="1500.5" stroke="#d3dca4" stroke-width="1.4"/>
<line x1="1333.6" y1="1486.4" x2="1340.1" y2="1486.4" stroke="#d3dca4" stroke-width="1.4"/>
<line x1="1399.9" y1="1493.7" x2="1399.9" y2="1500.5" stroke="#d3dca4" stroke-width="1.4"/>
<line x1="1333.6" y1="1354" x2="1340.1" y2="1354" stroke="#d3dca4" stroke-width="1.4"/>
<line x1="1415.7" y1="1493.7" x2="1415.7" y2="1500.5" stroke="#d3dca4" stroke-width="1.4"/>
<line x1="1333.6" y1="1361.6" x2="1340.1" y2="1361.6" stroke="#d3dca4" stroke-width="1.4"/>
<line x1="1423.8" y1="1493.7" x2="1423.8" y2="1500.5" stroke="#d3dca4" stroke-width="1.4"/>
<line x1="1333.6" y1="1355.9" x2="1340.1" y2="1355.9" stroke="#d3dca4" stroke-width="1.4"/>
<line x1="1441.6" y1="1493.7" x2="1441.6" y2="1500.5" stroke="#d3dca4" stroke-width="1.4"/>
<line x1="1333.6" y1="1408.7" x2="1340.1" y2="1408.7" stroke="#d3dca4" stroke-width="1.4"/>
<line x1="1448.2" y1="1493.7" x2="1448.2" y2="1500.5" stroke="#d3dca4" stroke-width="1.4"/>
<line x1="1333.6" y1="1308.6" x2="1340.1" y2="1308.6" stroke="#d3dca4" stroke-width="1.4"/>
<line x1="1456.4" y1="1493.7" x2="1456.4" y2="1500.5" stroke="#d3dca4" stroke-width="1.4"/>
<line x1="1333.6" y1="1313.5" x2="1340.1" y2="1313.5" stroke="#d3dca4" stroke-width="1.4"/>
<line x1="1504.5" y1="1493.7" x2="1504.5" y2="1500.5" stroke="#d3dca4" stroke-width="1.4"/>
<line x1="1333.6" y1="1313.5" x2="1340.1" y2="1313.5" stroke="#d3dca4" stroke-width="1.4"/>
<line x1="1518" y1="1493.7" x2="1518" y2="1500.5" stroke="#d3dca4" stroke-width="1.4"/>
<line x1="1333.6" y1="1311.6" x2="1340.1" y2="1311.6" stroke="#d3dca4" stroke-width="1.4"/>
<line x1="1552.1" y1="1493.7" x2="1552.1" y2="1500.5" stroke="#d3dca4" stroke-width="1.4"/>
<line x1="1333.6" y1="1340.2" x2="1340.1" y2="1340.2" stroke="#d3dca4" stroke-width="1.4"/>
<line x1="1563.9" y1="1493.7" x2="1563.9" y2="1500.5" stroke="#d3dca4" stroke-width="1.4"/>
<line x1="1333.6" y1="1240.8" x2="1340.1" y2="1240.8" stroke="#d3dca4" stroke-width="1.4"/>
<line x1="1589.6" y1="1493.7" x2="1589.6" y2="1500.5" stroke="#d3dca4" stroke-width="1.4"/>
<circle cx="1343.7" cy="1406" r="3" fill="#b5c46a" stroke="#a3b452" stroke-width="0.9" fill-opacity="0.9"/>
<circle cx="1399.9" cy="1486.4" r="3" fill="#b5c46a" stroke="#a3b452" stroke-width="0.9" fill-opacity="0.9"/>
<circle cx="1415.7" cy="1354" r="3" fill="#b5c46a" stroke="#a3b452" stroke-width="0.9" fill-opacity="0.9"/>
<circle cx="1423.8" cy="1361.6" r="3" fill="#b5c46a" stroke="#a3b452" stroke-width="0.9" fill-opacity="0.9"/>
<circle cx="1441.6" cy="1355.9" r="3" fill="#b5c46a" stroke="#a3b452" stroke-width="0.9" fill-opacity="0.9"/>
<circle cx="1448.2" cy="1408.7" r="3" fill="#b5c46a" stroke="#a3b452" stroke-width="0.9" fill-opacity="0.9"/>
<circle cx="1456.4" cy="1308.6" r="3" fill="#b5c46a" stroke="#a3b452" stroke-width="0.9" fill-opacity="0.9"/>
<circle cx="1504.5" cy="1313.5" r="3" fill="#b5c46a" stroke="#a3b452" stroke-width="0.9" fill-opacity="0.9"/>
<circle cx="1518" cy="1313.5" r="3" fill="#b5c46a" stroke="#a3b452" stroke-width="0.9" fill-opacity="0.9"/>
<circle cx="1552.1" cy="1311.6" r="3" fill="#b5c46a" stroke="#a3b452" stroke-width="0.9" fill-opacity="0.9"/>
<circle cx="1563.9" cy="1340.2" r="3" fill="#b5c46a" stroke="#a3b452" stroke-width="0.9" fill-opacity="0.9"/>
<circle cx="1589.6" cy="1240.8" r="3" fill="#b5c46a" stroke="#a3b452" stroke-width="0.9" fill-opacity="0.9"/>
<text x="1579.7" y="1449.9" font-size="15" text-anchor="end">Spearman</text>
<text x="1585.6" y="1467.2" font-size="15" text-anchor="end"><tspan font-style="italic">R</tspan><tspan dx="1.2"> = </tspan><tspan dx="1">0.776</tspan></text>
<text x="1585.1" y="1485.2" font-size="15" text-anchor="end"><tspan font-style="italic">P</tspan><tspan dx="1.2"> = </tspan><tspan dx="1">0.005</tspan></text>
<rect x="1331.1" y="1207.5" width="270.5" height="294.2" fill="none" stroke="#000" stroke-width="1.8"/>
<line x1="1324.1" y1="1216.9" x2="1331.1" y2="1216.9" stroke="#000" stroke-width="1.8"/>
<text x="1319.6" y="1222.1" font-size="15" text-anchor="end">0.5</text>
<line x1="1324.1" y1="1299" x2="1331.1" y2="1299" stroke="#000" stroke-width="1.8"/>
<text x="1319.6" y="1304.2" font-size="15" text-anchor="end">0.0</text>
<line x1="1324.1" y1="1381.1" x2="1331.1" y2="1381.1" stroke="#000" stroke-width="1.8"/>
<text x="1319.6" y="1386.3" font-size="15" text-anchor="end">-0.5</text>
<line x1="1324.1" y1="1463.5" x2="1331.1" y2="1463.5" stroke="#000" stroke-width="1.8"/>
<text x="1319.6" y="1468.7" font-size="15" text-anchor="end">-1.0</text>
<line x1="1390.3" y1="1501.7" x2="1390.3" y2="1508.7" stroke="#000" stroke-width="1.8"/>
<text x="1390.3" y="1525.1" font-size="15" text-anchor="middle">-1.0</text>
<line x1="1450.2" y1="1501.7" x2="1450.2" y2="1508.7" stroke="#000" stroke-width="1.8"/>
<text x="1450.2" y="1525.1" font-size="15" text-anchor="middle">-0.5</text>
<line x1="1509.9" y1="1501.7" x2="1509.9" y2="1508.7" stroke="#000" stroke-width="1.8"/>
<text x="1509.9" y="1525.1" font-size="15" text-anchor="middle">0.0</text>
<line x1="1569.8" y1="1501.7" x2="1569.8" y2="1508.7" stroke="#000" stroke-width="1.8"/>
<text x="1569.8" y="1525.1" font-size="15" text-anchor="middle">0.5</text>
<text x="1465.9" y="1545.3" font-size="17" text-anchor="middle">JAG1</text>
<text x="1286.7" y="1355.5" font-size="17" text-anchor="middle" transform="rotate(-90 1286.7 1355.5)">Notch1</text>
<text x="1664.9" y="1201.2" font-size="32" font-weight="bold">L</text>
<path d="M1758.4 1221.6 L1762.6 1225.4 L1766.7 1229.3 L1770.9 1233.1 L1775.1 1237 L1779.3 1240.8 L1783.4 1244.6 L1787.6 1248.4 L1791.8 1252.2 L1795.9 1255.9 L1800.1 1259.7 L1804.3 1263.4 L1808.5 1267.1 L1812.6 1270.7 L1816.8 1274.4 L1821 1278 L1825.1 1281.6 L1829.3 1285.1 L1833.5 1288.6 L1837.7 1292.1 L1841.8 1295.6 L1846 1299 L1850.2 1302.3 L1854.3 1305.6 L1858.5 1308.9 L1862.7 1312 L1866.9 1315.2 L1871 1318.2 L1875.2 1321.2 L1879.4 1324.1 L1883.5 1327 L1887.7 1329.7 L1891.9 1332.4 L1896 1335 L1900.2 1337.5 L1904.4 1339.9 L1908.6 1342.3 L1912.7 1344.5 L1916.9 1346.7 L1921.1 1348.7 L1925.2 1350.7 L1929.4 1352.6 L1933.6 1354.4 L1937.8 1356.1 L1941.9 1357.7 L1946.1 1359.3 L1950.3 1360.8 L1954.4 1362.2 L1958.6 1363.6 L1962.8 1364.9 L1967 1366.1 L1971.1 1367.3 L1975.3 1368.5 L1979.5 1369.6 L1983.6 1370.6 L1987.8 1371.7 L1992 1372.7 L1996.2 1373.6 L2000.3 1374.6 L2004.5 1375.5 L2004.5 1488.3 L2000.3 1484.7 L1996.2 1481.1 L1992 1477.5 L1987.8 1474 L1983.6 1470.5 L1979.5 1467 L1975.3 1463.6 L1971.1 1460.2 L1967 1456.9 L1962.8 1453.6 L1958.6 1450.4 L1954.4 1447.2 L1950.3 1444.1 L1946.1 1441.1 L1941.9 1438.1 L1937.8 1435.2 L1933.6 1432.4 L1929.4 1429.7 L1925.2 1427 L1921.1 1424.4 L1916.9 1422 L1912.7 1419.6 L1908.6 1417.3 L1904.4 1415.1 L1900.2 1413 L1896 1410.9 L1891.9 1409 L1887.7 1407.2 L1883.5 1405.4 L1879.4 1403.7 L1875.2 1402.1 L1871 1400.5 L1866.9 1399.1 L1862.7 1397.7 L1858.5 1396.3 L1854.3 1395 L1850.2 1393.8 L1846 1392.6 L1841.8 1391.5 L1837.7 1390.4 L1833.5 1389.3 L1829.3 1388.3 L1825.1 1387.3 L1821 1386.4 L1816.8 1385.5 L1812.6 1384.6 L1808.5 1383.7 L1804.3 1382.9 L1800.1 1382.1 L1795.9 1381.3 L1791.8 1380.5 L1787.6 1379.7 L1783.4 1379 L1779.3 1378.3 L1775.1 1377.6 L1770.9 1376.9 L1766.7 1376.2 L1762.6 1375.5 L1758.4 1374.8Z" fill="#ececec"/>
<line x1="1758.4" y1="1298.2" x2="2004.5" y2="1431.9" stroke="#a6b94a" stroke-width="2"/>
<line x1="1748.5" y1="1270.4" x2="1755" y2="1270.4" stroke="#d3dca4" stroke-width="1.4"/>
<line x1="1758.4" y1="1493.7" x2="1758.4" y2="1500.5" stroke="#d3dca4" stroke-width="1.4"/>
<line x1="1748.5" y1="1457.3" x2="1755" y2="1457.3" stroke="#d3dca4" stroke-width="1.4"/>
<line x1="1832.3" y1="1493.7" x2="1832.3" y2="1500.5" stroke="#d3dca4" stroke-width="1.4"/>
<line x1="1748.5" y1="1315.5" x2="1755" y2="1315.5" stroke="#d3dca4" stroke-width="1.4"/>
<line x1="1870.6" y1="1493.7" x2="1870.6" y2="1500.5" stroke="#d3dca4" stroke-width="1.4"/>
<line x1="1748.5" y1="1399.8" x2="1755" y2="1399.8" stroke="#d3dca4" stroke-width="1.4"/>
<line x1="1880.7" y1="1493.7" x2="1880.7" y2="1500.5" stroke="#d3dca4" stroke-width="1.4"/>
<line x1="1748.5" y1="1358.9" x2="1755" y2="1358.9" stroke="#d3dca4" stroke-width="1.4"/>
<line x1="1890.8" y1="1493.7" x2="1890.8" y2="1500.5" stroke="#d3dca4" stroke-width="1.4"/>
<line x1="1748.5" y1="1341.6" x2="1755" y2="1341.6" stroke="#d3dca4" stroke-width="1.4"/>
<line x1="1908.5" y1="1493.7" x2="1908.5" y2="1500.5" stroke="#d3dca4" stroke-width="1.4"/>
<line x1="1748.5" y1="1346.6" x2="1755" y2="1346.6" stroke="#d3dca4" stroke-width="1.4"/>
<line x1="1912.5" y1="1493.7" x2="1912.5" y2="1500.5" stroke="#d3dca4" stroke-width="1.4"/>
<line x1="1748.5" y1="1343.1" x2="1755" y2="1343.1" stroke="#d3dca4" stroke-width="1.4"/>
<line x1="1916.2" y1="1493.7" x2="1916.2" y2="1500.5" stroke="#d3dca4" stroke-width="1.4"/>
<line x1="1748.5" y1="1373.7" x2="1755" y2="1373.7" stroke="#d3dca4" stroke-width="1.4"/>
<line x1="1914.5" y1="1493.7" x2="1914.5" y2="1500.5" stroke="#d3dca4" stroke-width="1.4"/>
<line x1="1748.5" y1="1447.2" x2="1755" y2="1447.2" stroke="#d3dca4" stroke-width="1.4"/>
<line x1="1981" y1="1493.7" x2="1981" y2="1500.5" stroke="#d3dca4" stroke-width="1.4"/>
<line x1="1748.5" y1="1424.5" x2="1755" y2="1424.5" stroke="#d3dca4" stroke-width="1.4"/>
<line x1="2002.5" y1="1493.7" x2="2002.5" y2="1500.5" stroke="#d3dca4" stroke-width="1.4"/>
<line x1="1748.5" y1="1464" x2="1755" y2="1464" stroke="#d3dca4" stroke-width="1.4"/>
<line x1="2004" y1="1493.7" x2="2004" y2="1500.5" stroke="#d3dca4" stroke-width="1.4"/>
<circle cx="1758.4" cy="1270.4" r="3" fill="#b5c46a" stroke="#a3b452" stroke-width="0.9" fill-opacity="0.9"/>
<circle cx="1832.3" cy="1457.3" r="3" fill="#b5c46a" stroke="#a3b452" stroke-width="0.9" fill-opacity="0.9"/>
<circle cx="1870.6" cy="1315.5" r="3" fill="#b5c46a" stroke="#a3b452" stroke-width="0.9" fill-opacity="0.9"/>
<circle cx="1880.7" cy="1399.8" r="3" fill="#b5c46a" stroke="#a3b452" stroke-width="0.9" fill-opacity="0.9"/>
<circle cx="1890.8" cy="1358.9" r="3" fill="#b5c46a" stroke="#a3b452" stroke-width="0.9" fill-opacity="0.9"/>
<circle cx="1908.5" cy="1341.6" r="3" fill="#b5c46a" stroke="#a3b452" stroke-width="0.9" fill-opacity="0.9"/>
<circle cx="1912.5" cy="1346.6" r="3" fill="#b5c46a" stroke="#a3b452" stroke-width="0.9" fill-opacity="0.9"/>
<circle cx="1916.2" cy="1343.1" r="3" fill="#b5c46a" stroke="#a3b452" stroke-width="0.9" fill-opacity="0.9"/>
<circle cx="1914.5" cy="1373.7" r="3" fill="#b5c46a" stroke="#a3b452" stroke-width="0.9" fill-opacity="0.9"/>
<circle cx="1981" cy="1447.2" r="3" fill="#b5c46a" stroke="#a3b452" stroke-width="0.9" fill-opacity="0.9"/>
<circle cx="2002.5" cy="1424.5" r="3" fill="#b5c46a" stroke="#a3b452" stroke-width="0.9" fill-opacity="0.9"/>
<circle cx="2004" cy="1464" r="3" fill="#b5c46a" stroke="#a3b452" stroke-width="0.9" fill-opacity="0.9"/>
<text x="1994.6" y="1449.9" font-size="15" text-anchor="end">Spearman</text>
<text x="1995.8" y="1467.2" font-size="15" text-anchor="end"><tspan font-style="italic">R</tspan><tspan dx="1.2"> = </tspan><tspan dx="1">-0.503</tspan></text>
<text x="2000" y="1485.2" font-size="15" text-anchor="end"><tspan font-style="italic">P</tspan><tspan dx="1.2"> = </tspan><tspan dx="1">0.099</tspan></text>
<rect x="1746" y="1207.5" width="270.8" height="294.2" fill="none" stroke="#000" stroke-width="1.8"/>
<line x1="1739" y1="1244" x2="1746" y2="1244" stroke="#000" stroke-width="1.8"/>
<text x="1734.5" y="1249.2" font-size="15" text-anchor="end">0.5</text>
<line x1="1739" y1="1333.7" x2="1746" y2="1333.7" stroke="#000" stroke-width="1.8"/>
<text x="1734.5" y="1338.9" font-size="15" text-anchor="end">0.0</text>
<line x1="1739" y1="1423.5" x2="1746" y2="1423.5" stroke="#000" stroke-width="1.8"/>
<text x="1734.5" y="1428.7" font-size="15" text-anchor="end">-0.5</text>
<line x1="1770.7" y1="1501.7" x2="1770.7" y2="1508.7" stroke="#000" stroke-width="1.8"/>
<text x="1770.7" y="1525.1" font-size="15" text-anchor="middle">-0.8</text>
<line x1="1830.6" y1="1501.7" x2="1830.6" y2="1508.7" stroke="#000" stroke-width="1.8"/>
<text x="1830.6" y="1525.1" font-size="15" text-anchor="middle">-0.6</text>
<line x1="1890.3" y1="1501.7" x2="1890.3" y2="1508.7" stroke="#000" stroke-width="1.8"/>
<text x="1890.3" y="1525.1" font-size="15" text-anchor="middle">-0.4</text>
<line x1="1949.5" y1="1501.7" x2="1949.5" y2="1508.7" stroke="#000" stroke-width="1.8"/>
<text x="1949.5" y="1525.1" font-size="15" text-anchor="middle">-0.2</text>
<line x1="2008.7" y1="1501.7" x2="2008.7" y2="1508.7" stroke="#000" stroke-width="1.8"/>
<text x="2008.7" y="1525.1" font-size="15" text-anchor="middle">0.0</text>
<text x="1881.2" y="1545.3" font-size="17" text-anchor="middle">SHP1(PTPN6)</text>
<text x="1701.1" y="1355" font-size="17" text-anchor="middle" transform="rotate(-90 1701.1 1355)">SRC</text></svg></body></html>
